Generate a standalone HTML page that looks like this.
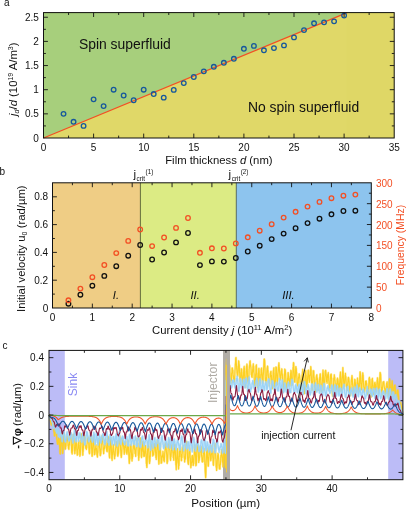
<!DOCTYPE html>
<html><head><meta charset="utf-8"><title>figure</title>
<style>html,body{margin:0;padding:0;background:#fff;}body{width:411px;height:510px;overflow:hidden;font-family:"Liberation Sans",sans-serif;}svg{display:block;will-change:transform;}</style>
</head><body>
<svg width="411" height="510" viewBox="0 0 411 510" font-family="Liberation Sans, sans-serif">
<rect width="411" height="510" fill="#fff"/>
<rect x="43.5" y="12.6" width="350.7" height="125.4" fill="#e0d868"/>
<rect x="346.7" y="12.6" width="47.5" height="125.4" fill="#dfd766"/>
<path d="M43.5 138L347.14 12.6L43.5 12.6Z" fill="#a7cf7c"/>
<path d="M43.5 138L347.14 12.6" stroke="#f34f24" stroke-width="1.2" fill="none"/>
<g fill="none" stroke="#16589c" stroke-width="1.3">
<circle cx="63.54" cy="113.85" r="2.3"/>
<circle cx="73.56" cy="121.82" r="2.3"/>
<circle cx="83.58" cy="125.92" r="2.3"/>
<circle cx="93.6" cy="99.36" r="2.3"/>
<circle cx="103.62" cy="106.12" r="2.3"/>
<circle cx="113.64" cy="89.7" r="2.3"/>
<circle cx="123.66" cy="95.5" r="2.3"/>
<circle cx="133.68" cy="100.23" r="2.3"/>
<circle cx="143.7" cy="89.7" r="2.3"/>
<circle cx="153.72" cy="94.05" r="2.3"/>
<circle cx="163.74" cy="97.67" r="2.3"/>
<circle cx="173.76" cy="89.89" r="2.3"/>
<circle cx="183.78" cy="83.08" r="2.3"/>
<circle cx="193.8" cy="77" r="2.3"/>
<circle cx="203.82" cy="71.35" r="2.3"/>
<circle cx="213.84" cy="66.81" r="2.3"/>
<circle cx="223.86" cy="62.8" r="2.3"/>
<circle cx="233.88" cy="58.79" r="2.3"/>
<circle cx="243.9" cy="48.79" r="2.3"/>
<circle cx="253.92" cy="45.89" r="2.3"/>
<circle cx="263.94" cy="50.29" r="2.3"/>
<circle cx="273.96" cy="48.11" r="2.3"/>
<circle cx="283.98" cy="45.41" r="2.3"/>
<circle cx="294" cy="37.39" r="2.3"/>
<circle cx="304.02" cy="30.1" r="2.3"/>
<circle cx="314.04" cy="23.29" r="2.3"/>
<circle cx="324.06" cy="22.37" r="2.3"/>
<circle cx="334.08" cy="21.36" r="2.3"/>
<circle cx="344.1" cy="15.51" r="2.3"/>
</g>
<rect x="43.5" y="12.6" width="350.7" height="125.4" fill="none" stroke="#111" stroke-width="1.0"/>
<path d="M93.6 138v-4.4M93.6 12.6v4.4M143.7 138v-4.4M143.7 12.6v4.4M193.8 138v-4.4M193.8 12.6v4.4M243.9 138v-4.4M243.9 12.6v4.4M294 138v-4.4M294 12.6v4.4M344.1 138v-4.4M344.1 12.6v4.4M68.55 138v-2.4M68.55 12.6v2.4M118.65 138v-2.4M118.65 12.6v2.4M168.75 138v-2.4M168.75 12.6v2.4M218.85 138v-2.4M218.85 12.6v2.4M268.95 138v-2.4M268.95 12.6v2.4M319.05 138v-2.4M319.05 12.6v2.4M369.15 138v-2.4M369.15 12.6v2.4M43.5 113.85h4.4M43.5 89.7h4.4M43.5 65.55h4.4M43.5 41.4h4.4M43.5 17.25h4.4M43.5 125.92h2.4M43.5 101.78h2.4M43.5 77.62h2.4M43.5 53.48h2.4M43.5 29.33h2.4M394.2 113.85h-4.4M394.2 89.7h-4.4M394.2 65.55h-4.4M394.2 41.4h-4.4M394.2 17.25h-4.4M394.2 125.92h-2.4M394.2 101.78h-2.4M394.2 77.62h-2.4M394.2 53.48h-2.4M394.2 29.33h-2.4" stroke="#111" stroke-width="0.9" fill="none"/>
<text x="4" y="5.8" font-size="10" text-anchor="start" fill="#111" >a</text>
<text x="43.5" y="150.6" font-size="10" text-anchor="middle" fill="#111" >0</text>
<text x="93.6" y="150.6" font-size="10" text-anchor="middle" fill="#111" >5</text>
<text x="143.7" y="150.6" font-size="10" text-anchor="middle" fill="#111" >10</text>
<text x="193.8" y="150.6" font-size="10" text-anchor="middle" fill="#111" >15</text>
<text x="243.9" y="150.6" font-size="10" text-anchor="middle" fill="#111" >20</text>
<text x="294" y="150.6" font-size="10" text-anchor="middle" fill="#111" >25</text>
<text x="344.1" y="150.6" font-size="10" text-anchor="middle" fill="#111" >30</text>
<text x="394.2" y="150.6" font-size="10" text-anchor="middle" fill="#111" >35</text>
<text x="38.8" y="141.6" font-size="10" text-anchor="end" fill="#111" >0</text>
<text x="38.8" y="117.45" font-size="10" text-anchor="end" fill="#111" >0.5</text>
<text x="38.8" y="93.3" font-size="10" text-anchor="end" fill="#111" >1</text>
<text x="38.8" y="69.15" font-size="10" text-anchor="end" fill="#111" >1.5</text>
<text x="38.8" y="45" font-size="10" text-anchor="end" fill="#111" >2</text>
<text x="38.8" y="20.85" font-size="10" text-anchor="end" fill="#111" >2.5</text>
<text x="218.9" y="164" font-size="11.3" text-anchor="middle" fill="#111" >Film thickness <tspan font-style="italic">d</tspan> (nm)</text>
<text transform="translate(17.2 79.2) rotate(-90)" font-size="11.3" text-anchor="middle" fill="#111" ><tspan font-style="italic">j</tspan><tspan font-style="italic" font-size="7" dy="2">d</tspan><tspan dy="-2">/</tspan><tspan font-style="italic">d</tspan> (10<tspan font-size="7" dy="-4">19</tspan><tspan dy="4"> A/m</tspan><tspan font-size="7" dy="-4">3</tspan><tspan dy="4">)</tspan></text>
<text x="78.9" y="48.6" font-size="13.9" text-anchor="start" fill="#111" >Spin superfluid</text>
<text x="248" y="111.7" font-size="13.9" text-anchor="start" fill="#111" >No spin superfluid</text>
<rect x="52.5" y="182.8" width="87.9" height="125.2" fill="#efcd85"/>
<rect x="140.4" y="182.8" width="95.9" height="125.2" fill="#dceb84"/>
<rect x="236.3" y="182.8" width="135" height="125.2" fill="#8dc4ee"/>
<path d="M140.4 182.8V308" stroke="#55602e" stroke-width="0.9"/>
<path d="M236.3 182.8V308" stroke="#4a5f55" stroke-width="0.9"/>
<g fill="none" stroke="#111" stroke-width="1.3">
<circle cx="68.44" cy="303.7" r="2.3"/>
<circle cx="80.39" cy="294.7" r="2.3"/>
<circle cx="92.35" cy="285.7" r="2.3"/>
<circle cx="104.3" cy="275.9" r="2.3"/>
<circle cx="116.26" cy="266.2" r="2.3"/>
<circle cx="128.22" cy="255.7" r="2.3"/>
<circle cx="140.17" cy="245" r="2.3"/>
<circle cx="152.12" cy="259.5" r="2.3"/>
<circle cx="164.08" cy="252.5" r="2.3"/>
<circle cx="176.03" cy="242.4" r="2.3"/>
<circle cx="187.99" cy="233" r="2.3"/>
<circle cx="199.94" cy="265.1" r="2.3"/>
<circle cx="211.9" cy="261.4" r="2.3"/>
<circle cx="223.85" cy="261.6" r="2.3"/>
<circle cx="235.81" cy="258" r="2.3"/>
<circle cx="247.77" cy="251.5" r="2.3"/>
<circle cx="259.72" cy="245.7" r="2.3"/>
<circle cx="271.68" cy="239.1" r="2.3"/>
<circle cx="283.63" cy="233.6" r="2.3"/>
<circle cx="295.59" cy="228.2" r="2.3"/>
<circle cx="307.54" cy="223.1" r="2.3"/>
<circle cx="319.5" cy="218.7" r="2.3"/>
<circle cx="331.45" cy="214.3" r="2.3"/>
<circle cx="343.41" cy="211" r="2.3"/>
<circle cx="355.36" cy="210.7" r="2.3"/>
</g>
<g fill="none" stroke="#f34f24" stroke-width="1.3">
<circle cx="68.44" cy="300.3" r="2.3"/>
<circle cx="80.39" cy="288.6" r="2.3"/>
<circle cx="92.35" cy="277.2" r="2.3"/>
<circle cx="104.3" cy="265" r="2.3"/>
<circle cx="116.26" cy="253.1" r="2.3"/>
<circle cx="128.22" cy="240.9" r="2.3"/>
<circle cx="140.17" cy="229.5" r="2.3"/>
<circle cx="152.12" cy="246.1" r="2.3"/>
<circle cx="164.08" cy="237.5" r="2.3"/>
<circle cx="176.03" cy="227.9" r="2.3"/>
<circle cx="187.99" cy="218" r="2.3"/>
<circle cx="199.94" cy="252.8" r="2.3"/>
<circle cx="211.9" cy="248.3" r="2.3"/>
<circle cx="223.85" cy="248.5" r="2.3"/>
<circle cx="235.81" cy="243.4" r="2.3"/>
<circle cx="247.77" cy="237.3" r="2.3"/>
<circle cx="259.72" cy="230.7" r="2.3"/>
<circle cx="271.68" cy="224.2" r="2.3"/>
<circle cx="283.63" cy="217.6" r="2.3"/>
<circle cx="295.59" cy="211.8" r="2.3"/>
<circle cx="307.54" cy="206.6" r="2.3"/>
<circle cx="319.5" cy="201.9" r="2.3"/>
<circle cx="331.45" cy="198.2" r="2.3"/>
<circle cx="343.41" cy="195.7" r="2.3"/>
<circle cx="355.36" cy="194.6" r="2.3"/>
</g>
<rect x="52.5" y="182.8" width="318.8" height="125.2" fill="none" stroke="#111" stroke-width="1.0"/>
<path d="M92.35 308v-4.4M92.35 182.8v4.4M132.2 308v-4.4M132.2 182.8v4.4M172.05 308v-4.4M172.05 182.8v4.4M211.9 308v-4.4M211.9 182.8v4.4M251.75 308v-4.4M251.75 182.8v4.4M291.6 308v-4.4M291.6 182.8v4.4M331.45 308v-4.4M331.45 182.8v4.4M72.42 308v-2.4M72.42 182.8v2.4M112.28 308v-2.4M112.28 182.8v2.4M152.12 308v-2.4M152.12 182.8v2.4M191.97 308v-2.4M191.97 182.8v2.4M231.83 308v-2.4M231.83 182.8v2.4M271.68 308v-2.4M271.68 182.8v2.4M311.53 308v-2.4M311.53 182.8v2.4M351.38 308v-2.4M351.38 182.8v2.4M52.5 280.2h4.4M52.5 252.4h4.4M52.5 224.6h4.4M52.5 196.8h4.4M52.5 294.1h2.4M52.5 266.3h2.4M52.5 238.5h2.4M52.5 210.7h2.4M371.3 287.13h-4.4M371.3 266.27h-4.4M371.3 245.4h-4.4M371.3 224.53h-4.4M371.3 203.67h-4.4M371.3 297.57h-2.4M371.3 276.7h-2.4M371.3 255.83h-2.4M371.3 234.97h-2.4M371.3 214.1h-2.4M371.3 193.23h-2.4" stroke="#111" stroke-width="0.9" fill="none"/>
<text x="-0.5" y="175" font-size="10" text-anchor="start" fill="#111" >b</text>
<text x="52.5" y="320.9" font-size="10" text-anchor="middle" fill="#111" >0</text>
<text x="92.35" y="320.9" font-size="10" text-anchor="middle" fill="#111" >1</text>
<text x="132.2" y="320.9" font-size="10" text-anchor="middle" fill="#111" >2</text>
<text x="172.05" y="320.9" font-size="10" text-anchor="middle" fill="#111" >3</text>
<text x="211.9" y="320.9" font-size="10" text-anchor="middle" fill="#111" >4</text>
<text x="251.75" y="320.9" font-size="10" text-anchor="middle" fill="#111" >5</text>
<text x="291.6" y="320.9" font-size="10" text-anchor="middle" fill="#111" >6</text>
<text x="331.45" y="320.9" font-size="10" text-anchor="middle" fill="#111" >7</text>
<text x="371.3" y="320.9" font-size="10" text-anchor="middle" fill="#111" >8</text>
<text x="48.2" y="311.6" font-size="10" text-anchor="end" fill="#111" >0</text>
<text x="48.2" y="283.8" font-size="10" text-anchor="end" fill="#111" >0.2</text>
<text x="48.2" y="256" font-size="10" text-anchor="end" fill="#111" >0.4</text>
<text x="48.2" y="228.2" font-size="10" text-anchor="end" fill="#111" >0.6</text>
<text x="48.2" y="200.4" font-size="10" text-anchor="end" fill="#111" >0.8</text>
<text x="376" y="312" font-size="10" text-anchor="start" fill="#f34f24" >0</text>
<text x="376" y="291.13" font-size="10" text-anchor="start" fill="#f34f24" >50</text>
<text x="376" y="270.27" font-size="10" text-anchor="start" fill="#f34f24" >100</text>
<text x="376" y="249.4" font-size="10" text-anchor="start" fill="#f34f24" >150</text>
<text x="376" y="228.53" font-size="10" text-anchor="start" fill="#f34f24" >200</text>
<text x="376" y="207.67" font-size="10" text-anchor="start" fill="#f34f24" >250</text>
<text x="376" y="186.8" font-size="10" text-anchor="start" fill="#f34f24" >300</text>
<text x="222.1" y="333.9" font-size="11.3" text-anchor="middle" fill="#111" >Current density <tspan font-style="italic">j</tspan> (10<tspan font-size="7.6" dy="-4">11</tspan><tspan dy="4"> A/m</tspan><tspan font-size="7.6" dy="-4">2</tspan><tspan dy="4">)</tspan></text>
<text transform="translate(25.3 248.7) rotate(-90)" font-size="11.3" text-anchor="middle" fill="#111" >Initial velocity u<tspan font-size="7" dy="2">0</tspan><tspan dy="-2"> (rad/µm)</tspan></text>
<text transform="translate(404 245) rotate(-90)" font-size="10.4" text-anchor="middle" fill="#f34f24" >Frequency (MHz)</text>
<text x="133.5" y="177.8" font-size="11.7" text-anchor="start" fill="#111" >j<tspan font-size="6.4" dy="3.6" dx="0.5">crit</tspan><tspan font-size="6.3" dy="-7.6" dx="0.4">(1)</tspan></text>
<text x="228.6" y="177.8" font-size="11.7" text-anchor="start" fill="#111" >j<tspan font-size="6.4" dy="3.6" dx="0.5">crit</tspan><tspan font-size="6.3" dy="-7.6" dx="0.4">(2)</tspan></text>
<text x="112.8" y="298.9" font-size="11.3" text-anchor="start" fill="#111" font-style="italic">I.</text>
<text x="190.4" y="298.9" font-size="11.3" text-anchor="start" fill="#111" font-style="italic">II.</text>
<text x="282.2" y="298.9" font-size="11.3" text-anchor="start" fill="#111" font-style="italic">III.</text>
<rect x="49" y="350.4" width="15.8" height="129.3" fill="#bcbcf7"/>
<rect x="388.2" y="350.4" width="14.7" height="129.3" fill="#bcbcf7"/>
<rect x="223" y="350.4" width="6.9" height="129.3" fill="#b1ada7"/>
<defs><path id="pfdd023" d="M49 415.05L49.14 415.68L49.27 416.07L49.41 416.48L49.54 416.84L49.68 416.98L49.82 417.34L49.95 418.24L50.09 418.47L50.23 419.07L50.36 420.31L50.5 420.7L50.63 421.79L50.77 422.26L50.91 423.14L51.04 423.31L51.18 424.31L51.31 424.94L51.45 424.76L51.59 425.03L51.72 424.79L51.86 423.7L51.99 424.18L52.13 423.47L52.27 422.54L52.4 421.68L52.54 422.61L52.68 421.84L52.81 422.31L52.95 422.92L53.08 423.25L53.22 424.5L53.36 424.68L53.49 426.76L53.63 427.55L53.76 430.04L53.9 431.46L54.04 431.28L54.17 432.57L54.31 433.7L54.44 436L54.58 435.18L54.72 435.62L54.85 434.57L54.99 434.49L55.13 433.45L55.26 432.5L55.4 432.21L55.53 431.43L55.67 431.65L55.81 430.73L55.94 431.36L56.08 431.48L56.21 432.51L56.35 432.61L56.49 432.43L56.62 435.87L56.76 437.78L56.89 439.23L57.03 439.8L57.17 441.64L57.3 441.26L57.44 444.04L57.58 443.76L57.71 443L57.85 442.08L57.98 444.16L58.12 443.9L58.26 440.03L58.39 441.57L58.53 439.5L58.66 437.75L58.8 437.78L58.94 439.49L59.07 440.47L59.21 438.62L59.34 442.36L59.48 442.28L59.62 447L59.75 447.72L59.89 451.69L60.03 453.43L60.16 452.18L60.3 453.86L60.43 449.71L60.57 446.54L60.71 445.82L60.84 440.55L60.98 438.29L61.11 436.66L61.25 435.76L61.39 433.23L61.52 433.14L61.66 437.81L61.79 437.91L61.93 443.37L62.07 446.29L62.2 447.28L62.34 450.16L62.48 452.15L62.61 453.4L62.75 452.88L62.88 451.38L63.02 449.4L63.16 447.84L63.29 443.02L63.43 439.66L63.56 438.12L63.7 434.14L63.84 433.13L63.97 435.44L64.11 434.11L64.24 435.46L64.38 435.15L64.52 438.95L64.65 441.94L64.79 441.96L64.93 446.28L65.06 447.87L65.2 446.59L65.33 449.26L65.47 448.48L65.61 448.69L65.74 446.34L65.88 446.41L66.01 445.03L66.15 440.62L66.29 439.28L66.42 440.39L66.56 440.43L66.69 436.78L66.83 437.1L66.97 437.48L67.1 436.55L67.24 437.19L67.38 437.72L67.51 438.91L67.65 440.95L67.78 441.04L67.92 442.66L68.06 445.53L68.19 443.77L68.33 446.98L68.46 448.47L68.6 447.32L68.74 447.17L68.87 449.33L69.01 446.53L69.15 445.41L69.28 445.15L69.42 444.66L69.55 440.53L69.69 439.57L69.83 437.8L69.96 438.13L70.1 435.15L70.23 435.81L70.37 432.54L70.51 433.25L70.64 435.14L70.78 437.29L70.91 437.3L71.05 438.57L71.19 440.61L71.32 444.83L71.46 445.98L71.6 450.69L71.73 452.61L71.87 451.17L72 452.03L72.14 453.85L72.28 452.14L72.41 451.07L72.55 446.96L72.68 443.48L72.82 441.4L72.96 440.82L73.09 436.5L73.23 435.15L73.36 434.51L73.5 434.42L73.64 435.1L73.77 438.62L73.91 437.62L74.05 439.49L74.18 445.89L74.32 448.18L74.45 450.82L74.59 450.29L74.73 453.39L74.86 453.62L75 450.39L75.13 451.5L75.27 450.4L75.41 447.97L75.54 445.59L75.68 443.01L75.81 441.89L75.95 440.57L76.09 439.63L76.22 442.02L76.36 441.66L76.5 445.1L76.63 443.72L76.77 449.08L76.9 450.16L77.04 452.87L77.18 454.24L77.31 455.28L77.45 454.47L77.58 452.1L77.72 454.39L77.86 450.55L77.99 449.05L78.13 448.33L78.26 445.62L78.4 443.28L78.54 443.97L78.67 441.85L78.81 440.69L78.95 441.03L79.08 444.88L79.22 445.27L79.35 448.78L79.49 449.39L79.63 450.92L79.76 453.96L79.9 456.09L80.03 453.63L80.17 455.39L80.31 454.32L80.44 451.53L80.58 448.77L80.71 442.4L80.85 441.89L80.99 440.16L81.12 434.77L81.26 434.34L81.4 433.88L81.53 435.37L81.67 436.22L81.8 438.39L81.94 442.08L82.08 441.65L82.21 444.59L82.35 447.38L82.48 449.45L82.62 450.71L82.76 455.21L82.89 454.82L83.03 451.13L83.16 451.63L83.3 449.21L83.44 447.2L83.57 445.17L83.71 444.19L83.85 441.9L83.98 439.22L84.12 437.13L84.25 436.73L84.39 435.4L84.53 437.12L84.66 438.16L84.8 437.56L84.93 437.4L85.07 439.08L85.21 441.27L85.34 443.64L85.48 445.76L85.62 445.4L85.75 448.21L85.89 448.36L86.02 448.19L86.16 448.28L86.3 448.82L86.43 449.39L86.57 447.7L86.7 448L86.84 446.02L86.98 443.94L87.11 443.8L87.25 443.08L87.38 439.2L87.52 439.42L87.66 438.42L87.79 439.55L87.93 439.44L88.07 437.23L88.2 439.92L88.34 440.5L88.47 439.79L88.61 442.42L88.75 443.07L88.88 448.03L89.02 449.48L89.15 452.2L89.29 453.17L89.43 453.41L89.56 453.72L89.7 452.3L89.83 448.93L89.97 448.78L90.11 443.78L90.24 441.48L90.38 441.23L90.52 435.74L90.65 434.03L90.79 432.99L90.92 436.09L91.06 434.16L91.2 435.42L91.33 441.45L91.47 441.7L91.6 448.04L91.74 450.55L91.88 453.89L92.01 456.22L92.15 455.53L92.28 456.2L92.42 451.82L92.56 452.71L92.69 449L92.83 446.95L92.97 441.71L93.1 442.06L93.24 441.28L93.37 437.05L93.51 438.44L93.65 440.61L93.78 443.6L93.92 443.59L94.05 445.92L94.19 448.72L94.33 452.4L94.46 454.6L94.6 454.11L94.73 454.29L94.87 454.06L95.01 452.96L95.14 451.95L95.28 449.07L95.42 449.27L95.55 449.86L95.69 446.52L95.82 447.29L95.96 444.77L96.1 447.38L96.23 448.24L96.37 448.71L96.5 449.22L96.64 450.46L96.78 452.57L96.91 454.99L97.05 453.05L97.18 453.61L97.32 456.61L97.46 457.08L97.59 454.65L97.73 453.02L97.87 452.38L98 448.07L98.14 446.11L98.27 443.54L98.41 443.01L98.55 440.13L98.68 438.53L98.82 439.77L98.95 440.87L99.09 438.85L99.23 441.86L99.36 442.49L99.5 446.52L99.63 447.83L99.77 448.94L99.91 450.97L100.04 452.04L100.18 455.29L100.32 455.63L100.45 454.83L100.59 454.98L100.72 453.56L100.86 453.61L101 448.75L101.13 449.74L101.27 445.01L101.4 442.96L101.54 440.12L101.68 439.72L101.81 438.25L101.95 436.31L102.09 435.76L102.22 437.11L102.36 438.6L102.49 438.1L102.63 441.23L102.77 444.15L102.9 444.18L103.04 445.22L103.17 447.1L103.31 450.67L103.45 451.69L103.58 453.63L103.72 453.51L103.85 450.82L103.99 450.03L104.13 449.38L104.26 447.86L104.4 448.59L104.54 447.71L104.67 446.36L104.81 442.27L104.94 443.57L105.08 440.3L105.22 440.11L105.35 441.09L105.49 438.52L105.62 439.03L105.76 442.95L105.9 441.86L106.03 443.53L106.17 446.02L106.3 448.02L106.44 446.75L106.58 449.42L106.71 450.8L106.85 451.51L106.99 450.32L107.12 451.25L107.26 451.6L107.39 447.55L107.53 446.13L107.67 442.12L107.8 440.58L107.94 440.32L108.07 436.67L108.21 439.3L108.35 439.67L108.48 437.47L108.62 443.02L108.75 443.36L108.89 448.12L109.03 451.23L109.16 452.16L109.3 455.95L109.44 457.13L109.57 457.92L109.71 454.66L109.84 454.66L109.98 452.67L110.12 448.15L110.25 444.22L110.39 439.48L110.52 438.86L110.66 437.1L110.8 438.67L110.93 439.75L111.07 441.58L111.2 443.05L111.34 448.49L111.48 451.94L111.61 453.2L111.75 458.63L111.89 459.19L112.02 457.48L112.16 460.4L112.29 455.76L112.43 454.6L112.57 453.93L112.7 451.07L112.84 448.79L112.97 447.54L113.11 445.74L113.25 444.85L113.38 444.71L113.52 445.33L113.65 449.65L113.79 451.68L113.93 452.29L114.06 454.63L114.2 454.4L114.34 455.12L114.47 456.36L114.61 458.75L114.74 455.16L114.88 456.58L115.02 454.58L115.15 455.54L115.29 452.32L115.42 450.6L115.56 449.19L115.7 448.11L115.83 447.53L115.97 444.44L116.1 445.49L116.24 441.72L116.38 442.1L116.51 441.53L116.65 442.14L116.79 445.9L116.92 446.96L117.06 446.22L117.19 447.93L117.33 450.62L117.47 453.65L117.6 455.4L117.74 456.23L117.87 456.25L118.01 454.56L118.15 455.27L118.28 453.49L118.42 453.47L118.55 451.76L118.69 447.98L118.83 445.73L118.96 445.46L119.1 439.88L119.24 441L119.37 439.65L119.51 438.71L119.64 435.77L119.78 436.61L119.92 437.56L120.05 439.22L120.19 442.66L120.32 443.83L120.46 444.82L120.6 449.87L120.73 450.82L120.87 453.51L121.01 455.75L121.14 453.78L121.28 457.43L121.41 456.66L121.55 454.95L121.69 453.51L121.82 451.22L121.96 447.8L122.09 446.84L122.23 442.49L122.37 442.48L122.5 441.57L122.64 439.75L122.77 439.92L122.91 441.87L123.05 442.44L123.18 440.58L123.32 445.05L123.46 446.2L123.59 445.67L123.73 448.73L123.86 449.64L124 450.03L124.14 452.53L124.27 454.22L124.41 451.15L124.54 452.51L124.68 450.42L124.82 446.45L124.95 447.83L125.09 445.11L125.22 445.11L125.36 443.21L125.5 442.84L125.63 441.28L125.77 444.01L125.91 445.9L126.04 447.46L126.18 447.85L126.31 451.51L126.45 452.51L126.59 452.68L126.72 453.54L126.86 454.06L126.99 454.07L127.13 452.55L127.27 451.91L127.4 450.22L127.54 446.81L127.67 443.75L127.81 442.67L127.95 439.96L128.08 440.4L128.22 442.51L128.36 442.91L128.49 444.77L128.63 451.24L128.76 454.12L128.9 456.12L129.04 459.13L129.17 461.98L129.31 463.42L129.44 461.87L129.58 459.9L129.72 458.86L129.85 458.73L129.99 453.09L130.12 451.55L130.26 447.87L130.4 446L130.53 444.71L130.67 445.49L130.81 444.47L130.94 444.71L131.08 446.58L131.21 448.83L131.35 452.45L131.49 452.86L131.62 454.73L131.76 458.18L131.89 459.13L132.03 460.92L132.17 458.04L132.3 458.9L132.44 457.73L132.57 454.62L132.71 456.85L132.85 451.74L132.98 449.29L133.12 449.11L133.26 446.17L133.39 446.8L133.53 444.6L133.66 442.98L133.8 442.37L133.94 445.3L134.07 443.72L134.21 446.56L134.34 446.06L134.48 449.13L134.62 447.6L134.75 448.63L134.89 449.94L135.02 453.45L135.16 453.66L135.3 453.24L135.43 452.67L135.57 455.38L135.71 456.43L135.84 454.24L135.98 450.75L136.11 449.55L136.25 448.18L136.39 446.68L136.52 444.14L136.66 442.26L136.79 443.03L136.93 442.55L137.07 438.43L137.2 441.17L137.34 439.05L137.47 441.13L137.61 442.94L137.75 444.95L137.88 443.42L138.02 447.26L138.16 451.34L138.29 455.47L138.43 454.08L138.56 456.72L138.7 460.14L138.84 457.14L138.97 457.6L139.11 455.78L139.24 454.96L139.38 453.18L139.52 446.8L139.65 446.12L139.79 443.29L139.93 441.51L140.06 438.87L140.2 439.99L140.33 438.07L140.47 439.73L140.61 441.13L140.74 446.23L140.88 447.91L141.01 449.89L141.15 451.98L141.29 456.26L141.42 456.87L141.56 457.55L141.69 455.53L141.83 454.61L141.97 451.26L142.1 451.46L142.24 446.24L142.38 446.14L142.51 445.82L142.65 444.48L142.78 441.67L142.92 442.67L143.06 446.32L143.19 447L143.33 449.91L143.46 451.93L143.6 452.1L143.74 455.8L143.87 456.45L144.01 455.58L144.14 456.01L144.28 454.41L144.42 454.98L144.55 456.1L144.69 450.83L144.83 451.15L144.96 447.57L145.1 446.17L145.23 447.84L145.37 445.9L145.51 445.61L145.64 447.34L145.78 451.4L145.91 453.6L146.05 453.88L146.19 457.69L146.32 463.57L146.46 462.57L146.59 465.67L146.73 465.88L146.87 467.42L147 465.03L147.14 463.42L147.28 459.35L147.41 454.57L147.55 451.2L147.68 447.69L147.82 448.34L147.96 443.33L148.09 441.86L148.23 445.78L148.36 443.12L148.5 447.61L148.64 446.18L148.77 450.34L148.91 451.97L149.04 457.24L149.18 458.66L149.32 460.67L149.45 462.47L149.59 463.53L149.73 461.1L149.86 461.38L150 459.24L150.13 455.83L150.27 456.7L150.41 453.17L150.54 451.66L150.68 446.67L150.81 446.07L150.95 444.09L151.09 444.05L151.22 440.53L151.36 441.53L151.49 442.44L151.63 441.37L151.77 444.56L151.9 446.7L152.04 446.84L152.18 449.38L152.31 450.73L152.45 450.43L152.58 452.24L152.72 456.03L152.86 453.81L152.99 454.58L153.13 453.08L153.26 453.35L153.4 452.49L153.54 454.93L153.67 452.89L153.81 452.2L153.94 451.25L154.08 448.14L154.22 448.12L154.35 445.13L154.49 443.61L154.63 445.27L154.76 444.84L154.9 445.28L155.03 443.99L155.17 446.49L155.31 446.57L155.44 451.17L155.58 453.04L155.71 452.51L155.85 457.37L155.99 455.72L156.12 456.39L156.26 459.46L156.4 457.08L156.53 456.74L156.67 455.18L156.8 449.87L156.94 449.94L157.08 444.83L157.21 442.75L157.35 440.21L157.48 440.7L157.62 440.53L157.76 439.46L157.89 440.69L158.03 444.49L158.16 448.51L158.3 450.79L158.44 454.66L158.57 460.28L158.71 462.01L158.85 464.08L158.98 463.73L159.12 461.77L159.25 457.11L159.39 453.14L159.53 450.56L159.66 448.2L159.8 446.05L159.93 444.58L160.07 443.3L160.21 446.1L160.34 445.23L160.48 448.44L160.61 453.23L160.75 455.98L160.89 456.68L161.02 458.94L161.16 463.28L161.3 460.85L161.43 461.68L161.57 463.01L161.7 462.02L161.84 458.98L161.98 456.89L162.11 456.03L162.25 457.22L162.38 454.96L162.52 456.32L162.66 454.68L162.79 455.31L162.93 451.43L163.06 452.82L163.2 453.13L163.34 456.26L163.47 457.19L163.61 457.19L163.75 460.44L163.88 459.17L164.02 460.44L164.15 459.97L164.29 461.73L164.43 458.83L164.56 456.48L164.7 453.53L164.83 453L164.97 451.57L165.11 449.55L165.24 448.61L165.38 446.55L165.51 442.99L165.65 442.02L165.79 444.95L165.92 445.91L166.06 446.08L166.2 449.42L166.33 450.45L166.47 451.7L166.6 453.67L166.74 455.28L166.88 460L167.01 462.57L167.15 463.44L167.28 461.64L167.42 461.97L167.56 461.92L167.69 459.6L167.83 456.38L167.96 452.94L168.1 450.65L168.24 446.39L168.37 443.94L168.51 444.03L168.65 443.78L168.78 440.78L168.92 439.81L169.05 439.87L169.19 441.28L169.33 444.32L169.46 444.7L169.6 449.18L169.73 447.97L169.87 451.02L170.01 454.09L170.14 455.43L170.28 458.78L170.41 459.56L170.55 460.36L170.69 458.73L170.82 455.43L170.96 456.71L171.1 455.12L171.23 453.15L171.37 450.45L171.5 450.64L171.64 449.98L171.78 445.09L171.91 446.69L172.05 444.87L172.18 445.48L172.32 447.6L172.46 448.75L172.59 448.58L172.73 448.12L172.87 453.1L173 451.6L173.14 454.23L173.27 457.73L173.41 456.61L173.55 457.1L173.68 460.26L173.82 459.76L173.95 455.91L174.09 454.68L174.23 452.25L174.36 449.48L174.5 447.98L174.63 449.54L174.77 444.38L174.91 444.71L175.04 445.15L175.18 446.13L175.32 450.51L175.45 454.55L175.59 458.43L175.72 460.99L175.86 464.95L176 463.73L176.13 466.39L176.27 469.69L176.4 464.76L176.54 463.64L176.68 461.8L176.81 457.62L176.95 455.68L177.08 450.72L177.22 449.71L177.36 452.24L177.49 448.61L177.63 452.88L177.77 451.58L177.9 457.99L178.04 459.73L178.17 462.76L178.31 463.21L178.45 464.78L178.58 468.9L178.72 466.13L178.85 464.97L178.99 465.66L179.13 463.07L179.26 456.15L179.4 456.99L179.53 452.07L179.67 448.89L179.81 445.84L179.94 446.09L180.08 448.55L180.22 445.87L180.35 446.31L180.49 447.92L180.62 449.62L180.76 452.49L180.9 456.76L181.03 454.48L181.17 456.12L181.3 460.18L181.44 460.69L181.58 460.42L181.71 456.5L181.85 456.02L181.98 457.47L182.12 453.94L182.26 453.38L182.39 450.07L182.53 447.27L182.67 447.41L182.8 448.14L182.94 447.5L183.07 446.1L183.21 445.57L183.35 446.25L183.48 446.56L183.62 448.09L183.75 450.88L183.89 449.71L184.03 453.33L184.16 456.74L184.3 458.18L184.43 456.79L184.57 461.65L184.71 461.99L184.84 459.34L184.98 459.62L185.12 458.6L185.25 456.62L185.39 459L185.52 454.23L185.66 453.85L185.8 447.83L185.93 444.85L186.07 446.45L186.2 444.26L186.34 443.87L186.48 441.89L186.61 441.33L186.75 443.35L186.88 441.96L187.02 446.27L187.16 448.58L187.29 450.28L187.43 455.43L187.57 457.09L187.7 460.44L187.84 461.77L187.97 462.72L188.11 463.29L188.25 463.94L188.38 464.45L188.52 462.39L188.65 459.74L188.79 457.08L188.93 452.07L189.06 452.94L189.2 447.94L189.33 446.14L189.47 447.48L189.61 448.94L189.74 448.32L189.88 451.51L190.02 452.15L190.15 457.82L190.29 458.1L190.42 460.68L190.56 463.05L190.7 466.24L190.83 467.79L190.97 466.13L191.1 465.56L191.24 465.68L191.38 462.1L191.51 462.42L191.65 462.99L191.79 461.47L191.92 456.45L192.06 458.55L192.19 455.48L192.33 457.92L192.47 455.5L192.6 455.76L192.74 458.7L192.87 461.92L193.01 461.59L193.15 465.12L193.28 465.51L193.42 464.37L193.55 463.76L193.69 463.53L193.83 461.07L193.96 458.34L194.1 456.57L194.24 454.44L194.37 450.19L194.51 445.81L194.64 444.58L194.78 444.72L194.92 446.37L195.05 445.78L195.19 447.96L195.32 452.08L195.46 455.19L195.6 457.18L195.73 462.17L195.87 465.78L196 464.86L196.14 465.53L196.28 464.6L196.41 462.36L196.55 459.7L196.69 454.13L196.82 451.76L196.96 445.97L197.09 446.77L197.23 442.59L197.37 442.06L197.5 443.94L197.64 442.08L197.77 443.33L197.91 448.53L198.05 450.17L198.18 450.62L198.32 453.06L198.45 456.93L198.59 457.28L198.73 462.39L198.86 460.1L199 460.56L199.14 460.54L199.27 460.05L199.41 458.24L199.54 457.43L199.68 455.74L199.82 452.88L199.95 449.62L200.09 452.17L200.22 449.66L200.36 446.01L200.5 447.18L200.63 448.51L200.77 449.87L200.9 446.22L201.04 446.86L201.18 450.18L201.31 451.26L201.45 454.91L201.59 456.14L201.72 455.4L201.86 457.26L201.99 459.33L202.13 461.81L202.27 459.49L202.4 460.85L202.54 459.57L202.67 461.82L202.81 458.31L202.95 461.43L203.08 458.17L203.22 456.8L203.35 452.83L203.49 451.81L203.63 451.37L203.76 451.96L203.9 449.77L204.04 448.48L204.17 452.26L204.31 452.09L204.44 453.51L204.58 454.67L204.72 458.27L204.85 464.49L204.99 464.46L205.12 469.6L205.26 472.83L205.4 473.73L205.53 476.87L205.67 477.77L205.8 475.62L205.94 472.23L206.08 466.21L206.21 461.58L206.35 459.25L206.49 454.9L206.62 451.18L206.76 452.02L206.89 447.79L207.03 450.55L207.17 452.16L207.3 450.4L207.44 456.76L207.57 457.38L207.71 459.47L207.85 461.88L207.98 462.99L208.12 465.99L208.25 465.29L208.39 466.28L208.53 464.18L208.66 457.96L208.8 456.62L208.94 453.65L209.07 450.08L209.21 448.41L209.34 447.21L209.48 448.77L209.62 447.51L209.75 447.55L209.89 449.68L210.02 452.66L210.16 455.27L210.3 455.69L210.43 459.36L210.57 458.18L210.71 460.77L210.84 460.34L210.98 457.58L211.11 458.98L211.25 455.65L211.39 454.42L211.52 452.73L211.66 451.06L211.79 448.71L211.93 445.92L212.07 448.92L212.2 449.52L212.34 448.75L212.47 450.7L212.61 451.29L212.75 456.54L212.88 457.96L213.02 458.08L213.16 462.74L213.29 464.85L213.43 462.49L213.56 465.32L213.7 461.95L213.84 458.8L213.97 458.97L214.11 454.48L214.24 453.42L214.38 449.93L214.52 445.27L214.65 445.33L214.79 445.67L214.92 443.62L215.06 444.47L215.2 447.38L215.33 447.58L215.47 450.51L215.61 454.03L215.74 458.41L215.88 458.7L216.01 461.09L216.15 466.62L216.29 467.46L216.42 467.4L216.56 470.52L216.69 470.14L216.83 467.56L216.97 468.14L217.1 465.55L217.24 463.05L217.37 458.8L217.51 455.52L217.65 456.95L217.78 455.93L217.92 453.37L218.06 453.76L218.19 454.54L218.33 453.98L218.46 457.49L218.6 458.71L218.74 460.05L218.87 461.14L219.01 465.7L219.14 465.91L219.28 468.83L219.42 467.05L219.55 468.62L219.69 467.89L219.82 468.71L219.96 468.95L220.1 465.84L220.23 464.34L220.37 464.79L220.51 461.69L220.64 461.17L220.78 457.57L220.91 455.28L221.05 455.47L221.19 455.66L221.32 454.14L221.46 451.66L221.59 450.78L221.73 449.46L221.87 451.24L222 452.73L222.14 457.4L222.27 455.55L222.41 461.57L222.55 461.36L222.68 462.83L222.82 463.14L222.96 466.8L223.09 462.69L223.23 463.15L223.36 460.69L223.5 456.4L223.64 453.27L223.77 453.55L223.91 449.61L224.04 446.96L224.18 446.32L224.32 442.26L224.45 446.05L224.59 448.4L224.72 449.01L224.86 453.81L225 460.15L225.13 460.75L225.27 465.74L225.41 464.81L225.54 467.76L225.68 465.11L225.81 464.2L225.95 460.52L226.09 459.2L226.22 368.13L226.36 365.92L226.49 362.26L226.63 361.63L226.77 359.22L226.9 362.49L227.04 363.13L227.18 366.01L227.31 370.74L227.45 376.45L227.58 379.81L227.72 380.95L227.86 385.37L227.99 384.05L228.13 385.24L228.26 381.97L228.4 380.31L228.54 378.03L228.67 376.53L228.81 374.94L228.94 369.76L229.08 366.74L229.22 364.59L229.35 367.52L229.49 368.16L229.63 365.5L229.76 368.41L229.9 371.76L230.03 372.88L230.17 377.9L230.31 378.05L230.44 379.08L230.58 380.51L230.71 383.17L230.85 383.33L230.99 380.6L231.12 378.5L231.26 380.78L231.39 379.95L231.53 378.01L231.67 373.12L231.8 373.44L231.94 371.77L232.08 368.13L232.21 369.1L232.35 370.25L232.48 368.1L232.62 371.65L232.76 371L232.89 370.05L233.03 373.81L233.16 375.98L233.3 375.36L233.44 377.93L233.57 376.53L233.71 381.99L233.84 379.82L233.98 382.43L234.12 380.68L234.25 382.01L234.39 380.04L234.53 380.14L234.66 378.62L234.8 375.12L234.93 370.77L235.07 370L235.21 367.67L235.34 364.11L235.48 363.27L235.61 360.41L235.75 358.01L235.89 357.65L236.02 357.65L236.16 360.04L236.29 362.85L236.43 364.92L236.57 365.85L236.7 369L236.84 369.62L236.98 373.04L237.11 372.18L237.25 374.85L237.38 375.75L237.52 375.7L237.66 376.14L237.79 375.27L237.93 373.91L238.06 372.77L238.2 366.95L238.34 366.02L238.47 365.94L238.61 360.71L238.74 361.65L238.88 361.57L239.02 363.34L239.15 366.41L239.29 364.54L239.43 370.97L239.56 372.77L239.7 372.48L239.83 378.9L239.97 379.01L240.11 380.36L240.24 382.01L240.38 378.76L240.51 380.39L240.65 381L240.79 377.25L240.92 377.62L241.06 372.58L241.19 370.27L241.33 368.9L241.47 372.18L241.6 369.17L241.74 371.4L241.88 371.74L242.01 374.16L242.15 376.12L242.28 379.06L242.42 378.88L242.56 383.17L242.69 380.42L242.83 385.3L242.96 380.86L243.1 383.44L243.24 382.19L243.37 376.8L243.51 375.1L243.65 371.28L243.78 370.04L243.92 367.63L244.05 369.15L244.19 366.42L244.33 368.21L244.46 368.16L244.6 375.36L244.73 378.34L244.87 378.92L245.01 380.9L245.14 385.74L245.28 386.01L245.41 387.23L245.55 387.38L245.69 385.32L245.82 382.06L245.96 381.43L246.1 376.58L246.23 371.06L246.37 370.14L246.5 366.68L246.64 366.09L246.78 365.02L246.91 364.06L247.05 364.92L247.18 365.95L247.32 370.69L247.46 374.72L247.59 376.84L247.73 380.6L247.86 381.78L248 381.57L248.14 382.12L248.27 383.76L248.41 383.28L248.55 382.29L248.68 380.06L248.82 376.37L248.95 375.1L249.09 369.78L249.23 368.92L249.36 367.84L249.5 365.62L249.63 365.97L249.77 361.74L249.91 361.02L250.04 362.53L250.18 360.94L250.31 363.38L250.45 364.2L250.59 364.9L250.72 366.79L250.86 366.93L251 368.72L251.13 370.16L251.27 374.66L251.4 373.01L251.54 375.41L251.68 376.61L251.81 376.41L251.95 376.71L252.08 377.38L252.22 375.72L252.36 373.49L252.49 371.85L252.63 369.47L252.76 371.27L252.9 366.67L253.04 365.9L253.17 365.48L253.31 363.92L253.45 367.99L253.58 365.92L253.72 366.83L253.85 372.44L253.99 372.81L254.13 374.05L254.26 380L254.4 380.28L254.53 382.54L254.67 386.6L254.81 389.05L254.94 388.95L255.08 385.4L255.21 385.58L255.35 383.6L255.49 379.96L255.62 374.38L255.76 374.13L255.9 372.25L256.03 365.73L256.17 367.26L256.3 366.67L256.44 364.83L256.58 369.87L256.71 373.48L256.85 373.08L256.98 379.46L257.12 382.82L257.26 382.27L257.39 387.4L257.53 385.22L257.66 387.62L257.8 386.56L257.94 384.93L258.07 380.84L258.21 377.92L258.35 375.9L258.48 373.05L258.62 372.29L258.75 368.91L258.89 368.4L259.03 369.96L259.16 371.07L259.3 376.36L259.43 377.67L259.57 379.99L259.71 382.09L259.84 379.83L259.98 380.99L260.11 381.18L260.25 382.38L260.39 383.37L260.52 380.46L260.66 380.31L260.8 374.45L260.93 375.36L261.07 373.48L261.2 369.09L261.34 371.57L261.48 367.98L261.61 371.06L261.75 370.35L261.88 374.29L262.02 372.48L262.16 376.7L262.29 378.86L262.43 379.13L262.57 380.62L262.7 382.76L262.84 383.19L262.97 380.21L263.11 381.01L263.25 374.81L263.38 374.34L263.52 371.99L263.65 368.07L263.79 366.05L263.93 362.57L264.06 359.6L264.2 359.03L264.33 359L264.47 359.65L264.61 359.97L264.74 361.36L264.88 366.2L265.02 368.22L265.15 372.98L265.29 377.83L265.42 380.37L265.56 379.45L265.7 382.53L265.83 383.62L265.97 382.89L266.1 380.57L266.24 381.27L266.38 379.46L266.51 377.28L266.65 376.63L266.78 372.04L266.92 370.39L267.06 368.75L267.19 367.86L267.33 367.21L267.47 366.13L267.6 369.07L267.74 366.54L267.87 371.92L268.01 370.31L268.15 375.39L268.28 374.64L268.42 379.05L268.55 381.72L268.69 381.23L268.83 381.16L268.96 382.04L269.1 382.4L269.23 382.03L269.37 385.9L269.51 383.78L269.64 384.05L269.78 379.93L269.92 379.93L270.05 377.17L270.19 375.49L270.32 373.23L270.46 373.51L270.6 371.74L270.73 372.67L270.87 374.64L271 371.33L271.14 375.71L271.28 376.96L271.41 375.22L271.55 379.58L271.68 379.89L271.82 384.74L271.96 385.72L272.09 384.85L272.23 388.71L272.37 386.71L272.5 384.13L272.64 385.94L272.77 381.61L272.91 378.79L273.05 376.42L273.18 372.87L273.32 370.63L273.45 371.79L273.59 370.01L273.73 368.55L273.86 367.8L274 373.39L274.13 374.75L274.27 380.3L274.41 380.65L274.54 385.66L274.68 387.78L274.82 388.51L274.95 391.02L275.09 387.21L275.22 384.56L275.36 381.06L275.5 379.89L275.63 376.26L275.77 373.11L275.9 367.11L276.04 367.5L276.18 367.22L276.31 367.32L276.45 368.24L276.58 372.39L276.72 375.17L276.86 376.12L276.99 378.6L277.13 382.63L277.27 384.65L277.4 380.93L277.54 380.99L277.67 379.96L277.81 378.58L277.95 373.52L278.08 373.18L278.22 371.59L278.35 369.91L278.49 367.09L278.63 364.85L278.76 365.37L278.9 362.82L279.03 364.67L279.17 366.41L279.31 367.49L279.44 369.93L279.58 372L279.72 374.5L279.85 376.04L279.99 377.46L280.12 376.8L280.26 380.03L280.4 377.31L280.53 378.95L280.67 375.61L280.8 377.86L280.94 374.64L281.08 373.37L281.21 370.78L281.35 371.83L281.49 370.65L281.62 370.73L281.76 368.81L281.89 369.26L282.03 372.86L282.17 373.62L282.3 375.51L282.44 374.45L282.57 379.17L282.71 381.21L282.85 384.84L282.98 385.32L283.12 386.33L283.25 388.1L283.39 391.58L283.53 389.47L283.66 388.42L283.8 388.94L283.94 383.67L284.07 383.38L284.21 380.89L284.34 376.76L284.48 374.4L284.62 372.55L284.75 369.16L284.89 369.47L285.02 369.7L285.16 371.1L285.3 369.78L285.43 372.09L285.57 373.31L285.7 376.51L285.84 380.58L285.98 383.03L286.11 384.93L286.25 387.32L286.39 385.61L286.52 387.86L286.66 389.81L286.79 387.52L286.93 387.05L287.07 388.26L287.2 383.5L287.34 383.84L287.47 378.4L287.61 380.19L287.75 377.8L287.88 376.55L288.02 372.89L288.15 372.62L288.29 373.74L288.43 376.2L288.56 375.97L288.7 376.11L288.84 380.53L288.97 378.41L289.11 380.39L289.24 381.44L289.38 383.6L289.52 384.66L289.65 383.28L289.79 386.03L289.92 384.95L290.06 384.34L290.2 382.27L290.33 377.49L290.47 378.45L290.6 373.62L290.74 373.54L290.88 370.37L291.01 370.54L291.15 371.3L291.29 371.82L291.42 377.24L291.56 378.61L291.69 380.71L291.83 382.86L291.97 383.75L292.1 384.03L292.24 384.86L292.37 383.15L292.51 382.22L292.65 380.85L292.78 376.7L292.92 371.89L293.05 367.99L293.19 366.89L293.33 364.79L293.46 362.62L293.6 364.49L293.74 362.96L293.87 369.13L294.01 369.23L294.14 373.15L294.28 377.45L294.42 378.87L294.55 381.8L294.69 381.1L294.82 381.74L294.96 382.25L295.1 379.3L295.23 376.89L295.37 377.34L295.5 371.74L295.64 369.31L295.78 366.77L295.91 366.67L296.05 367.97L296.19 369.3L296.32 368.6L296.46 372.38L296.59 372.25L296.73 375.5L296.87 376.86L297 381.17L297.14 383.35L297.27 382.22L297.41 384.27L297.55 386L297.68 385.2L297.82 385.29L297.96 383.58L298.09 383.05L298.23 382.79L298.36 378.43L298.5 377.51L298.64 376.83L298.77 377.86L298.91 377.39L299.04 374.48L299.18 373.82L299.32 374.62L299.45 376.92L299.59 375.43L299.72 377.29L299.86 379.21L300 379.73L300.13 381.93L300.27 382.7L300.41 383.84L300.54 384.28L300.68 389.27L300.81 388.14L300.95 386.97L301.09 388.22L301.22 388.04L301.36 385.85L301.49 387.95L301.63 382.77L301.77 381.35L301.9 379.21L302.04 378.09L302.17 374.61L302.31 374.94L302.45 371.88L302.58 372.32L302.72 369.38L302.86 370.64L302.99 373.5L303.13 374.33L303.26 378.48L303.4 380.73L303.54 385.24L303.67 385.01L303.81 387.84L303.94 389.68L304.08 393.68L304.22 390.71L304.35 393.54L304.49 389.64L304.62 387.77L304.76 386.92L304.9 382.37L305.03 377.4L305.17 375.85L305.31 375.03L305.44 371.42L305.58 372.78L305.71 370.67L305.85 373.84L305.99 376.91L306.12 375.18L306.26 381.42L306.39 382.92L306.53 382.69L306.67 387.02L306.8 386.03L306.94 384.82L307.07 385.41L307.21 385.25L307.35 381.76L307.48 379.44L307.62 378.34L307.76 376.05L307.89 375.56L308.03 373.8L308.16 370.42L308.3 370.23L308.44 374.72L308.57 374.71L308.71 375.82L308.84 374.87L308.98 378.98L309.12 380.55L309.25 379.09L309.39 382.29L309.52 378.8L309.66 380.36L309.8 377.07L309.93 375.43L310.07 375.62L310.21 371.16L310.34 370.86L310.48 370.06L310.61 369.7L310.75 366.47L310.89 367.52L311.02 369.93L311.16 369.76L311.29 375.23L311.43 377.31L311.57 382.09L311.7 383.99L311.84 384.23L311.97 387.67L312.11 390.03L312.25 389.56L312.38 386.74L312.52 386.42L312.66 381.28L312.79 381.96L312.93 375.57L313.06 373.94L313.2 370.89L313.34 371.4L313.47 371.96L313.61 371.73L313.74 370.85L313.88 375.23L314.02 377.24L314.15 377.1L314.29 379.57L314.43 382.45L314.56 385.04L314.7 388.3L314.83 388.41L314.97 390L315.11 390.78L315.24 390.91L315.38 391.64L315.51 389.95L315.65 387.56L315.79 384.79L315.92 384.35L316.06 378.93L316.19 379.04L316.33 377.07L316.47 375.49L316.6 377.8L316.74 374.83L316.88 374.75L317.01 378.26L317.15 379.72L317.28 377.91L317.42 378.77L317.56 380.5L317.69 383.53L317.83 384.02L317.96 387.31L318.1 387.84L318.24 387.87L318.37 387.04L318.51 390.08L318.64 386.41L318.78 389.81L318.92 385.03L319.05 387.06L319.19 383.22L319.33 381.66L319.46 379.4L319.6 379.78L319.73 377.25L319.87 377.67L320.01 374.42L320.14 377.05L320.28 373.86L320.41 375.82L320.55 379.39L320.69 377.49L320.82 382.41L320.96 385.96L321.09 387.67L321.23 390.97L321.37 391.76L321.5 391.15L321.64 390.36L321.78 391.34L321.91 388.95L322.05 386.81L322.18 384.34L322.32 382.46L322.46 379.67L322.59 377.02L322.73 372.91L322.86 372.79L323 369.99L323.14 372.35L323.27 372.87L323.41 375.46L323.54 378.13L323.68 383.33L323.82 385.9L323.95 386.51L324.09 390.11L324.23 388.73L324.36 386.95L324.5 387.84L324.63 383.03L324.77 381.57L324.91 377.03L325.04 375.8L325.18 372.29L325.31 370.72L325.45 371.75L325.59 370.22L325.72 370.58L325.86 372.35L325.99 373.21L326.13 374.02L326.27 376.28L326.4 377.68L326.54 381.77L326.68 380.53L326.81 381.33L326.95 379.9L327.08 383.19L327.22 381.41L327.36 376.7L327.49 377.83L327.63 375.09L327.76 374.47L327.9 374.53L328.04 374.06L328.17 373.75L328.31 372.69L328.44 375.81L328.58 376.36L328.72 380.34L328.85 380.7L328.99 383.23L329.13 384.56L329.26 385.55L329.4 390.02L329.53 386.81L329.67 388.21L329.81 388.96L329.94 386.8L330.08 386.57L330.21 383.92L330.35 379.13L330.49 377.48L330.62 374.89L330.76 376.33L330.89 375.6L331.03 374.16L331.17 374.08L331.3 374.26L331.44 377.7L331.58 378.07L331.71 381.27L331.85 385.23L331.98 385.83L332.12 391.31L332.26 391.23L332.39 394.51L332.53 396.06L332.66 394.51L332.8 393.93L332.94 392.49L333.07 391.9L333.21 387.55L333.35 385.86L333.48 386.09L333.62 384.34L333.75 378.16L333.89 378.63L334.03 378.52L334.16 377.34L334.3 374.83L334.43 377.25L334.57 377.17L334.71 377.08L334.84 379.96L334.98 380.45L335.11 381.08L335.25 383.57L335.39 385.97L335.52 387.45L335.66 389.93L335.8 389.33L335.93 389.67L336.07 389.89L336.2 389.86L336.34 387.98L336.48 389.19L336.61 385.77L336.75 383.23L336.88 385.7L337.02 383.39L337.16 379.07L337.29 381.82L337.43 378.04L337.56 378.7L337.7 380.93L337.84 379.12L337.97 382.66L338.11 380.47L338.25 384.34L338.38 383.5L338.52 385.36L338.65 390.12L338.79 390.26L338.93 392.05L339.06 389.65L339.2 391.82L339.33 390.6L339.47 388.48L339.61 382.95L339.74 382.8L339.88 379.79L340.01 376.89L340.15 374.66L340.29 374.27L340.42 372.06L340.56 375.61L340.7 377L340.83 378.07L340.97 383.73L341.1 387.13L341.24 387.13L341.38 391.3L341.51 389.9L341.65 390L341.78 390.47L341.92 388.17L342.06 385.87L342.19 378.98L342.33 377.07L342.46 374.2L342.6 372.37L342.74 370.66L342.87 367.62L343.01 371.46L343.15 371.42L343.28 373.53L343.42 376.72L343.55 379.53L343.69 382.8L343.83 386.02L343.96 384.95L344.1 385.26L344.23 386.39L344.37 386.68L344.51 382.37L344.64 383.4L344.78 381.53L344.91 377.8L345.05 375.45L345.19 375.49L345.32 376.93L345.46 373.44L345.6 377.49L345.73 377.82L345.87 376.61L346 379.1L346.14 381.02L346.28 385.57L346.41 383.96L346.55 387.17L346.68 389.82L346.82 387.28L346.96 386.98L347.09 390.52L347.23 388.37L347.36 385.72L347.5 386.99L347.64 385.83L347.77 382.48L347.91 382.45L348.05 378.83L348.18 378.26L348.32 377.36L348.45 377.45L348.59 379.44L348.73 377.73L348.86 378.95L349 380.55L349.13 381.78L349.27 384.73L349.41 387.23L349.54 386.4L349.68 390.69L349.81 393.59L349.95 391.49L350.09 394.43L350.22 394.24L350.36 395.52L350.5 395.59L350.63 393.56L350.77 389.71L350.9 389.83L351.04 384.78L351.18 384.75L351.31 379.87L351.45 380.62L351.58 377.75L351.72 377.81L351.86 377.12L351.99 375.67L352.13 377.08L352.27 377.76L352.4 381L352.54 382.92L352.67 385.4L352.81 385.57L352.95 391.3L353.08 391.95L353.22 391.68L353.35 393.76L353.49 395.32L353.63 391.88L353.76 394.51L353.9 392.87L354.03 391.48L354.17 387.67L354.31 383.86L354.44 384.3L354.58 382.67L354.72 379.41L354.85 381.72L354.99 381.89L355.12 379.71L355.26 383L355.4 382.52L355.53 385.65L355.67 385.44L355.8 386.03L355.94 389.06L356.08 390.87L356.21 390.08L356.35 389.91L356.48 392.15L356.62 390.51L356.76 388.62L356.89 386.44L357.03 385.55L357.17 382.13L357.3 382.12L357.44 378.18L357.57 379.66L357.71 380.06L357.85 381.2L357.98 382.22L358.12 383.62L358.25 383.02L358.39 387.16L358.53 389.13L358.66 388.65L358.8 389.57L358.93 390.46L359.07 391.74L359.21 389.62L359.34 386.38L359.48 384.36L359.62 380.81L359.75 378.33L359.89 375.72L360.02 371.96L360.16 371.87L360.3 372.89L360.43 374.18L360.57 375.84L360.7 378.35L360.84 384.06L360.98 383.62L361.11 387.58L361.25 389.73L361.38 387.95L361.52 388.84L361.66 389.76L361.79 389.5L361.93 385.62L362.07 383.05L362.2 380.68L362.34 379.38L362.47 375.46L362.61 375.42L362.75 372.76L362.88 373.85L363.02 375.67L363.15 374.99L363.29 378.45L363.43 382.14L363.56 383.65L363.7 386.8L363.83 387.27L363.97 386.99L364.11 388.08L364.24 390.01L364.38 392.31L364.52 391.81L364.65 391.43L364.79 389.91L364.92 387.78L365.06 389.07L365.2 385.94L365.33 384.99L365.47 382.93L365.6 381.32L365.74 382.32L365.88 381L366.01 382.13L366.15 381.46L366.28 381.1L366.42 384.1L366.56 383.14L366.69 384.32L366.83 386.91L366.97 388.08L367.1 387.23L367.24 390.6L367.37 392.56L367.51 393.32L367.65 393.21L367.78 394.19L367.92 394.45L368.05 394.17L368.19 393.75L368.33 391.3L368.46 389.25L368.6 389.37L368.74 385.25L368.87 384.27L369.01 379.61L369.14 378.13L369.28 380.2L369.42 377.34L369.55 378.84L369.69 380.57L369.82 378.98L369.96 380.92L370.1 383.93L370.23 387.31L370.37 388.73L370.5 393L370.64 394.64L370.78 396.19L370.91 396.02L371.05 395.81L371.19 396.93L371.32 395.45L371.46 391.63L371.59 388.62L371.73 386.66L371.87 381.93L372 379.75L372.14 378.87L372.27 378.79L372.41 378.36L372.55 381.41L372.68 380.72L372.82 385.71L372.95 385.1L373.09 388.68L373.23 392.23L373.36 394.21L373.5 393.54L373.64 394.29L373.77 392.85L373.91 394.08L374.04 389.34L374.18 389.2L374.32 387.18L374.45 384.16L374.59 383.19L374.72 382.81L374.86 382.95L375 382.38L375.13 384.77L375.27 384.99L375.4 384.15L375.54 388.57L375.68 390.3L375.81 388.68L375.95 391.65L376.09 391.64L376.22 391.47L376.36 390.43L376.49 390.94L376.63 387.58L376.77 388.74L376.9 383.3L377.04 383.41L377.17 380.36L377.31 380.3L377.45 377.77L377.58 379.19L377.72 378.94L377.85 381.37L377.99 381.18L378.13 383.6L378.26 388.22L378.4 388.2L378.54 389.29L378.67 393.34L378.81 394.05L378.94 390.82L379.08 389.59L379.22 391.06L379.35 386.06L379.49 382.62L379.62 382.29L379.76 377.34L379.9 376.67L380.03 372.66L380.17 372.75L380.3 372.7L380.44 374.66L380.58 373.85L380.71 375.56L380.85 379.55L380.99 383.18L381.12 385.74L381.26 387.71L381.39 387.16L381.53 390.13L381.67 390.97L381.8 392.41L381.94 395.13L382.07 393.84L382.21 390.83L382.35 390.03L382.48 388L382.62 387.03L382.75 385.78L382.89 383.97L383.03 381.96L383.16 382.73L383.3 383.47L383.44 381.9L383.57 383L383.71 382.24L383.84 381.59L383.98 383.73L384.12 384.95L384.25 386.83L384.39 387.15L384.52 387.92L384.66 388.96L384.8 388.79L384.93 393.29L385.07 393.38L385.2 394.64L385.34 391.53L385.48 392.64L385.61 392.14L385.75 390.8L385.89 392.99L386.02 388.19L386.16 389.02L386.29 386.36L386.43 385.78L386.57 383.12L386.7 383.84L386.84 383.29L386.97 383.24L387.11 381.75L387.25 383.77L387.38 386.44L387.52 387.59L387.66 388.99L387.79 392.12L387.93 393.5L388.06 394.43L388.2 396.59L388.34 396.59L388.47 398.33L388.61 395.02L388.74 392.85L388.88 391.93L389.02 390.99L389.15 387.73L389.29 382.32L389.42 379.68L389.56 378.87L389.7 379.36L389.83 379.95L389.97 383.34L390.11 383.99L390.24 385.49L390.38 391.85L390.51 393.31L390.65 394.84L390.79 397.26L390.92 399.03L391.06 399.01L391.19 395.63L391.33 392.64L391.47 390.12L391.6 389.13L391.74 385.13L391.87 382.71L392.01 382.99L392.15 380.93L392.28 382.66L392.42 384.45L392.56 386.91L392.69 386.12L392.83 388.18L392.96 392.99L393.1 394.61L393.24 394.79L393.37 395.83L393.51 393.77L393.64 395.31L393.78 392.71L393.92 391.43L394.05 390.62L394.19 387.33L394.32 387.74L394.46 386.53L394.6 385.39L394.73 386.19L394.87 387.23L395.01 385.14L395.14 386.9L395.28 388.96L395.41 390.65L395.55 391.86L395.69 394.54L395.82 396.73L395.96 396.43L396.09 396.23L396.23 399.35L396.37 396.78L396.5 398.44L396.64 395.99L396.77 395.82L396.91 396.19L397.05 395.17L397.18 392.08L397.32 390.79L397.46 390.44L397.59 390.5L397.73 390.43L397.86 390.04L398 390.56L398.14 391.52L398.27 394.12L398.41 394.36L398.54 395.73L398.68 398.29L398.82 401.15L398.95 402.22L399.09 402.51L399.22 403.95L399.36 403.67L399.5 404.58L399.63 404.71L399.77 405.7L399.91 404.83L400.04 404.17L400.18 403.44L400.31 403.07L400.45 403.7L400.59 403.13L400.72 402.44L400.86 403.77L400.99 404.12L401.13 404.52L401.27 404.62L401.4 405.91L401.54 406.49L401.67 407.41L401.81 408.46L401.95 410.02L402.08 410.48L402.22 411.27L402.36 412.09L402.49 412.72L402.63 413.41L402.76 414.13L402.9 415.05"/></defs>
<use href="#pfdd023" fill="none" stroke="#fdd023" stroke-width="2.15" stroke-opacity="0.4" stroke-linejoin="round"/>
<use href="#pfdd023" fill="none" stroke="#fdd023" stroke-width="1.15" stroke-linejoin="round"/>
<defs><path id="p9bd3f7" d="M49 415.05L49.14 415.73L49.27 416.26L49.41 416.77L49.54 417.16L49.68 417.63L49.82 417.66L49.95 418.15L50.09 418.66L50.23 418.76L50.36 419.11L50.5 418.78L50.63 419.12L50.77 419.05L50.91 419.34L51.04 419.43L51.18 419.03L51.31 419.31L51.45 419.5L51.59 420.34L51.72 420.48L51.86 420.21L51.99 421.36L52.13 421.15L52.27 422.33L52.4 422.43L52.54 422.99L52.68 424.88L52.81 424.76L52.95 425.48L53.08 427.22L53.22 427.58L53.36 427.09L53.49 428.33L53.63 427.74L53.76 427.86L53.9 426.83L54.04 427.68L54.17 426.8L54.31 426.79L54.44 426.18L54.58 424.68L54.72 424.48L54.85 423.95L54.99 423.95L55.13 424.03L55.26 424.97L55.4 426.25L55.53 425.83L55.67 428.19L55.81 428.45L55.94 429.36L56.08 431.38L56.21 431.39L56.35 431.57L56.49 432.29L56.62 432.93L56.76 431.28L56.89 433.2L57.03 430.43L57.17 431.71L57.3 431.41L57.44 428.81L57.58 430.41L57.71 429.1L57.85 429.64L57.98 428.31L58.12 428.82L58.26 429.8L58.39 432.74L58.53 431.51L58.66 434.05L58.8 435.5L58.94 436.4L59.07 435.34L59.21 435.86L59.34 436.62L59.48 437.39L59.62 435.08L59.75 436.58L59.89 436.1L60.03 435.56L60.16 432.17L60.3 434.44L60.43 431.05L60.57 431.48L60.71 432.3L60.84 433.58L60.98 432.32L61.11 435.13L61.25 435.01L61.39 435.49L61.52 436.74L61.66 437.42L61.79 438L61.93 438.82L62.07 440.8L62.2 441.63L62.34 438.33L62.48 437.05L62.61 438.92L62.75 436.08L62.88 434.25L63.02 432.34L63.16 432.33L63.29 432.17L63.43 430.38L63.56 430.07L63.7 429.06L63.84 432.44L63.97 430.44L64.11 433.08L64.24 435.52L64.38 434.59L64.52 437.92L64.65 439.89L64.79 439.92L64.93 441.28L65.06 439.61L65.2 440.94L65.33 439.97L65.47 441.94L65.61 439.59L65.74 439.37L65.88 440.28L66.01 438.84L66.15 438.26L66.29 435.61L66.42 434.87L66.56 434.93L66.69 433.53L66.83 432.51L66.97 432.66L67.1 431.78L67.24 432.68L67.38 434.99L67.51 435.33L67.65 434.79L67.78 435L67.92 435.16L68.06 435.05L68.19 436.37L68.33 438.73L68.46 439.65L68.6 438.56L68.74 440.43L68.87 440.67L69.01 440.59L69.15 440.56L69.28 440.84L69.42 439.39L69.55 440.25L69.69 438.5L69.83 438.72L69.96 439.12L70.1 438.26L70.23 436.3L70.37 437.76L70.51 436.11L70.64 435.23L70.78 432.76L70.91 434.02L71.05 432.67L71.19 433.83L71.32 433.1L71.46 434.42L71.6 434.21L71.73 435.25L71.87 434.49L72 436.35L72.14 437.64L72.28 438.96L72.41 438.38L72.55 440.92L72.68 441.75L72.82 441.65L72.96 442.82L73.09 442.64L73.23 440.74L73.36 439.98L73.5 437.7L73.64 438.61L73.77 437.51L73.91 434.54L74.05 433.9L74.18 432.87L74.32 432.1L74.45 429.86L74.59 431.94L74.73 431.8L74.86 433.04L75 433.54L75.13 435.75L75.27 437.89L75.41 439.01L75.54 440.66L75.68 439.4L75.81 440.44L75.95 441.48L76.09 441.78L76.22 439.52L76.36 439.87L76.5 438.27L76.63 434.82L76.77 434.81L76.9 432.79L77.04 431.34L77.18 431.14L77.31 431.72L77.45 431.66L77.58 432.45L77.72 432.96L77.86 435.57L77.99 436.5L78.13 438.39L78.26 439.24L78.4 438.73L78.54 441.29L78.67 438.3L78.81 439.35L78.95 438.38L79.08 438.07L79.22 436.24L79.35 437.73L79.49 435.38L79.63 433.56L79.76 434.95L79.9 432.93L80.03 434.37L80.17 433.87L80.31 435.09L80.44 436.95L80.58 437.24L80.71 436.75L80.85 438.94L80.99 439.21L81.12 439.06L81.26 438.9L81.4 440.82L81.53 440.89L81.67 442.15L81.8 441.89L81.94 440.17L82.08 438.61L82.21 439.58L82.35 435.68L82.48 435.11L82.62 435.76L82.76 435.18L82.89 433.02L83.03 434.32L83.16 435.11L83.3 433.59L83.44 434.25L83.57 434.29L83.71 435.45L83.85 438.77L83.98 437.88L84.12 440.95L84.25 441.89L84.39 441.84L84.53 441.58L84.66 444.65L84.8 443.45L84.93 443.34L85.07 442.91L85.21 444.75L85.34 442.48L85.48 440.96L85.62 440.59L85.75 438.27L85.89 438.75L86.02 436.96L86.16 435.3L86.3 435.89L86.43 435.13L86.57 431.68L86.7 432.92L86.84 431.76L86.98 433.93L87.11 433.59L87.25 432.18L87.38 432.82L87.52 433.16L87.66 436.79L87.79 435.36L87.93 437.34L88.07 437.8L88.2 439.21L88.34 439.83L88.47 440.92L88.61 439.28L88.75 441.75L88.88 440.33L89.02 441.07L89.15 440.2L89.29 439.71L89.43 440L89.56 439.2L89.7 438.19L89.83 438.79L89.97 437.57L90.11 435.04L90.24 435.15L90.38 435.32L90.52 436.46L90.65 436.1L90.79 434.82L90.92 433.08L91.06 435.86L91.2 435.05L91.33 436.06L91.47 437.15L91.6 437.63L91.74 437.91L91.88 440.15L92.01 439.13L92.15 439.8L92.28 441.84L92.42 439.91L92.56 440.28L92.69 441.85L92.83 438.76L92.97 440.61L93.1 439.17L93.24 437.19L93.37 435.55L93.51 436.13L93.65 435.64L93.78 432.39L93.92 433.22L94.05 433.56L94.19 433.92L94.33 434.3L94.46 434.98L94.6 437.95L94.73 440.32L94.87 439.35L95.01 441.22L95.14 444.17L95.28 444.56L95.42 444.07L95.55 441.32L95.69 442.61L95.82 442.03L95.96 440.42L96.1 437.69L96.23 433.91L96.37 435.34L96.5 432.42L96.64 433.6L96.78 434.95L96.91 434.99L97.05 434.32L97.18 436.47L97.32 440.34L97.46 439.46L97.59 442.56L97.73 443.09L97.87 443L98 444.86L98.14 442.71L98.27 442.32L98.41 442.21L98.55 439.85L98.68 438.39L98.82 438.79L98.95 438.14L99.09 437.64L99.23 434.45L99.36 435.14L99.5 434.75L99.63 436.03L99.77 436.22L99.91 438.49L100.04 437.42L100.18 437.21L100.32 440.24L100.45 439.12L100.59 441.36L100.72 441.36L100.86 442.96L101 441.79L101.13 441.86L101.27 440.31L101.4 440.82L101.54 439.22L101.68 440.25L101.81 438.75L101.95 436.72L102.09 436.37L102.22 436.21L102.36 436.91L102.49 434.58L102.63 436.11L102.77 435.77L102.9 433.85L103.04 436.03L103.17 434.4L103.31 435.01L103.45 437.23L103.58 436.75L103.72 439.73L103.85 439.21L103.99 439.52L104.13 441.93L104.26 440.03L104.4 443.01L104.54 441.17L104.67 441.77L104.81 444.59L104.94 443.52L105.08 441.61L105.22 440.69L105.35 442.89L105.49 440.95L105.62 440.47L105.76 437.06L105.9 437.61L106.03 435.61L106.17 434.2L106.3 433.68L106.44 433.95L106.58 432.58L106.71 432.48L106.85 431.66L106.99 434.35L107.12 434.29L107.26 435.62L107.39 435.34L107.53 437.91L107.67 438L107.8 439.52L107.94 440.68L108.07 442.38L108.21 442.16L108.35 441.88L108.48 442.16L108.62 442.96L108.75 442.33L108.89 444.9L109.03 442.9L109.16 443.05L109.3 439.48L109.44 440.05L109.57 440.43L109.71 438.48L109.84 436.94L109.98 436.36L110.12 434.61L110.25 434.58L110.39 434.63L110.52 435.68L110.66 436.26L110.8 438.7L110.93 437.08L111.07 438.4L111.2 439.46L111.34 439.99L111.48 441.25L111.61 441.72L111.75 443.03L111.89 441.7L112.02 444.76L112.16 442.59L112.29 444.1L112.43 442.57L112.57 441.62L112.7 439.98L112.84 440.69L112.97 437.02L113.11 438.27L113.25 436.56L113.38 437.74L113.52 438.09L113.65 436.59L113.79 437.44L113.93 437.75L114.06 439.5L114.2 440.03L114.34 442.1L114.47 444.83L114.61 443.17L114.74 443.06L114.88 443.26L115.02 441.88L115.15 442.35L115.29 440.95L115.42 437.55L115.56 436.36L115.7 436.56L115.83 436.49L115.97 434.9L116.1 434.08L116.24 436.39L116.38 433.93L116.51 435.42L116.65 439.47L116.79 439.87L116.92 440.23L117.06 443.39L117.19 445.99L117.33 444.98L117.47 444.51L117.6 443.23L117.74 442.29L117.87 443.92L118.01 441.01L118.15 440.93L118.28 436.26L118.42 435.47L118.55 433.61L118.69 433.99L118.83 432.41L118.96 433.09L119.1 434.02L119.24 434.42L119.37 434.56L119.51 435.71L119.64 440.25L119.78 438.78L119.92 441.11L120.05 441.75L120.19 442.99L120.32 441.97L120.46 443.04L120.6 442.32L120.73 443.59L120.87 444.47L121.01 442.74L121.14 442.92L121.28 439.89L121.41 438.4L121.55 439.45L121.69 438.55L121.82 438.23L121.96 437.05L122.09 437.55L122.23 437.68L122.37 438.25L122.5 436.19L122.64 436.87L122.77 438.49L122.91 436.8L123.05 436.93L123.18 438.18L123.32 438.03L123.46 441.08L123.59 441.92L123.73 440.82L123.86 440.82L124 441.24L124.14 442.33L124.27 442.19L124.41 443.71L124.54 444.42L124.68 443.31L124.82 442.57L124.95 444.56L125.09 441.88L125.22 441.88L125.36 441.53L125.5 441.09L125.63 439.33L125.77 439.64L125.91 438.47L126.04 439.23L126.18 437.77L126.31 438.36L126.45 437.12L126.59 437.35L126.72 436.83L126.86 436.76L126.99 438.73L127.13 439.06L127.27 441.2L127.4 441.62L127.54 442.81L127.67 442.54L127.81 445.59L127.95 445.02L128.08 444.81L128.22 444.92L128.36 445.25L128.49 445.15L128.63 445.81L128.76 443.33L128.9 441.18L129.04 442.11L129.17 439.8L129.31 436.43L129.44 435.19L129.58 434.44L129.72 434.59L129.85 436.12L129.99 436.65L130.12 436.09L130.26 435.74L130.4 437.69L130.53 438.87L130.67 440.19L130.81 440.4L130.94 443.52L131.08 445.16L131.21 445.22L131.35 443.01L131.49 444.17L131.62 442.2L131.76 443.13L131.89 441.08L132.03 441.65L132.17 440.06L132.3 436.75L132.44 436.78L132.57 438.52L132.71 436.88L132.85 437.05L132.98 437.63L133.12 439.54L133.26 441.05L133.39 440.59L133.53 443.06L133.66 442.55L133.8 441.44L133.94 444.33L134.07 443.05L134.21 441.58L134.34 444.41L134.48 440.4L134.62 441.49L134.75 440.22L134.89 440.68L135.02 438.09L135.16 436.76L135.3 436.51L135.43 436.07L135.57 437.51L135.71 437.26L135.84 439.44L135.98 438.66L136.11 440.25L136.25 441.15L136.39 444.97L136.52 445.56L136.66 446.46L136.79 446.18L136.93 445.6L137.07 444.5L137.2 446.38L137.34 444.28L137.47 441.55L137.61 440.72L137.75 439.12L137.88 440.02L138.02 439.53L138.16 436.16L138.29 437.7L138.43 435.81L138.56 437.25L138.7 438.43L138.84 438.46L138.97 440.25L139.11 440.11L139.24 440.16L139.38 443.26L139.52 444.8L139.65 444.51L139.79 446.17L139.93 446.61L140.06 445.98L140.2 447.11L140.33 447.17L140.47 447.04L140.61 447.14L140.74 445.16L140.88 446.19L141.01 444.47L141.15 443.7L141.29 441.75L141.42 440.62L141.56 439.21L141.69 439.37L141.83 437.22L141.97 437.64L142.1 437.75L142.24 437.18L142.38 436.5L142.51 436.1L142.65 436.6L142.78 438.14L142.92 439.59L143.06 440.93L143.19 441.48L143.33 440.72L143.46 443.6L143.6 441.85L143.74 443.93L143.87 442.04L144.01 444.76L144.14 444.63L144.28 445.69L144.42 445.39L144.55 444.43L144.69 444.63L144.83 443.84L144.96 442.84L145.1 440.79L145.23 441.22L145.37 441.87L145.51 438.83L145.64 440.8L145.78 438.68L145.91 437.68L146.05 435.96L146.19 437.21L146.32 436.52L146.46 438.51L146.59 439.91L146.73 440.68L146.87 440.53L147 440.77L147.14 440.91L147.28 444.12L147.41 444.68L147.55 446.15L147.68 445.56L147.82 447.72L147.96 445.26L148.09 445.16L148.23 444.22L148.36 444.36L148.5 443.97L148.64 439.84L148.77 439.98L148.91 439.08L149.04 436.02L149.18 434.72L149.32 436.29L149.45 437.52L149.59 438.51L149.73 439.25L149.86 439.78L150 441.67L150.13 443.95L150.27 447.07L150.41 446.37L150.54 447.31L150.68 448.95L150.81 450.16L150.95 446.71L151.09 445.03L151.22 443.89L151.36 443.88L151.49 442.42L151.63 439.5L151.77 438.45L151.9 439.25L152.04 439.1L152.18 439.43L152.31 440.21L152.45 438.81L152.58 441.57L152.72 444.16L152.86 445.87L152.99 444.65L153.13 447.36L153.26 447.06L153.4 448.14L153.54 445.31L153.67 446.37L153.81 446.01L153.94 443.66L154.08 441.21L154.22 440.49L154.35 439.41L154.49 438.43L154.63 438.12L154.76 439.52L154.9 437.68L155.03 440.28L155.17 440.66L155.31 441.58L155.44 442.29L155.58 442.78L155.71 444.36L155.85 445.25L155.99 444.71L156.12 446.44L156.26 443.64L156.4 443.75L156.53 443.49L156.67 443.67L156.8 443.73L156.94 443.32L157.08 443.27L157.21 442.57L157.35 439.22L157.48 439.44L157.62 439.1L157.76 437.79L157.89 436.34L158.03 437.79L158.16 436.95L158.3 438.28L158.44 438.07L158.57 440.47L158.71 441.31L158.85 439.21L158.98 442.86L159.12 443.93L159.25 443.58L159.39 444.03L159.53 446.32L159.66 446.64L159.8 448.59L159.93 449.55L160.07 447.64L160.21 447.07L160.34 447.33L160.48 447.33L160.61 446.74L160.75 444.9L160.89 442.72L161.02 441.67L161.16 442.35L161.3 440.06L161.43 437.39L161.57 437.94L161.7 436.71L161.84 437.93L161.98 435.71L162.11 436.61L162.25 436.41L162.38 438.46L162.52 441.17L162.66 440.57L162.79 441.12L162.93 444.28L163.06 442.39L163.2 444.47L163.34 447.15L163.47 445.1L163.61 448.57L163.75 447.6L163.88 446.63L164.02 447.56L164.15 448.19L164.29 447.47L164.43 447.25L164.56 444.73L164.7 444.42L164.83 446.24L164.97 443.37L165.11 442.61L165.24 440.44L165.38 440.51L165.51 442.51L165.65 441.26L165.79 440.52L165.92 438.99L166.06 440.54L166.2 442.44L166.33 441.82L166.47 443.14L166.6 445.06L166.74 444.91L166.88 445.6L167.01 444.02L167.15 444.39L167.28 447.3L167.42 445.92L167.56 447.24L167.69 446.41L167.83 445.84L167.96 442.79L168.1 443.86L168.24 441.77L168.37 441.18L168.51 437.59L168.65 439.35L168.78 437.89L168.92 440.2L169.05 441.02L169.19 439.31L169.33 441.49L169.46 442.54L169.6 444.88L169.73 445.66L169.87 448.18L170.01 446.87L170.14 447.17L170.28 447.78L170.41 445.38L170.55 445.07L170.69 445.21L170.82 443.28L170.96 438.94L171.1 436.74L171.23 438.59L171.37 438.51L171.5 437.21L171.64 436.15L171.78 437.69L171.91 441.78L172.05 443.67L172.18 442.23L172.32 444.55L172.46 446.92L172.59 447.37L172.73 449.71L172.87 448.34L173 449.34L173.14 446.15L173.27 446.28L173.41 446.56L173.55 444.11L173.68 440.51L173.82 439.44L173.95 440.54L174.09 439.05L174.23 438.9L174.36 439.53L174.5 440.47L174.63 442.7L174.77 441.04L174.91 443.36L175.04 443.38L175.18 445.52L175.32 447.2L175.45 445.84L175.59 447.77L175.72 449.05L175.86 446.72L176 449.58L176.13 448.16L176.27 448L176.4 447.73L176.54 447.65L176.68 444.12L176.81 444.94L176.95 442.42L177.08 442.94L177.22 442.1L177.36 440.3L177.49 440.84L177.63 441.06L177.77 441.61L177.9 442.57L178.04 440.63L178.17 441.49L178.31 442.58L178.45 443.96L178.58 444.66L178.72 445.54L178.85 443.79L178.99 444.1L179.13 447.71L179.26 445.28L179.4 447.29L179.53 448.85L179.67 448.41L179.81 448.03L179.94 449.95L180.08 447.34L180.22 447.77L180.35 448.09L180.49 444.63L180.62 444.37L180.76 443.76L180.9 442.82L181.03 440.29L181.17 440.07L181.3 437.59L181.44 436.86L181.58 437.2L181.71 436.14L181.85 439.15L181.98 436.81L182.12 437.44L182.26 440.17L182.39 441.11L182.53 440.61L182.67 444.11L182.8 444.79L182.94 445.3L183.07 447.46L183.21 447.09L183.35 447.95L183.48 450.7L183.62 449.19L183.75 450.67L183.89 447.43L184.03 446.43L184.16 445.03L184.3 446.35L184.43 444.4L184.57 441.09L184.71 440.1L184.84 442.09L184.98 440.23L185.12 441.33L185.25 438.27L185.39 440.68L185.52 439.6L185.66 442.77L185.8 443.45L185.93 444.63L186.07 444.36L186.2 448.16L186.34 445.96L186.48 446.48L186.61 449.23L186.75 447.17L186.88 446.93L187.02 448L187.16 448.11L187.29 448.27L187.43 446.81L187.57 443.58L187.7 445.02L187.84 445.06L187.97 441.78L188.11 443.86L188.25 442.02L188.38 442.49L188.52 441.98L188.65 445.63L188.79 445.69L188.93 448.15L189.06 447.46L189.2 447.07L189.33 447.8L189.47 448.13L189.61 450.45L189.74 447.04L189.88 445.61L190.02 445.32L190.15 442.84L190.29 442.63L190.42 441.98L190.56 440.94L190.7 438.38L190.83 437.91L190.97 439.4L191.1 440.8L191.24 441.01L191.38 442.92L191.51 445.83L191.65 444.65L191.79 446.7L191.92 448.87L192.06 449.98L192.19 451.82L192.33 450.5L192.47 450.37L192.6 448.48L192.74 448.49L192.87 447.1L193.01 443.36L193.15 440.99L193.28 440.04L193.42 439.17L193.55 440.28L193.69 437.45L193.83 438.77L193.96 439.18L194.1 441.1L194.24 438.98L194.37 442.68L194.51 442.42L194.64 442.95L194.78 446.27L194.92 448.27L195.05 448.28L195.19 447.03L195.32 450.99L195.46 448.99L195.6 449.88L195.73 449.92L195.87 447.69L196 447.6L196.14 446.55L196.28 444.86L196.41 443.92L196.55 445.58L196.69 443.71L196.82 444.82L196.96 441.29L197.09 441.84L197.23 441.18L197.37 444.01L197.5 443.53L197.64 444.17L197.77 443.07L197.91 442.04L198.05 443.81L198.18 443.76L198.32 443.75L198.45 446.55L198.59 446.32L198.73 446.44L198.86 448.74L199 451.04L199.14 451.46L199.27 449.92L199.41 448.72L199.54 451.27L199.68 448.69L199.82 450.02L199.95 447.87L200.09 450.69L200.22 448.27L200.36 446.99L200.5 445.38L200.63 445.37L200.77 445.89L200.9 442.78L201.04 440.99L201.18 441.32L201.31 442.22L201.45 439.82L201.59 440.69L201.72 442L201.86 440.3L201.99 442.98L202.13 443.01L202.27 442.84L202.4 443.95L202.54 448.75L202.67 448.34L202.81 449.44L202.95 452.15L203.08 451.39L203.22 451.23L203.35 450.08L203.49 451.05L203.63 448.02L203.76 447.35L203.9 446.75L204.04 444.41L204.17 440.95L204.31 439.76L204.44 440.52L204.58 440.01L204.72 437.5L204.85 441.29L204.99 438.89L205.12 440.31L205.26 441.58L205.4 444.64L205.53 446.98L205.67 449.38L205.8 447.93L205.94 450.72L206.08 448.75L206.21 450.36L206.35 448.46L206.49 447.86L206.62 445.47L206.76 446.67L206.89 443.09L207.03 444.4L207.17 441.93L207.3 442.4L207.44 442.48L207.57 442.19L207.71 444.29L207.85 445.38L207.98 444.05L208.12 445.43L208.25 448.67L208.39 446.88L208.53 448.83L208.66 449.41L208.8 451.87L208.94 448.65L209.07 450.4L209.21 450.28L209.34 449.48L209.48 445.92L209.62 448.68L209.75 445.51L209.89 446.93L210.02 445.45L210.16 444.04L210.3 445.44L210.43 444.94L210.57 444.08L210.71 446.25L210.84 446.27L210.98 448.08L211.11 448.76L211.25 450.45L211.39 448.88L211.52 450.79L211.66 449.24L211.79 452.26L211.93 451.84L212.07 451.41L212.2 447.39L212.34 448.04L212.47 446.43L212.61 443.59L212.75 442.47L212.88 444.1L213.02 442.52L213.16 439.34L213.29 441.1L213.43 440.27L213.56 439.47L213.7 441.04L213.84 440.33L213.97 441.63L214.11 441.94L214.24 445.84L214.38 447L214.52 449.01L214.65 449.34L214.79 450.14L214.92 450.46L215.06 452.63L215.2 451.47L215.33 452.26L215.47 452.52L215.61 450.71L215.74 450.81L215.88 447.42L216.01 447.08L216.15 448.14L216.29 444.33L216.42 442.89L216.56 441.74L216.69 443.79L216.83 440.6L216.97 441.5L217.1 441.19L217.24 442.57L217.37 441.51L217.51 442.07L217.65 440.72L217.78 444.38L217.92 445.08L218.06 445.41L218.19 447.13L218.33 447.19L218.46 448.46L218.6 449.79L218.74 449.62L218.87 447.93L219.01 451.73L219.14 452.47L219.28 449.62L219.42 449.14L219.55 450.08L219.69 448.91L219.82 449.58L219.96 448.03L220.1 447.99L220.23 446.56L220.37 447.6L220.51 446.44L220.64 447.24L220.78 445.19L220.91 443.75L221.05 446.4L221.19 446.01L221.32 445.3L221.46 443.81L221.59 445.11L221.73 446.09L221.87 446.88L222 446.46L222.14 449.19L222.27 451.38L222.41 451.91L222.55 453.1L222.68 452.61L222.82 452.73L222.96 452.53L223.09 451.69L223.23 449.86L223.36 446.8L223.5 446.03L223.64 444.34L223.77 443.72L223.91 441.93L224.04 440.21L224.18 439.13L224.32 440.13L224.45 440.86L224.59 444.04L224.72 446.22L224.86 445.97L225 449.23L225.13 452.11L225.27 451.53L225.41 451.18L225.54 453.22L225.68 451.69L225.81 449.69L225.95 448.64L226.09 445.67L226.22 383.1L226.36 380.23L226.49 379.92L226.63 379.18L226.77 376.51L226.9 374.99L227.04 376.17L227.18 379.4L227.31 378.8L227.45 384.05L227.58 385.82L227.72 388.3L227.86 389.71L227.99 388.76L228.13 388.75L228.26 389.84L228.4 388.03L228.54 388.35L228.67 385.14L228.81 384.74L228.94 383.35L229.08 383.2L229.22 380.89L229.35 379.85L229.49 377.78L229.63 379.91L229.76 379.9L229.9 378.48L230.03 382.25L230.17 381.53L230.31 383.92L230.44 383.38L230.58 384.74L230.71 387.61L230.85 385.88L230.99 387.62L231.12 388.19L231.26 386.12L231.39 386.18L231.53 387.56L231.67 385.54L231.8 386.96L231.94 384.65L232.08 385.5L232.21 382.53L232.35 380.69L232.48 381.06L232.62 382.75L232.76 380.44L232.89 380.25L233.03 380.14L233.16 381.2L233.3 380.8L233.44 380.37L233.57 382.19L233.71 380.35L233.84 382.58L233.98 383.04L234.12 384.49L234.25 384.37L234.39 382.61L234.53 385.66L234.66 386.91L234.8 386.31L234.93 384.31L235.07 387.94L235.21 387.1L235.34 387.53L235.48 385.42L235.61 385.76L235.75 386.46L235.89 382.68L236.02 383.77L236.16 381.36L236.29 381.21L236.43 378.6L236.57 380.82L236.7 379.42L236.84 378.65L236.98 378.44L237.11 376.28L237.25 377.78L237.38 378.95L237.52 379.18L237.66 378.98L237.79 381.33L237.93 383.21L238.06 383.92L238.2 385.56L238.34 387.75L238.47 388.88L238.61 390.96L238.74 390.45L238.88 389.08L239.02 391.22L239.15 390.58L239.29 388.92L239.43 387.95L239.56 388.29L239.7 385.89L239.83 383.39L239.97 384.7L240.11 383.26L240.24 379.85L240.38 378.64L240.51 381.55L240.65 381.55L240.79 379.87L240.92 381.88L241.06 381.4L241.19 384.87L241.33 384.42L241.47 386.69L241.6 387.06L241.74 386.51L241.88 387.78L242.01 386.74L242.15 386.75L242.28 387.26L242.42 385.78L242.56 387.52L242.69 385.42L242.83 384.97L242.96 382.8L243.1 383.83L243.24 380.15L243.37 381.6L243.51 379.79L243.65 379.25L243.78 379.61L243.92 382.32L244.05 381.36L244.19 381.77L244.33 386.04L244.46 384.59L244.6 385.39L244.73 386.88L244.87 387.68L245.01 387.81L245.14 386.25L245.28 383.26L245.41 383.97L245.55 383.04L245.69 380.4L245.82 379.95L245.96 378.36L246.1 378.4L246.23 378.9L246.37 380.19L246.5 378.04L246.64 379.89L246.78 383.05L246.91 383.85L247.05 385.36L247.18 387.35L247.32 387.27L247.46 388.76L247.59 391.09L247.73 390.98L247.86 389.44L248 390.17L248.14 385.9L248.27 387.68L248.41 384.27L248.55 383.47L248.68 381.05L248.82 381.71L248.95 380.25L249.09 377.02L249.23 377.89L249.36 380.57L249.5 380.6L249.63 383.41L249.77 384.47L249.91 385.7L250.04 384.18L250.18 388.1L250.31 389.52L250.45 391.14L250.59 391.61L250.72 388.6L250.86 389.58L251 388.63L251.13 388.44L251.27 387.92L251.4 389.05L251.54 388.42L251.68 387.06L251.81 386.87L251.95 385.56L252.08 382.71L252.22 382.92L252.36 384.23L252.49 382.78L252.63 380.54L252.76 380.52L252.9 381.11L253.04 381.37L253.17 381.06L253.31 382.86L253.45 384.06L253.58 383.92L253.72 385.62L253.85 387.15L253.99 386.89L254.13 386.69L254.26 388.44L254.4 388.99L254.53 388.66L254.67 388.39L254.81 386.23L254.94 387.92L255.08 386.37L255.21 386.34L255.35 386.38L255.49 386.72L255.62 385.65L255.76 385.04L255.9 382.87L256.03 381.03L256.17 380.26L256.3 381.17L256.44 380.87L256.58 380.73L256.71 378.36L256.85 379.72L256.98 380.85L257.12 380.3L257.26 381.4L257.39 382.57L257.53 382.13L257.66 383.86L257.8 386.49L257.94 386.29L258.07 389.62L258.21 388.1L258.35 391.97L258.48 390.69L258.62 390.36L258.75 389.91L258.89 390.06L259.03 387.49L259.16 386.98L259.3 385.15L259.43 385.8L259.57 383.84L259.71 381.46L259.84 380.18L259.98 381.32L260.11 378.86L260.25 380.8L260.39 381.25L260.52 382.4L260.66 382.82L260.8 386.55L260.93 387.29L261.07 388.63L261.2 389.63L261.34 391.68L261.48 392.09L261.61 391.16L261.75 390L261.88 388.78L262.02 389.39L262.16 386.8L262.29 384.98L262.43 385.11L262.57 384.5L262.7 380.82L262.84 384.01L262.97 382.43L263.11 383.75L263.25 385.57L263.38 385.7L263.52 387.21L263.65 387.4L263.79 386.44L263.93 390.27L264.06 389.72L264.2 388.59L264.33 388.7L264.47 390.51L264.61 389.05L264.74 387.99L264.88 384.73L265.02 385.42L265.15 385.16L265.29 383.53L265.42 382.91L265.56 383.8L265.7 381.8L265.83 381.81L265.97 383.2L266.1 383.69L266.24 383.71L266.38 384L266.51 386.28L266.65 389.31L266.78 388.35L266.92 388.29L267.06 389.75L267.19 388.33L267.33 389.06L267.47 387.36L267.6 386.32L267.74 384.83L267.87 382.47L268.01 382.05L268.15 380.9L268.28 379.92L268.42 380.89L268.55 378.98L268.69 378.78L268.83 381.04L268.96 379L269.1 381.8L269.23 381.94L269.37 383.16L269.51 383.89L269.64 385.25L269.78 387.83L269.92 387.47L270.05 390.5L270.19 391L270.32 390.1L270.46 392.95L270.6 391.56L270.73 390.43L270.87 393.13L271 389.82L271.14 389.34L271.28 388.67L271.41 386.6L271.55 385.18L271.68 386.7L271.82 384.43L271.96 383.08L272.09 382.07L272.23 380.62L272.37 380.92L272.5 380.77L272.64 383.74L272.77 382.76L272.91 381.48L273.05 382.03L273.18 383.49L273.32 385.89L273.45 385.14L273.59 386.87L273.73 387.18L273.86 388.02L274 387.81L274.13 388.87L274.27 388.29L274.41 390.26L274.54 390.32L274.68 389.63L274.82 389.74L274.95 391.25L275.09 387.41L275.22 389.18L275.36 387.85L275.5 388.83L275.63 387.56L275.77 384.13L275.9 385.86L276.04 385.2L276.18 382.85L276.31 384.64L276.45 382.93L276.58 383.34L276.72 382.39L276.86 384.39L276.99 385.58L277.13 386.64L277.27 387.17L277.4 389.47L277.54 389.98L277.67 390.72L277.81 390.78L277.95 389.54L278.08 389L278.22 390.9L278.35 390.66L278.49 389.52L278.63 387L278.76 386.05L278.9 385.78L279.03 382.71L279.17 382.24L279.31 381.59L279.44 378.55L279.58 380.84L279.72 380.19L279.85 380.08L279.99 382.41L280.12 383.02L280.26 387.03L280.4 386.65L280.53 391.66L280.67 389.86L280.8 392.38L280.94 394.12L281.08 392.77L281.21 389.13L281.35 388.71L281.49 386.93L281.62 384.86L281.76 386.1L281.89 383.59L282.03 382.02L282.17 379.95L282.3 380.08L282.44 383.52L282.57 381.59L282.71 384.63L282.85 387.18L282.98 389.64L283.12 389.88L283.25 390.75L283.39 391.82L283.53 392.73L283.66 390.34L283.8 391.6L283.94 391.41L284.07 388.67L284.21 389.46L284.34 387.65L284.48 387.74L284.62 386.37L284.75 382.97L284.89 383.98L285.02 384.27L285.16 383.92L285.3 384.37L285.43 385.56L285.57 386.9L285.7 388.54L285.84 389.83L285.98 390.31L286.11 389.99L286.25 392.01L286.39 390.01L286.52 391.46L286.66 391.87L286.79 391.41L286.93 390.4L287.07 390.9L287.2 387.9L287.34 388.48L287.47 389.15L287.61 388.24L287.75 384.5L287.88 384.88L288.02 385.28L288.15 383.27L288.29 385.38L288.43 382.22L288.56 382.15L288.7 383.46L288.84 386.2L288.97 385.54L289.11 384.89L289.24 386.72L289.38 389.12L289.52 390.04L289.65 391.63L289.79 390.83L289.92 392.78L290.06 392.36L290.2 391.03L290.33 391.07L290.47 392.35L290.6 390.84L290.74 392.5L290.88 388.64L291.01 387.84L291.15 387.99L291.29 385.21L291.42 385.99L291.56 382.2L291.69 383.44L291.83 380.42L291.97 380.07L292.1 379.29L292.24 379.86L292.37 382.31L292.51 381.92L292.65 381.17L292.78 381.1L292.92 382.95L293.05 386.44L293.19 386.58L293.33 387.87L293.46 389.74L293.6 390.69L293.74 390.63L293.87 391.95L294.01 392.89L294.14 392.68L294.28 390.8L294.42 391.86L294.55 390.86L294.69 389.58L294.82 392.04L294.96 388.1L295.1 390.01L295.23 388.75L295.37 385.97L295.5 385.23L295.64 385.2L295.78 385.37L295.91 384.37L296.05 385.54L296.19 386.71L296.32 387.13L296.46 388.19L296.59 389.25L296.73 386.81L296.87 387.67L297 390.63L297.14 391.09L297.27 392.09L297.41 390.6L297.55 391.72L297.68 392.69L297.82 389.69L297.96 388.86L298.09 391.17L298.23 388.7L298.36 388.53L298.5 386.06L298.64 386.24L298.77 385.87L298.91 385.58L299.04 384.57L299.18 385.42L299.32 386.3L299.45 386.74L299.59 388.81L299.72 388.52L299.86 391.67L300 391.52L300.13 391.79L300.27 393.21L300.41 393.14L300.54 391.71L300.68 390.83L300.81 391.17L300.95 388.64L301.09 387.81L301.22 386.67L301.36 382.99L301.49 383.42L301.63 383.38L301.77 384.46L301.9 385.28L302.04 384.22L302.17 386.93L302.31 388.4L302.45 389.26L302.58 389.96L302.72 391.88L302.86 394.33L302.99 391.79L303.13 394.34L303.26 392.12L303.4 390.69L303.54 390.46L303.67 386.67L303.81 386.01L303.94 384.12L304.08 384.86L304.22 381.61L304.35 383.16L304.49 381.97L304.62 381.9L304.76 384.06L304.9 385.2L305.03 386.08L305.17 384.97L305.31 387.32L305.44 389.12L305.58 389.8L305.71 390.29L305.85 392.31L305.99 393.36L306.12 393.4L306.26 391.67L306.39 391.37L306.53 389.63L306.67 390.39L306.8 388.97L306.94 387.86L307.07 388.95L307.21 388.59L307.35 387.84L307.48 387.68L307.62 385.89L307.76 386.23L307.89 387.65L308.03 384.62L308.16 386.2L308.3 385.59L308.44 386.61L308.57 386.89L308.71 387.45L308.84 389.7L308.98 390.31L309.12 388.91L309.25 391L309.39 392.51L309.52 390.77L309.66 391.63L309.8 392.09L309.93 393.82L310.07 394.96L310.21 392.79L310.34 394.59L310.48 392.66L310.61 392.04L310.75 392.84L310.89 392.95L311.02 389.89L311.16 388.13L311.29 387.76L311.43 385.3L311.57 386.99L311.7 384.36L311.84 384.76L311.97 383.82L312.11 384.66L312.25 385.06L312.38 384.38L312.52 384.9L312.66 384.82L312.79 387.08L312.93 388.78L313.06 389.63L313.2 391.07L313.34 393.1L313.47 394.65L313.61 393.96L313.74 395.45L313.88 396.76L314.02 396L314.15 394.67L314.29 392.53L314.43 391.39L314.56 390.57L314.7 387.95L314.83 388.24L314.97 386.87L315.11 384.42L315.24 383.94L315.38 384.46L315.51 382.84L315.65 386.25L315.79 385.14L315.92 384.94L316.06 385.95L316.19 389.49L316.33 388.41L316.47 390.29L316.6 389.56L316.74 392.09L316.88 390.97L317.01 390.89L317.15 389.31L317.28 391L317.42 390.05L317.56 390.11L317.69 387.29L317.83 388.66L317.96 385.31L318.1 387.39L318.24 387.1L318.37 384.58L318.51 386.58L318.64 386.35L318.78 388.64L318.92 389.98L319.05 390.55L319.19 389.37L319.33 392.99L319.46 391.12L319.6 391.55L319.73 392.3L319.87 393.47L320.01 391.26L320.14 389.8L320.28 389.86L320.41 390.05L320.55 387.6L320.69 385.43L320.82 386L320.96 387.16L321.09 386.97L321.23 385.87L321.37 388.68L321.5 389.94L321.64 389.96L321.78 391.81L321.91 392.43L322.05 395.2L322.18 394.54L322.32 394.84L322.46 396.39L322.59 395.32L322.73 394.94L322.86 393.08L323 392.57L323.14 390.91L323.27 389.65L323.41 387.25L323.54 388.44L323.68 387.29L323.82 383.89L323.95 383.59L324.09 386.44L324.23 383.7L324.36 385.39L324.5 385.49L324.63 387.21L324.77 389.64L324.91 391.89L325.04 390.91L325.18 392.27L325.31 394.09L325.45 395.53L325.59 395.7L325.72 393.94L325.86 395.54L325.99 396.13L326.13 392.92L326.27 392.26L326.4 394.24L326.54 393.27L326.68 390.48L326.81 390.76L326.95 389.59L327.08 388.08L327.22 388.84L327.36 387.19L327.49 388.16L327.63 387.86L327.76 386.64L327.9 387.1L328.04 385.66L328.17 388.56L328.31 386.26L328.44 388.99L328.58 389.22L328.72 390.58L328.85 390.4L328.99 388.64L329.13 391.29L329.26 390.11L329.4 390.01L329.53 391.29L329.67 393.26L329.81 392.48L329.94 393.36L330.08 392.89L330.21 392.27L330.35 392.56L330.49 390.37L330.62 390.38L330.76 390.55L330.89 389.98L331.03 389.64L331.17 389.02L331.3 387.23L331.44 387.94L331.58 385.99L331.71 386.71L331.85 384.96L331.98 387L332.12 385.52L332.26 386.03L332.39 387.12L332.53 390.76L332.66 389.66L332.8 392.57L332.94 392.41L333.07 394.95L333.21 395.51L333.35 396.97L333.48 395.34L333.62 396.36L333.75 393.84L333.89 393.35L334.03 392.92L334.16 392.74L334.3 390.33L334.43 388.33L334.57 387.25L334.71 385.64L334.84 387.2L334.98 385.69L335.11 384.81L335.25 385.64L335.39 387.95L335.52 389.58L335.66 391.57L335.8 391.8L335.93 393.88L336.07 395.99L336.2 396.38L336.34 394.87L336.48 395.72L336.61 394.66L336.75 394.44L336.88 391.81L337.02 390.98L337.16 388.1L337.29 386.83L337.43 386.11L337.56 385.93L337.7 389.12L337.84 389.47L337.97 389.33L338.11 388.64L338.25 390.66L338.38 392.79L338.52 394.32L338.65 394.61L338.79 395.58L338.93 395.78L339.06 393.68L339.2 395.25L339.33 394.78L339.47 392.5L339.61 393.33L339.74 390.04L339.88 389.82L340.01 388.3L340.15 388.24L340.29 387.84L340.42 389.27L340.56 388.82L340.7 389.28L340.83 389.76L340.97 388.67L341.1 391.1L341.24 390.73L341.38 392.16L341.51 394.81L341.65 395.02L341.78 394.22L341.92 393.71L342.06 395.58L342.19 395.22L342.33 394.22L342.46 393.15L342.6 392.31L342.74 389.49L342.87 389.41L343.01 389.38L343.15 388.08L343.28 386.59L343.42 387.05L343.55 385.78L343.69 386.69L343.83 384.75L343.96 384.39L344.1 385.06L344.23 387.08L344.37 388.97L344.51 389.64L344.64 390.97L344.78 393.55L344.91 393.52L345.05 394.73L345.19 396.63L345.32 396.44L345.46 395.49L345.6 396.28L345.73 397.21L345.87 397.14L346 395.2L346.14 394.68L346.28 394.62L346.41 393.01L346.55 392.18L346.68 390.4L346.82 388.57L346.96 389.43L347.09 388.16L347.23 387.55L347.36 386.85L347.5 388.16L347.64 388.23L347.77 386.22L347.91 389.31L348.05 388.1L348.18 390.26L348.32 390.28L348.45 391.27L348.59 392.85L348.73 393.89L348.86 392L349 395.77L349.13 395.94L349.27 394.3L349.41 395.78L349.54 396.44L349.68 394.37L349.81 393.43L349.95 395.67L350.09 393.48L350.22 393.94L350.36 391.25L350.5 391.93L350.63 390.25L350.77 390.4L350.9 391.64L351.04 390.15L351.18 388.95L351.31 390.69L351.45 390.96L351.58 388.16L351.72 388.83L351.86 390.38L351.99 393.13L352.13 391.86L352.27 391.81L352.4 393.41L352.54 394.44L352.67 396.01L352.81 395.76L352.95 394.87L353.08 396.09L353.22 396.96L353.35 395.85L353.49 392.01L353.63 391.54L353.76 389.44L353.9 390.82L354.03 389.9L354.17 387.2L354.31 387.73L354.44 387.74L354.58 389.13L354.72 388.39L354.85 389.71L354.99 391.5L355.12 394.14L355.26 395.46L355.4 397.01L355.53 397.58L355.67 398.32L355.8 397.55L355.94 395.05L356.08 394.29L356.21 394.9L356.35 391.3L356.48 389.02L356.62 389.05L356.76 386L356.89 385.09L357.03 387.79L357.17 386.25L357.3 387.88L357.44 388.77L357.57 389.91L357.71 390.36L357.85 392.55L357.98 392.9L358.12 395.93L358.25 394.68L358.39 396.24L358.53 396.74L358.66 394.1L358.8 394.03L358.93 394.19L359.07 390.88L359.21 391.18L359.34 389.65L359.48 387.88L359.62 389.61L359.75 388.67L359.89 388.72L360.02 389.89L360.16 389.57L360.3 388.8L360.43 390.48L360.57 392.75L360.7 392.18L360.84 393.19L360.98 394.7L361.11 394.26L361.25 395.67L361.38 394.57L361.52 395.98L361.66 394.46L361.79 396L361.93 396.06L362.07 395.05L362.2 395.16L362.34 392.03L362.47 390.95L362.61 392.22L362.75 392.17L362.88 389.46L363.02 389.09L363.15 390.76L363.29 390.35L363.43 389.67L363.56 391.02L363.7 391.05L363.83 390.9L363.97 392.45L364.11 393.11L364.24 392.43L364.38 394.36L364.52 393.26L364.65 394.03L364.79 395.86L364.92 397.93L365.06 396.93L365.2 398.76L365.33 397.23L365.47 398.72L365.6 397.62L365.74 396.98L365.88 396.49L366.01 395.48L366.15 395.86L366.28 395.4L366.42 393.54L366.56 390.44L366.69 392.42L366.83 390.63L366.97 389.74L367.1 388.71L367.24 386.92L367.37 389.15L367.51 389.55L367.65 390.27L367.78 389.88L367.92 389.48L368.05 391.43L368.19 391.92L368.33 393.53L368.46 395.17L368.6 396.05L368.74 398.13L368.87 395.78L369.01 396.91L369.14 399.16L369.28 398.68L369.42 396.36L369.55 396.64L369.69 395.03L369.82 394.08L369.96 395.08L370.1 391.83L370.23 392.95L370.37 392.35L370.5 389.71L370.64 389.08L370.78 390.6L370.91 390.39L371.05 389.52L371.19 391.46L371.32 391.61L371.46 390.54L371.59 394.17L371.73 392.24L371.87 393.1L372 393.27L372.14 396.1L372.27 396.38L372.41 395.48L372.55 396L372.68 392.94L372.82 393.35L372.95 391.65L373.09 391.98L373.23 391.15L373.36 388.94L373.5 391.15L373.64 390.54L373.77 388.49L373.91 389.72L374.04 389.75L374.18 389.99L374.32 391.87L374.45 393.65L374.59 394.41L374.72 396.22L374.86 398.08L375 398.21L375.13 396.3L375.27 397.24L375.4 398.08L375.54 394.95L375.68 392.44L375.81 392.2L375.95 391.24L376.09 390.18L376.22 388.76L376.36 388.4L376.49 388.89L376.63 388.09L376.77 389.15L376.9 390.84L377.04 392.6L377.17 394.27L377.31 397.54L377.45 397.93L377.58 399.68L377.72 400.48L377.85 398.17L377.99 400.21L378.13 397.57L378.26 396.44L378.4 396.55L378.54 396.38L378.67 394.47L378.81 391.65L378.94 390.36L379.08 390.72L379.22 389.44L379.35 390.74L379.49 389.32L379.62 389.4L379.76 390.13L379.9 391.76L380.03 392.74L380.17 395.65L380.3 395.79L380.44 396.25L380.58 398.11L380.71 398.7L380.85 396.22L380.99 397.32L381.12 397.73L381.26 397.16L381.39 396.25L381.53 396.57L381.67 396.72L381.8 396.23L381.94 393.72L382.07 393.14L382.21 395.14L382.35 392.41L382.48 392.49L382.62 393.05L382.75 391.58L382.89 392.73L383.03 391.08L383.16 391.68L383.3 391.7L383.44 393.63L383.57 391.18L383.71 391.42L383.84 392.53L383.98 394.6L384.12 393.81L384.25 396.4L384.39 395.63L384.52 396.89L384.66 397.03L384.8 398.1L384.93 399.18L385.07 398.23L385.2 398.95L385.34 399.06L385.48 398.28L385.61 398.5L385.75 398.2L385.89 394.33L386.02 396.39L386.16 392.67L386.29 393.16L386.43 393.1L386.57 391.14L386.7 390.05L386.84 390.87L386.97 388.87L387.11 390.46L387.25 389.67L387.38 388.77L387.52 389.06L387.66 392.19L387.79 392.6L387.93 392.12L388.06 395.47L388.2 397.43L388.34 398.21L388.47 397.17L388.61 399.49L388.74 398.74L388.88 397.75L389.02 398.29L389.15 398.83L389.29 396.81L389.42 396.03L389.56 394.18L389.7 392.42L389.83 390.1L389.97 390.12L390.11 390.13L390.24 388.97L390.38 390.16L390.51 391.76L390.65 391.12L390.79 393.54L390.92 394.98L391.06 395.67L391.19 396.52L391.33 398.94L391.47 398.55L391.6 396.97L391.74 398.43L391.87 398.57L392.01 397.69L392.15 396.11L392.28 395.83L392.42 395.2L392.56 393.77L392.69 394.03L392.83 392.21L392.96 392.78L393.1 391.89L393.24 393.32L393.37 392.89L393.51 395.01L393.64 394.9L393.78 395.74L393.92 398.1L394.05 398.47L394.19 398.16L394.32 397.73L394.46 397.87L394.6 397.8L394.73 397.71L394.87 396.83L395.01 398.56L395.14 398.06L395.28 397.48L395.41 395.09L395.55 396.43L395.69 395.93L395.82 396.51L395.96 394.82L396.09 397.32L396.23 398.11L396.37 398.22L396.5 399.09L396.64 401.91L396.77 401.7L396.91 402.82L397.05 403.59L397.18 404.27L397.32 403.98L397.46 404.03L397.59 403.83L397.73 404.65L397.86 404.78L398 403.33L398.14 403.64L398.27 401.89L398.41 401.75L398.54 400.95L398.68 400.67L398.82 400.92L398.95 401.24L399.09 402.28L399.22 402.2L399.36 403.04L399.5 404.49L399.63 404.33L399.77 405.78L399.91 406.52L400.04 407.74L400.18 407.59L400.31 408.66L400.45 408.84L400.59 409.14L400.72 409.84L400.86 410L400.99 410.3L401.13 410.64L401.27 410.23L401.4 410.24L401.54 411.06L401.67 411.17L401.81 411.03L401.95 411.49L402.08 411.56L402.22 411.96L402.36 412.4L402.49 412.71L402.63 413.35L402.76 413.98L402.9 415.05"/></defs>
<use href="#p9bd3f7" fill="none" stroke="#9bd3f7" stroke-width="2.15" stroke-opacity="0.45" stroke-linejoin="round"/>
<use href="#p9bd3f7" fill="none" stroke="#9bd3f7" stroke-width="1.15" stroke-linejoin="round"/>
<path d="M49 415.05L49.15 415.52L49.29 415.86L49.44 416.15L49.59 416.39L49.74 416.56L49.88 416.69L50.03 416.78L50.18 416.87L50.33 416.97L50.47 417.12L50.62 417.3L50.77 417.53L50.92 417.76L51.06 417.98L51.21 418.15L51.36 418.25L51.51 418.3L51.65 418.3L51.8 418.29L51.95 418.3L52.1 418.37L52.24 418.53L52.39 418.77L52.54 419.1L52.69 419.49L52.83 419.9L52.98 420.3L53.13 420.66L53.28 420.96L53.42 421.19L53.57 421.37L53.72 421.51L53.87 421.67L54.01 421.86L54.16 422.13L54.31 422.49L54.46 422.96L54.6 423.53L54.75 424.18L54.9 424.89L55.05 425.61L55.19 426.33L55.34 427L55.49 427.08L55.64 426.94L55.78 426.7L55.93 426.37L56.08 425.99L56.23 425.59L56.37 425.2L56.52 424.86L56.67 424.6L56.82 424.44L56.96 424.39L57.11 424.44L57.26 424.56L57.41 424.74L57.55 424.92L57.7 425.08L57.85 425.16L57.99 425.16L58.14 425.05L58.29 424.84L58.44 424.56L58.58 424.25L58.73 423.97L58.88 423.76L59.03 423.69L59.17 423.8L59.32 424.09L59.47 424.57L59.62 425.18L59.76 425.88L59.91 426.57L60.06 427.19L60.21 427.66L60.35 427.95L60.5 427.97L60.65 427.88L60.8 427.78L60.94 427.75L61.09 427.91L61.24 428.29L61.39 428.93L61.53 429.78L61.68 430.76L61.83 431.73L61.98 432.59L62.12 433.24L62.27 433.64L62.42 433.81L62.57 433.61L62.71 432.58L62.86 431.68L63.01 431.02L63.16 430.63L63.3 430.51L63.45 430.54L63.6 430.6L63.75 430.54L63.89 430.26L64.04 429.71L64.19 428.93L64.34 428.04L64.48 427.17L64.63 426.47L64.78 426.05L64.93 425.93L65.07 426.08L65.22 426.39L65.37 426.73L65.52 426.95L65.66 426.96L65.81 426.75L65.96 426.34L66.11 425.83L66.25 425.35L66.4 425.02L66.55 424.94L66.69 425.12L66.84 425.56L66.99 426.19L67.14 426.9L67.28 427.59L67.43 428.16L67.58 428.56L67.73 428.77L67.87 428.83L68.02 428.8L68.17 428.76L68.32 428.8L68.46 428.99L68.61 429.36L68.76 429.94L68.91 430.69L69.05 431.57L69.2 432.52L69.35 433.46L69.5 434.32L69.64 435.07L69.79 434.68L69.94 434.05L70.09 433.28L70.23 432.42L70.38 431.52L70.53 430.64L70.68 429.84L70.82 429.15L70.97 428.62L71.12 428.26L71.27 428.05L71.41 427.96L71.56 427.97L71.71 428.02L71.86 428.06L72 428.04L72.15 427.93L72.3 427.71L72.45 427.37L72.59 426.94L72.74 426.45L72.89 425.96L73.04 425.53L73.18 425.2L73.33 425.03L73.48 425.06L73.63 425.29L73.77 425.69L73.92 426.24L74.07 426.87L74.22 427.5L74.36 428.07L74.51 428.5L74.66 428.78L74.81 428.9L74.95 428.89L75.1 428.83L75.25 428.8L75.4 428.89L75.54 429.17L75.69 429.7L75.84 430.46L75.98 431.41L76.13 432.45L76.28 433.46L76.43 434.34L76.57 434.99L76.72 435.39L76.87 434.61L77.02 433.56L77.16 432.5L77.31 431.57L77.46 430.89L77.61 430.49L77.75 430.36L77.9 430.41L78.05 430.49L78.2 430.47L78.34 430.22L78.49 429.69L78.64 428.94L78.79 428.04L78.93 427.17L79.08 426.48L79.23 426.07L79.38 425.99L79.52 426.2L79.67 426.59L79.82 427.01L79.97 427.31L80.11 427.39L80.26 427.22L80.41 426.84L80.56 426.36L80.7 425.92L80.85 425.66L81 425.67L81.15 425.99L81.29 426.58L81.44 427.35L81.59 428.17L81.74 428.93L81.88 429.52L82.03 429.91L82.18 430.08L82.33 430.11L82.47 430.08L82.62 430.1L82.77 430.25L82.92 430.6L83.06 431.18L83.21 431.96L83.36 432.91L83.51 433.93L83.65 434.95L83.8 435.78L83.95 435.44L84.1 434.92L84.24 434.22L84.39 433.39L84.54 432.46L84.68 431.51L84.83 430.6L84.98 429.8L85.13 429.15L85.27 428.67L85.42 428.37L85.57 428.23L85.72 428.22L85.86 428.28L86.01 428.35L86.16 428.39L86.31 428.36L86.45 428.22L86.6 427.96L86.75 427.6L86.9 427.16L87.04 426.69L87.19 426.24L87.34 425.87L87.49 425.63L87.63 425.55L87.78 425.68L87.93 425.99L88.08 426.48L88.22 427.1L88.37 427.79L88.52 428.49L88.67 429.12L88.81 429.63L88.96 430L89.11 430.21L89.26 430.3L89.4 430.31L89.55 430.33L89.7 430.43L89.85 430.7L89.99 431.18L90.14 431.89L90.29 432.81L90.44 433.86L90.58 434.95L90.73 435.98L90.88 436.16L91.03 435.62L91.17 434.83L91.32 433.85L91.47 432.76L91.62 431.69L91.76 430.79L91.91 430.13L92.06 429.77L92.21 429.69L92.35 429.78L92.5 429.91L92.65 429.94L92.8 429.76L92.94 429.3L93.09 428.61L93.24 427.77L93.38 426.95L93.53 426.3L93.68 425.95L93.83 425.95L93.97 426.27L94.12 426.78L94.27 427.34L94.42 427.78L94.56 428L94.71 427.94L94.86 427.66L95.01 427.26L95.15 426.91L95.3 426.75L95.45 426.89L95.6 427.36L95.74 428.12L95.89 429.05L96.04 430.02L96.19 430.88L96.33 431.54L96.48 431.95L96.63 432.14L96.78 432.18L96.92 432.19L97.07 432.29L97.22 432.58L97.37 433.1L97.51 433.88L97.66 434.85L97.81 435.55L97.96 435.46L98.1 435.3L98.25 434.98L98.4 434.48L98.55 433.77L98.69 432.91L98.84 431.95L98.99 430.97L99.14 430.05L99.28 429.26L99.43 428.65L99.58 428.25L99.73 428.05L99.87 428.01L100.02 428.1L100.17 428.25L100.32 428.4L100.46 428.49L100.61 428.48L100.76 428.35L100.91 428.11L101.05 427.77L101.2 427.37L101.35 426.96L101.5 426.61L101.64 426.36L101.79 426.26L101.94 426.36L102.09 426.65L102.23 427.12L102.38 427.76L102.53 428.5L102.67 429.3L102.82 430.08L102.97 430.79L103.12 431.38L103.26 431.83L103.41 432.12L103.56 432.3L103.71 432.4L103.85 432.5L104 432.67L104.15 432.97L104.3 433.47L104.44 434.18L104.59 435.08L104.74 435.72L104.89 435.62L105.03 435.5L105.18 435.27L105.33 434.85L105.48 434.2L105.62 433.34L105.77 432.32L105.92 431.25L106.07 430.24L106.21 429.42L106.36 428.88L106.51 428.64L106.66 428.66L106.8 428.86L106.95 429.1L107.1 429.24L107.25 429.16L107.39 428.82L107.54 428.24L107.69 427.53L107.84 426.83L107.98 426.31L108.13 426.09L108.28 426.23L108.43 426.71L108.57 427.4L108.72 428.16L108.87 428.8L109.02 429.21L109.16 429.33L109.31 429.21L109.46 428.95L109.61 428.73L109.75 428.7L109.9 428.98L110.05 429.62L110.2 430.55L110.34 431.66L110.49 432.79L110.64 433.79L110.79 434.54L110.93 435.01L111.08 435.23L111.23 435.3L111.37 435.35L111.52 435.53L111.67 435.14L111.82 434.55L111.96 434.22L112.11 434.09L112.26 434.04L112.41 433.97L112.55 433.76L112.7 433.36L112.85 432.74L113 431.93L113.14 431L113.29 430.03L113.44 429.12L113.59 428.37L113.73 427.83L113.88 427.53L114.03 427.46L114.18 427.58L114.32 427.82L114.47 428.13L114.62 428.41L114.77 428.62L114.91 428.71L115.06 428.67L115.21 428.5L115.36 428.24L115.5 427.94L115.65 427.66L115.8 427.46L115.95 427.4L116.09 427.52L116.24 427.83L116.39 428.35L116.54 429.04L116.68 429.87L116.83 430.78L116.98 431.71L117.13 432.59L117.27 433.38L117.42 434.04L117.57 434.55L117.72 434.91L117.86 435.15L118.01 435.34L118.16 435.51L118.31 435.76L118.45 435.91L118.6 435.16L118.75 434.61L118.9 434.25L119.04 434.05L119.19 433.94L119.34 433.85L119.49 433.68L119.63 433.36L119.78 432.85L119.93 432.14L120.07 431.26L120.22 430.28L120.37 429.32L120.52 428.49L120.66 427.89L120.81 427.57L120.96 427.56L121.11 427.8L121.25 428.19L121.4 428.6L121.55 428.9L121.7 428.99L121.84 428.82L121.99 428.43L122.14 427.92L122.29 427.42L122.43 427.11L122.58 427.11L122.73 427.47L122.88 428.17L123.02 429.09L123.17 430.09L123.32 430.98L123.47 431.62L123.61 431.96L123.76 432.03L123.91 431.95L124.06 431.87L124.2 431.98L124.35 432.39L124.5 433.17L124.65 434.26L124.79 435.52L124.94 436.8L125.09 437.92L125.24 438.75L125.38 437.98L125.53 436.9L125.68 435.65L125.83 434.41L125.97 433.33L126.12 432.52L126.27 432.03L126.42 431.83L126.56 431.83L126.71 431.9L126.86 431.91L127.01 431.75L127.15 431.36L127.3 430.74L127.45 429.94L127.6 429.08L127.74 428.25L127.89 427.57L128.04 427.13L128.19 426.95L128.33 427.05L128.48 427.38L128.63 427.86L128.77 428.4L128.92 428.92L129.07 429.34L129.22 429.61L129.36 429.74L129.51 429.72L129.66 429.61L129.81 429.47L129.95 429.37L130.1 429.37L130.25 429.54L130.4 429.91L130.54 430.48L130.69 431.25L130.84 432.18L130.99 433.21L131.13 434.29L131.28 435.35L131.43 436.32L131.58 437.17L131.72 437.85L131.87 438.38L132.02 438.72L132.17 437.64L132.31 436.51L132.46 435.39L132.61 434.36L132.76 433.48L132.9 432.78L133.05 432.29L133.2 431.99L133.35 431.85L133.49 431.81L133.64 431.8L133.79 431.73L133.94 431.56L134.08 431.21L134.23 430.69L134.38 430.02L134.53 429.24L134.67 428.46L134.82 427.77L134.97 427.26L135.12 427.02L135.26 427.08L135.41 427.43L135.56 427.99L135.71 428.66L135.85 429.32L136 429.84L136.15 430.14L136.3 430.19L136.44 430.04L136.59 429.78L136.74 429.56L136.89 429.53L137.03 429.81L137.18 430.44L137.33 431.39L137.47 432.57L137.62 433.8L137.77 434.93L137.92 435.79L138.06 436.33L138.21 436.57L138.36 436.62L138.51 436.65L138.65 436.84L138.8 436.85L138.95 436.31L139.1 436.09L139.24 436.06L139.39 436.06L139.54 435.9L139.69 435.45L139.83 434.68L139.98 433.62L140.13 432.42L140.28 431.24L140.42 430.27L140.57 429.61L140.72 429.32L140.87 429.36L141.01 429.61L141.16 429.93L141.31 430.15L141.46 430.18L141.6 429.94L141.75 429.48L141.9 428.86L142.05 428.21L142.19 427.68L142.34 427.36L142.49 427.34L142.64 427.63L142.78 428.21L142.93 428.97L143.08 429.83L143.23 430.67L143.37 431.4L143.52 431.96L143.67 432.34L143.82 432.54L143.96 432.62L144.11 432.67L144.26 432.75L144.41 432.95L144.55 433.33L144.7 433.92L144.85 434.72L145 435.71L145.14 436.84L145.29 438.03L145.44 439.23L145.59 439.06L145.73 438.64L145.88 438.06L146.03 437.31L146.18 436.41L146.32 435.38L146.47 434.29L146.62 433.2L146.76 432.17L146.91 431.28L147.06 430.56L147.21 430.05L147.35 429.76L147.5 429.67L147.65 429.74L147.8 429.9L147.94 430.09L148.09 430.23L148.24 430.27L148.39 430.17L148.53 429.91L148.68 429.52L148.83 429.04L148.98 428.54L149.12 428.13L149.27 427.88L149.42 427.87L149.57 428.14L149.71 428.7L149.86 429.49L150.01 430.44L150.16 431.43L150.3 432.34L150.45 433.08L150.6 433.59L150.75 433.86L150.89 433.94L151.04 433.94L151.19 434L151.34 434.25L151.48 434.79L151.63 435.67L151.78 436.84L151.93 438.2L152.07 439.59L152.22 439.76L152.37 439.27L152.52 438.45L152.66 437.32L152.81 435.99L152.96 434.64L153.11 433.45L153.25 432.58L153.4 432.1L153.55 431.98L153.7 432.1L153.84 432.28L153.99 432.33L154.14 432.11L154.29 431.56L154.43 430.74L154.58 429.77L154.73 428.83L154.88 428.12L155.02 427.77L155.17 427.82L155.32 428.24L155.46 428.89L155.61 429.59L155.76 430.19L155.91 430.55L156.05 430.63L156.2 430.46L156.35 430.14L156.5 429.83L156.64 429.68L156.79 429.8L156.94 430.25L157.09 431.04L157.23 432.08L157.38 433.26L157.53 434.46L157.68 435.55L157.82 436.45L157.97 437.1L158.12 437.53L158.27 437.79L158.41 437.97L158.56 438.15L158.71 438.45L158.86 437.72L159 436.93L159.15 436.37L159.3 436L159.45 435.78L159.59 435.63L159.74 435.46L159.89 435.22L160.04 434.84L160.18 434.3L160.33 433.61L160.48 432.77L160.63 431.86L160.77 430.92L160.92 430.04L161.07 429.27L161.22 428.69L161.36 428.32L161.51 428.18L161.66 428.27L161.81 428.56L161.95 428.99L162.1 429.5L162.25 430.01L162.4 430.47L162.54 430.83L162.69 431.04L162.84 431.11L162.99 431.05L163.13 430.93L163.28 430.8L163.43 430.75L163.58 430.85L163.72 431.16L163.87 431.73L164.02 432.56L164.16 433.62L164.31 434.82L164.46 436.09L164.61 437.3L164.75 438.36L164.9 439.2L165.05 439.79L165.2 440.14L165.34 440.11L165.49 438.74L165.64 437.45L165.79 436.37L165.93 435.59L166.08 435.12L166.23 434.93L166.38 434.92L166.52 434.92L166.67 434.79L166.82 434.41L166.97 433.72L167.11 432.75L167.26 431.62L167.41 430.5L167.56 429.57L167.7 428.97L167.85 428.79L168 429.01L168.15 429.49L168.29 430.07L168.44 430.55L168.59 430.77L168.74 430.66L168.88 430.27L169.03 429.71L169.18 429.19L169.33 428.89L169.47 428.96L169.62 429.47L169.77 430.35L169.92 431.48L170.06 432.66L170.21 433.7L170.36 434.47L170.51 434.91L170.65 435.07L170.8 435.07L170.95 435.08L171.1 435.26L171.24 435.74L171.39 436.56L171.54 437.71L171.69 439.07L171.83 440.52L171.98 440.77L172.13 440.39L172.28 439.73L172.42 438.79L172.57 437.63L172.72 436.32L172.87 435.02L173.01 433.82L173.16 432.84L173.31 432.14L173.45 431.72L173.6 431.55L173.75 431.58L173.9 431.69L174.04 431.82L174.19 431.86L174.34 431.76L174.49 431.5L174.63 431.09L174.78 430.55L174.93 429.95L175.08 429.37L175.22 428.88L175.37 428.56L175.52 428.46L175.67 428.6L175.81 428.99L175.96 429.6L176.11 430.39L176.26 431.29L176.4 432.23L176.55 433.14L176.7 433.96L176.85 434.64L176.99 435.17L177.14 435.55L177.29 435.81L177.44 436L177.58 436.19L177.73 436.46L177.88 436.86L178.03 437.46L178.17 438.27L178.32 439.31L178.47 439.66L178.62 439.42L178.76 439.22L178.91 438.96L179.06 438.58L179.21 438L179.35 437.19L179.5 436.17L179.65 434.99L179.8 433.75L179.94 432.57L180.09 431.56L180.24 430.83L180.39 430.43L180.53 430.35L180.68 430.55L180.83 430.89L180.98 431.24L181.12 431.45L181.27 431.43L181.42 431.13L181.57 430.59L181.71 429.92L181.86 429.29L182.01 428.87L182.15 428.8L182.3 429.15L182.45 429.9L182.6 430.92L182.74 432.05L182.89 433.07L183.04 433.83L183.19 434.26L183.33 434.36L183.48 434.27L183.63 434.18L183.78 434.29L183.92 434.76L184.07 435.65L184.22 436.91L184.37 438.41L184.51 439.94L184.66 441.3L184.81 442.33L184.96 441.99L185.1 440.69L185.25 439.19L185.4 437.69L185.55 436.38L185.69 435.4L185.84 434.81L185.99 434.57L186.14 434.56L186.28 434.63L186.43 434.6L186.58 434.36L186.73 433.83L186.87 433.04L187.02 432.05L187.17 431.01L187.32 430.07L187.46 429.34L187.61 428.92L187.76 428.85L187.91 429.11L188.05 429.6L188.2 430.24L188.35 430.91L188.5 431.49L188.64 431.93L188.79 432.17L188.94 432.23L189.09 432.16L189.23 432.02L189.38 431.91L189.53 431.91L189.68 432.1L189.82 432.52L189.97 433.19L190.12 434.11L190.27 435.23L190.41 436.48L190.56 437.78L190.71 439.07L190.85 440.26L191 441.31L191.15 442.17L191.3 442.83L191.44 441.79L191.59 440.51L191.74 439.17L191.89 437.85L192.03 436.63L192.18 435.57L192.33 434.71L192.48 434.1L192.62 433.71L192.77 433.52L192.92 433.46L193.07 433.47L193.21 433.46L193.36 433.35L193.51 433.09L193.66 432.65L193.8 432.04L193.95 431.3L194.1 430.52L194.25 429.78L194.39 429.21L194.54 428.89L194.69 428.89L194.84 429.23L194.98 429.86L195.13 430.71L195.28 431.65L195.43 432.55L195.57 433.28L195.72 433.75L195.87 433.96L196.02 433.96L196.16 433.85L196.31 433.8L196.46 433.97L196.61 434.47L196.75 435.36L196.9 436.62L197.05 438.11L197.2 439.66L197.34 441.07L197.49 442.19L197.64 442.93L197.79 442.48L197.93 440.94L198.08 439.35L198.23 437.93L198.38 436.85L198.52 436.19L198.67 435.93L198.82 435.93L198.97 436L199.11 435.93L199.26 435.55L199.41 434.81L199.55 433.76L199.7 432.53L199.85 431.33L200 430.37L200.14 429.81L200.29 429.7L200.44 429.99L200.59 430.55L200.73 431.19L200.88 431.73L201.03 432.03L201.18 432.03L201.32 431.75L201.47 431.32L201.62 430.87L201.77 430.58L201.91 430.58L202.06 430.94L202.21 431.68L202.36 432.73L202.5 433.97L202.65 435.27L202.8 436.48L202.95 437.52L203.09 438.31L203.24 438.85L203.39 439.2L203.54 439.43L203.68 439.65L203.83 439.96L203.98 440.44L204.13 440.64L204.27 439.87L204.42 439.33L204.57 438.97L204.72 438.72L204.86 438.5L205.01 438.22L205.16 437.82L205.31 437.26L205.45 436.52L205.6 435.62L205.75 434.6L205.9 433.51L206.04 432.45L206.19 431.48L206.34 430.68L206.49 430.1L206.63 429.78L206.78 429.72L206.93 429.91L207.08 430.3L207.22 430.82L207.37 431.4L207.52 431.95L207.67 432.41L207.81 432.73L207.96 432.89L208.11 432.9L208.25 432.8L208.4 432.66L208.55 432.57L208.7 432.62L208.84 432.89L208.99 433.45L209.14 434.3L209.29 435.44L209.43 436.78L209.58 438.22L209.73 439.65L209.88 440.93L210.02 441.97L210.17 442.73L210.32 443.2L210.47 442.87L210.61 441.3L210.76 439.8L210.91 438.51L211.06 437.56L211.2 436.97L211.35 436.71L211.5 436.67L211.65 436.68L211.79 436.56L211.94 436.16L212.09 435.43L212.24 434.39L212.38 433.15L212.53 431.91L212.68 430.89L212.83 430.24L212.97 430.06L213.12 430.32L213.27 430.91L213.42 431.61L213.56 432.21L213.71 432.53L213.86 432.5L214.01 432.14L214.15 431.61L214.3 431.11L214.45 430.85L214.6 431.01L214.74 431.64L214.89 432.7L215.04 434.03L215.19 435.43L215.33 436.69L215.48 437.65L215.63 438.26L215.78 438.55L215.92 438.64L216.07 438.73L216.22 438.97L216.37 439.53L216.51 440.45L216.66 441.72L216.81 442.13L216.96 441.98L217.1 441.77L217.25 441.37L217.4 440.71L217.54 439.74L217.69 438.52L217.84 437.14L217.99 435.74L218.13 434.43L218.28 433.34L218.43 432.54L218.58 432.07L218.72 431.9L218.87 431.98L219.02 432.2L219.17 432.49L219.31 432.73L219.46 432.86L219.61 432.82L219.76 432.62L219.9 432.28L220.05 431.85L220.2 431.4L220.35 431.01L220.49 430.78L220.64 430.76L220.79 430.99L220.94 431.5L221.08 432.27L221.23 433.26L221.38 434.41L221.53 435.64L221.67 436.88L221.82 438.04L221.97 439.06L222.12 439.91L222.26 440.57L222.41 441.06L222.56 441.43L222.71 441.74L222.85 442.07L223 442.24L223.15 441.03L223.3 440.06L223.44 439.34L223.59 438.86L223.74 438.57L223.89 438.39L224.03 438.2L224.18 437.92L224.33 437.46L224.48 436.76L224.62 435.83L224.77 434.71L224.92 433.5L225.07 432.34L225.21 431.36L225.36 430.69L225.51 430.4L225.66 430.5L225.8 430.93L225.95 431.58L226.1 432.26L226.24 396.36L226.39 396.49L226.54 396.93L226.69 397.64L226.83 398.51L226.98 399.35L227.13 399.97L227.28 400.2L227.42 399.95L227.57 399.26L227.72 398.24L227.87 397.09L228.01 396.04L228.16 395.27L228.31 394.87L228.46 394.81L228.6 394.96L228.75 395.11L228.9 395.04L229.05 394.58L229.19 393.65L229.34 392.3L229.49 390.69L229.64 389.03L229.78 387.54L229.93 386.4L230.08 385.66L230.23 386.19L230.37 387.86L230.52 389.54L230.67 391.04L230.82 392.19L230.96 392.94L231.11 393.3L231.26 393.4L231.41 393.4L231.55 393.47L231.7 393.77L231.85 394.35L232 395.22L232.14 396.3L232.29 397.46L232.44 398.55L232.59 399.43L232.73 400L232.88 400.2L233.03 400.06L233.18 399.62L233.32 399L233.47 398.31L233.62 397.67L233.77 397.16L233.91 396.83L234.06 396.7L234.21 396.72L234.36 396.84L234.5 396.96L234.65 397L234.8 396.88L234.94 396.54L235.09 395.93L235.24 395.07L235.39 393.97L235.53 392.7L235.68 391.32L235.83 389.93L235.98 388.59L236.12 387.39L236.27 386.37L236.42 385.56L236.57 386.69L236.71 388.01L236.86 389.43L237.01 390.86L237.16 392.24L237.3 393.47L237.45 394.5L237.6 395.28L237.75 395.8L237.89 396.09L238.04 396.19L238.19 396.19L238.34 396.16L238.48 396.19L238.63 396.37L238.78 396.73L238.93 397.28L239.07 397.99L239.22 398.78L239.37 399.55L239.52 400.19L239.66 400.58L239.81 400.64L239.96 400.34L240.11 399.71L240.25 398.82L240.4 397.81L240.55 396.81L240.7 395.98L240.84 395.4L240.99 395.11L241.14 395.06L241.29 395.15L241.43 395.2L241.58 395.04L241.73 394.55L241.88 393.65L242.02 392.37L242.17 390.84L242.32 389.23L242.47 387.76L242.61 386.59L242.76 386.21L242.91 387.56L243.06 389.16L243.2 390.81L243.35 392.28L243.5 393.41L243.65 394.1L243.79 394.38L243.94 394.37L244.09 394.29L244.23 394.34L244.38 394.69L244.53 395.41L244.68 396.45L244.82 397.66L244.97 398.84L245.12 399.79L245.27 400.34L245.41 400.44L245.56 400.13L245.71 399.53L245.86 398.84L246 398.23L246.15 397.85L246.3 397.77L246.45 397.96L246.59 398.32L246.74 398.72L246.89 398.99L247.04 398.99L247.18 398.65L247.33 397.93L247.48 396.9L247.63 395.66L247.77 394.33L247.92 393.06L248.07 391.95L248.22 391.07L248.36 390.43L248.51 390.01L248.66 389.73L248.81 389.51L248.95 389.25L249.1 389.25L249.25 390.36L249.4 391.23L249.54 391.87L249.69 392.3L249.84 392.58L249.99 392.8L250.13 393.02L250.28 393.32L250.43 393.76L250.58 394.36L250.72 395.12L250.87 396.02L251.02 397.01L251.17 398.01L251.31 398.96L251.46 399.78L251.61 400.4L251.76 400.78L251.9 400.9L252.05 400.75L252.2 400.39L252.35 399.86L252.49 399.23L252.64 398.6L252.79 398.02L252.93 397.57L253.08 397.28L253.23 397.15L253.38 397.16L253.52 397.25L253.67 397.34L253.82 397.32L253.97 397.12L254.11 396.66L254.26 395.9L254.41 394.86L254.56 393.59L254.7 392.2L254.85 390.79L255 389.5L255.15 388.44L255.29 387.66L255.44 387.19L255.59 388.6L255.74 390.12L255.88 391.6L256.03 392.88L256.18 393.85L256.33 394.45L256.47 394.71L256.62 394.74L256.77 394.71L256.92 394.78L257.06 395.11L257.21 395.77L257.36 396.73L257.51 397.89L257.65 399.06L257.8 400.04L257.95 400.66L258.1 400.83L258.24 400.57L258.39 400L258.54 399.31L258.69 398.72L258.83 398.4L258.98 398.41L259.13 398.74L259.28 399.24L259.42 399.72L259.57 399.97L259.72 399.84L259.87 399.27L260.01 398.3L260.16 397.06L260.31 395.76L260.46 394.58L260.6 393.67L260.75 393.09L260.9 392.82L261.05 392.74L261.19 392.69L261.34 392.51L261.49 392.06L261.63 391.27L261.78 390.16L261.93 389.67L262.08 389.83L262.22 390.01L262.37 390.34L262.52 390.9L262.67 391.74L262.81 392.81L262.96 394.06L263.11 395.37L263.26 396.61L263.4 397.69L263.55 398.52L263.7 399.07L263.85 399.33L263.99 399.34L264.14 399.19L264.29 398.95L264.44 398.72L264.58 398.57L264.73 398.54L264.88 398.67L265.03 398.95L265.17 399.33L265.32 399.77L265.47 400.19L265.62 400.51L265.76 400.67L265.91 400.62L266.06 400.32L266.21 399.78L266.35 399.02L266.5 398.08L266.65 397.03L266.8 395.93L266.94 394.88L267.09 393.92L267.24 393.11L267.39 392.47L267.53 392.01L267.68 391.68L267.83 391.44L267.98 391.22L268.12 390.93L268.27 390.5L268.42 391.16L268.57 391.9L268.71 392.42L268.86 392.74L269.01 392.94L269.16 393.1L269.3 393.33L269.45 393.72L269.6 394.32L269.75 395.15L269.89 396.19L270.04 397.34L270.19 398.49L270.33 399.5L270.48 400.26L270.63 400.69L270.78 400.75L270.92 400.5L271.07 400.05L271.22 399.54L271.37 399.14L271.51 398.96L271.66 399.06L271.81 399.44L271.96 399.97L272.1 400.5L272.25 400.84L272.4 400.85L272.55 400.43L272.69 399.62L272.84 398.52L272.99 397.3L273.14 396.18L273.28 395.32L273.43 394.81L273.58 394.62L273.73 394.64L273.87 394.68L274.02 394.55L274.17 394.08L274.32 393.21L274.46 391.99L274.61 390.53L274.76 389.04L274.91 389.02L275.05 389.56L275.2 390.46L275.35 391.69L275.5 393.1L275.64 394.54L275.79 395.8L275.94 396.77L276.09 397.36L276.23 397.6L276.38 397.59L276.53 397.46L276.68 397.37L276.82 397.45L276.97 397.77L277.12 398.34L277.27 399.11L277.41 399.97L277.56 400.8L277.71 401.47L277.86 401.89L278 401.99L278.15 401.79L278.3 401.32L278.45 400.65L278.59 399.91L278.74 399.17L278.89 398.53L279.03 398.04L279.18 397.72L279.33 397.57L279.48 397.53L279.62 397.54L279.77 397.52L279.92 397.41L280.07 397.13L280.21 396.64L280.36 395.94L280.51 395.02L280.66 393.93L280.8 392.72L280.95 391.47L281.1 390.24L281.25 389.11L281.39 389.09L281.54 389.81L281.69 390.72L281.84 391.79L281.98 392.97L282.13 394.2L282.28 395.4L282.43 396.51L282.57 397.45L282.72 398.18L282.87 398.67L283.02 398.94L283.16 399L283.31 398.94L283.46 398.81L283.61 398.72L283.75 398.73L283.9 398.9L284.05 399.26L284.2 399.78L284.34 400.41L284.49 401.05L284.64 401.62L284.79 401.98L284.93 402.07L285.08 401.84L285.23 401.29L285.38 400.5L285.52 399.57L285.67 398.64L285.82 397.83L285.97 397.26L286.11 396.96L286.26 396.9L286.41 396.98L286.56 397.05L286.7 396.96L286.85 396.57L287 395.82L287.15 394.72L287.29 393.38L287.44 391.97L287.59 390.67L287.74 389.64L287.88 389.21L288.03 390.37L288.18 391.77L288.32 393.22L288.47 394.52L288.62 395.52L288.77 396.13L288.91 396.36L289.06 396.35L289.21 396.27L289.36 396.3L289.5 396.6L289.65 397.23L289.8 398.15L289.95 399.23L290.09 400.31L290.24 401.18L290.39 401.72L290.54 401.87L290.68 401.65L290.83 401.18L290.98 400.6L291.13 400.09L291.27 399.78L291.42 399.72L291.57 399.91L291.72 400.27L291.86 400.68L292.01 401L292.16 401.11L292.31 400.93L292.45 400.42L292.6 399.63L292.75 398.63L292.9 397.53L293.04 396.44L293.19 395.46L293.34 394.66L293.49 394.08L293.63 393.69L293.78 393.45L293.93 393.28L294.08 393.1L294.22 392.83L294.37 392.41L294.52 392.46L294.67 393.1L294.81 393.55L294.96 393.86L295.11 394.08L295.26 394.28L295.4 394.52L295.55 394.86L295.7 395.35L295.85 395.98L295.99 396.76L296.14 397.65L296.29 398.6L296.44 399.55L296.58 400.42L296.73 401.15L296.88 401.69L297.02 402.01L297.17 402.1L297.32 401.97L297.47 401.66L297.61 401.25L297.76 400.79L297.91 400.35L298.06 400.01L298.2 399.81L298.35 399.77L298.5 399.86L298.65 400.06L298.79 400.28L298.94 400.45L299.09 400.47L299.24 400.27L299.38 399.8L299.53 399.06L299.68 398.08L299.83 396.95L299.97 395.77L300.12 394.67L300.27 393.74L300.42 393.06L300.56 392.64L300.71 392.43L300.86 392.34L301.01 392.24L301.15 392.69L301.3 393.6L301.45 394.2L301.6 394.49L301.74 394.58L301.89 394.61L302.04 394.73L302.19 395.09L302.33 395.76L302.48 396.73L302.63 397.89L302.78 399.08L302.92 400.12L303.07 400.86L303.22 401.2L303.37 401.16L303.51 400.86L303.66 400.45L303.81 400.13L303.96 400.05L304.1 400.27L304.25 400.78L304.4 401.44L304.55 402.1L304.69 402.56L304.84 402.69L304.99 402.42L305.14 401.8L305.28 400.93L305.43 399.98L305.58 399.12L305.72 398.48L305.87 398.12L306.02 398.02L306.17 398.1L306.31 398.2L306.46 398.19L306.61 397.94L306.76 397.4L306.9 396.55L307.05 395.45L307.2 394.22L307.35 392.97L307.49 391.83L307.64 390.89L307.79 390.59L307.94 391.52L308.08 392.64L308.23 393.86L308.38 395.08L308.53 396.19L308.67 397.13L308.82 397.85L308.97 398.33L309.12 398.6L309.26 398.71L309.41 398.73L309.56 398.73L309.71 398.78L309.85 398.94L310 399.23L310.15 399.66L310.3 400.22L310.44 400.86L310.59 401.51L310.74 402.12L310.89 402.62L311.03 402.96L311.18 403.1L311.33 403.01L311.48 402.72L311.62 402.23L311.77 401.61L311.92 400.9L312.07 400.19L312.21 399.52L312.36 398.96L312.51 398.54L312.66 398.25L312.8 398.1L312.95 398.04L313.1 398L313.25 397.92L313.39 397.72L313.54 397.35L313.69 396.75L313.84 395.93L313.98 394.92L314.13 393.77L314.28 392.57L314.43 391.41L314.57 391.51L314.72 392.07L314.87 392.86L315.01 393.88L315.16 395.05L315.31 396.27L315.46 397.41L315.6 398.36L315.75 399.03L315.9 399.4L316.05 399.49L316.19 399.4L316.34 399.25L316.49 399.19L316.64 399.34L316.78 399.76L316.93 400.43L317.08 401.26L317.23 402.11L317.37 402.81L317.52 403.21L317.67 403.24L317.82 402.9L317.96 402.3L318.11 401.58L318.26 400.94L318.41 400.51L318.55 400.38L318.7 400.53L318.85 400.85L319 401.17L319.14 401.33L319.29 401.18L319.44 400.65L319.59 399.78L319.73 398.68L319.88 397.52L320.03 396.47L320.18 395.66L320.32 395.15L320.47 394.92L320.62 394.87L320.77 394.85L320.91 394.71L321.06 394.33L321.21 393.77L321.36 394.15L321.5 394.31L321.65 394.38L321.8 394.5L321.95 394.77L322.09 395.26L322.24 395.99L322.39 396.93L322.54 397.99L322.68 399.07L322.83 400.05L322.98 400.85L323.13 401.4L323.27 401.7L323.42 401.76L323.57 401.64L323.71 401.42L323.86 401.19L324.01 401.01L324.16 400.95L324.3 401.03L324.45 401.25L324.6 401.59L324.75 401.99L324.89 402.39L325.04 402.72L325.19 402.92L325.34 402.95L325.48 402.76L325.63 402.37L325.78 401.79L325.93 401.05L326.07 400.22L326.22 399.35L326.37 398.5L326.52 397.74L326.66 397.1L326.81 396.6L326.96 396.24L327.11 395.99L327.25 395.82L327.4 395.67L327.55 395.47L327.7 395.17L327.84 394.72L327.99 394.23L328.14 394.71L328.29 395.02L328.43 395.22L328.58 395.37L328.73 395.54L328.88 395.81L329.02 396.23L329.17 396.85L329.32 397.65L329.47 398.59L329.61 399.59L329.76 400.56L329.91 401.4L330.06 402.02L330.2 402.35L330.35 402.41L330.5 402.23L330.65 401.92L330.79 401.57L330.94 401.33L331.09 401.29L331.24 401.48L331.38 401.89L331.53 402.42L331.68 402.95L331.83 403.34L331.97 403.44L332.12 403.21L332.27 402.63L332.41 401.81L332.56 400.89L332.71 400.03L332.86 399.38L333 399.02L333.15 398.93L333.3 399.02L333.45 399.15L333.59 399.14L333.74 398.86L333.89 398.23L334.04 397.27L334.18 396.1L334.33 394.88L334.48 393.78L334.63 392.93L334.77 392.39L334.92 393.25L335.07 394.45L335.22 395.68L335.36 396.79L335.51 397.63L335.66 398.17L335.81 398.41L335.95 398.44L336.1 398.39L336.25 398.41L336.4 398.6L336.54 399.02L336.69 399.67L336.84 400.5L336.99 401.4L337.13 402.24L337.28 402.93L337.43 403.38L337.58 403.55L337.72 403.46L337.87 403.17L338.02 402.75L338.17 402.31L338.31 401.92L338.46 401.65L338.61 401.54L338.76 401.59L338.9 401.75L339.05 401.98L339.2 402.21L339.35 402.35L339.49 402.35L339.64 402.17L339.79 401.78L339.94 401.19L340.08 400.44L340.23 399.56L340.38 398.63L340.53 397.7L340.67 396.83L340.82 396.07L340.97 395.45L341.11 394.97L341.26 394.63L341.41 394.39L341.56 394.21L341.7 394.49L341.85 395.48L342 396.36L342.15 397.09L342.29 397.65L342.44 398.03L342.59 398.27L342.74 398.4L342.88 398.49L343.03 398.6L343.18 398.78L343.33 399.09L343.47 399.56L343.62 400.18L343.77 400.91L343.92 401.71L344.06 402.48L344.21 403.16L344.36 403.65L344.51 403.9L344.65 403.9L344.8 403.67L344.95 403.26L345.1 402.76L345.24 402.29L345.39 401.94L345.54 401.78L345.69 401.83L345.83 402.06L345.98 402.38L346.13 402.67L346.28 402.81L346.42 402.69L346.57 402.26L346.72 401.53L346.87 400.59L347.01 399.57L347.16 398.62L347.31 397.87L347.46 397.4L347.6 397.19L347.75 397.18L347.9 397.21L348.05 397.14L348.19 396.82L348.34 396.19L348.49 395.27L348.64 394.86L348.78 394.87L348.93 394.99L349.08 395.34L349.23 395.99L349.37 396.92L349.52 398.02L349.67 399.15L349.81 400.13L349.96 400.85L350.11 401.24L350.26 401.34L350.4 401.22L350.55 401.04L350.7 400.93L350.85 401L350.99 401.31L351.14 401.85L351.29 402.54L351.44 403.26L351.58 403.88L351.73 404.3L351.88 404.46L352.03 404.33L352.17 403.95L352.32 403.42L352.47 402.82L352.62 402.25L352.76 401.81L352.91 401.53L353.06 401.43L353.21 401.47L353.35 401.59L353.5 401.71L353.65 401.76L353.8 401.66L353.94 401.37L354.09 400.89L354.24 400.21L354.39 399.37L354.53 398.44L354.68 397.48L354.83 396.56L354.98 395.72L355.12 395.02L355.27 394.47L355.42 394.07L355.57 394.47L355.71 395.44L355.86 396.44L356.01 397.4L356.16 398.28L356.3 399.03L356.45 399.62L356.6 400.04L356.75 400.3L356.89 400.44L357.04 400.49L357.19 400.52L357.34 400.57L357.48 400.7L357.63 400.94L357.78 401.31L357.93 401.81L358.07 402.4L358.22 403.03L358.37 403.65L358.52 404.17L358.66 404.53L358.81 404.69L358.96 404.62L359.1 404.34L359.25 403.88L359.4 403.32L359.55 402.75L359.69 402.24L359.84 401.88L359.99 401.7L360.14 401.69L360.28 401.82L360.43 402L360.58 402.11L360.73 402.07L360.87 401.78L361.02 401.22L361.17 400.41L361.32 399.43L361.46 398.4L361.61 397.45L361.76 396.7L361.91 396.21L362.05 395.97L362.2 395.92L362.35 395.92L362.5 396.18L362.64 397.02L362.79 397.56L362.94 397.81L363.09 397.86L363.23 397.83L363.38 397.89L363.53 398.16L363.68 398.7L363.82 399.51L363.97 400.48L364.12 401.48L364.27 402.34L364.41 402.94L364.56 403.22L364.71 403.2L364.86 402.97L365 402.67L365.15 402.45L365.3 402.41L365.45 402.62L365.59 403.04L365.74 403.61L365.89 404.18L366.04 404.64L366.18 404.87L366.33 404.81L366.48 404.48L366.63 403.93L366.77 403.25L366.92 402.56L367.07 401.97L367.22 401.54L367.36 401.3L367.51 401.23L367.66 401.27L367.8 401.35L367.95 401.37L368.1 401.26L368.25 400.97L368.39 400.47L368.54 399.77L368.69 398.93L368.84 397.99L368.98 397.04L369.13 396.15L369.28 395.36L369.43 394.73L369.57 395.08L369.72 395.84L369.87 396.72L370.02 397.66L370.16 398.59L370.31 399.46L370.46 400.22L370.61 400.84L370.75 401.3L370.9 401.59L371.05 401.74L371.2 401.79L371.34 401.79L371.49 401.77L371.64 401.81L371.79 401.92L371.93 402.14L372.08 402.48L372.23 402.92L372.38 403.43L372.52 403.96L372.67 404.45L372.82 404.85L372.97 405.1L373.11 405.17L373.26 405.04L373.41 404.72L373.56 404.25L373.7 403.68L373.85 403.08L374 402.53L374.15 402.08L374.29 401.79L374.44 401.65L374.59 401.65L374.74 401.74L374.88 401.81L375.03 401.8L375.18 401.61L375.33 401.2L375.47 400.54L375.62 399.69L375.77 398.72L375.92 397.73L376.06 396.85L376.21 396.16L376.36 395.71L376.5 395.5L376.65 396.44L376.8 397.5L376.95 398.47L377.09 399.24L377.24 399.73L377.39 399.95L377.54 399.97L377.68 399.91L377.83 399.91L377.98 400.1L378.13 400.55L378.27 401.24L378.42 402.1L378.57 402.98L378.72 403.75L378.86 404.26L379.01 404.47L379.16 404.38L379.31 404.08L379.45 403.7L379.6 403.4L379.75 403.28L379.9 403.41L380.04 403.75L380.19 404.22L380.34 404.7L380.49 405.04L380.63 405.16L380.78 404.98L380.93 404.54L381.08 403.89L381.22 403.16L381.37 402.45L381.52 401.87L381.67 401.48L381.81 401.29L381.96 401.27L382.11 401.32L382.26 401.37L382.4 401.31L382.55 401.08L382.7 400.63L382.85 399.99L382.99 399.18L383.14 398.27L383.29 397.34L383.44 396.47L383.58 395.72L383.73 396.01L383.88 396.61L384.03 397.37L384.17 398.22L384.32 399.11L384.47 399.99L384.62 400.79L384.76 401.46L384.91 401.98L385.06 402.33L385.2 402.53L385.35 402.61L385.5 402.61L385.65 402.57L385.79 402.56L385.94 402.61L386.09 402.74L386.24 402.99L386.38 403.34L386.53 403.76L386.68 404.24L386.83 404.71L386.97 405.13L387.12 405.44L387.27 405.61L387.42 405.61L387.56 405.44L387.71 405.1L387.86 404.63L388.01 404.08L388.15 403.5L388.3 402.97L388.45 402.53L388.6 402.22L388.74 402.04L388.89 401.99L389.04 402.02L389.19 402.06L389.33 402.05L389.48 401.92L389.63 401.6L389.78 401.08L389.92 400.36L390.07 399.5L390.22 398.57L390.37 397.67L390.51 396.89L390.66 396.3L390.81 396.42L390.96 397.26L391.1 398.22L391.25 399.19L391.4 400.07L391.55 400.75L391.69 401.18L391.84 401.36L391.99 401.36L392.14 401.28L392.28 401.26L392.43 401.4L392.58 401.78L392.73 402.39L392.87 403.15L393.02 403.95L393.17 404.65L393.32 405.11L393.46 405.28L393.61 405.17L393.76 404.85L393.91 404.45L394.05 404.1L394.2 404.08L394.35 404.28L394.49 404.69L394.64 405.22L394.79 405.75L394.94 406.15L395.08 406.33L395.23 406.26L395.38 405.95L395.53 405.5L395.67 405.01L395.82 404.58L395.97 404.3L396.12 404.19L396.26 404.27L396.41 404.46L396.56 404.69L396.71 404.89L396.85 404.98L397 404.93L397.15 404.73L397.3 404.42L397.44 404.03L397.59 403.65L397.74 403.31L397.89 403.08L398.03 403.5L398.18 404.11L398.33 404.81L398.48 405.54L398.62 406.28L398.77 406.99L398.92 407.62L399.07 408.16L399.21 408.59L399.36 408.94L399.51 409.2L399.66 409.41L399.8 409.59L399.95 409.78L400.1 409.98L400.25 410.22L400.39 410.5L400.54 410.81L400.69 411.14L400.84 411.49L400.98 411.83L401.13 412.16L401.28 412.44L401.43 412.69L401.57 412.9L401.72 413.07L401.87 413.22L402.02 413.36L402.16 413.51L402.31 413.68L402.46 413.89L402.61 414.16L402.75 414.5L402.9 415.05" fill="none" stroke="#8c1c40" stroke-width="1.1" stroke-linejoin="round"/>
<path d="M49 415.05L49.15 415.43L49.29 415.7L49.44 415.92L49.59 416.12L49.74 416.29L49.88 416.44L50.03 416.58L50.18 416.7L50.33 416.81L50.47 416.91L50.62 417L50.77 417.07L50.92 417.14L51.06 417.2L51.21 417.25L51.36 417.3L51.51 417.35L51.65 417.39L51.8 417.42L51.95 417.46L52.1 417.49L52.24 417.52L52.39 417.56L52.54 417.59L52.69 417.63L52.83 417.67L52.98 417.71L53.13 417.76L53.28 417.81L53.42 417.87L53.57 417.94L53.72 418.01L53.87 418.1L54.01 418.19L54.16 418.29L54.31 418.4L54.46 418.52L54.6 418.65L54.75 418.8L54.9 418.95L55.05 419.12L55.19 419.3L55.34 419.5L55.49 419.7L55.64 419.92L55.78 420.16L55.93 420.41L56.08 420.67L56.23 420.95L56.37 421.24L56.52 421.54L56.67 421.86L56.82 422.19L56.96 422.53L57.11 422.89L57.26 423.26L57.41 423.64L57.55 424.03L57.7 424.44L57.85 424.85L57.99 425.27L58.14 425.71L58.29 426.15L58.44 426.06L58.58 425.89L58.73 425.72L58.88 425.55L59.03 425.37L59.17 425.18L59.32 424.99L59.47 424.8L59.62 424.61L59.76 424.42L59.91 424.23L60.06 424.05L60.21 423.86L60.35 423.66L60.5 423.4L60.65 423.15L60.8 422.92L60.94 422.69L61.09 422.48L61.24 422.29L61.39 422.11L61.53 421.94L61.68 421.79L61.83 421.66L61.98 421.54L62.12 421.44L62.27 421.36L62.42 421.29L62.57 421.25L62.71 421.22L62.86 421.2L63.01 421.21L63.16 421.24L63.3 421.28L63.45 421.34L63.6 421.42L63.75 421.51L63.89 421.63L64.04 421.76L64.19 421.9L64.34 422.07L64.48 422.25L64.63 422.45L64.78 422.66L64.93 422.88L65.07 423.13L65.22 423.38L65.37 423.65L65.52 423.93L65.66 424.22L65.81 424.52L65.96 424.84L66.11 425.16L66.25 425.49L66.4 425.83L66.55 426.18L66.69 426.53L66.84 426.89L66.99 427.26L67.14 427.62L67.28 427.99L67.43 428.36L67.58 428.26L67.73 427.9L67.87 427.54L68.02 427.19L68.17 426.83L68.32 426.48L68.46 426.14L68.61 425.8L68.76 425.47L68.91 425.15L69.05 424.83L69.2 424.53L69.35 424.23L69.5 423.95L69.64 423.67L69.79 423.41L69.94 423.17L70.09 422.93L70.23 422.71L70.38 422.51L70.53 422.32L70.68 422.15L70.82 421.99L70.97 421.85L71.12 421.73L71.27 421.63L71.41 421.54L71.56 421.48L71.71 421.43L71.86 421.4L72 421.39L72.15 421.4L72.3 421.43L72.45 421.47L72.59 421.54L72.74 421.62L72.89 421.73L73.04 421.85L73.18 421.99L73.33 422.15L73.48 422.32L73.63 422.52L73.77 422.72L73.92 422.95L74.07 423.19L74.22 423.45L74.36 423.72L74.51 424L74.66 424.3L74.81 424.6L74.95 424.92L75.1 425.26L75.25 425.6L75.4 425.94L75.54 426.3L75.69 426.67L75.84 427.04L75.98 427.41L76.13 427.79L76.28 428.18L76.43 428.56L76.57 428.83L76.72 428.46L76.87 428.08L77.02 427.71L77.16 427.34L77.31 426.98L77.46 426.62L77.61 426.26L77.75 425.91L77.9 425.57L78.05 425.24L78.2 424.92L78.34 424.61L78.49 424.3L78.64 424.02L78.79 423.74L78.93 423.48L79.08 423.23L79.23 423L79.38 422.78L79.52 422.58L79.67 422.39L79.82 422.23L79.97 422.08L80.11 421.95L80.26 421.84L80.41 421.75L80.56 421.67L80.7 421.62L80.85 421.59L81 421.57L81.15 421.58L81.29 421.61L81.44 421.65L81.59 421.72L81.74 421.81L81.88 421.91L82.03 422.04L82.18 422.18L82.33 422.35L82.47 422.53L82.62 422.73L82.77 422.95L82.92 423.18L83.06 423.43L83.21 423.7L83.36 423.98L83.51 424.28L83.65 424.59L83.8 424.91L83.95 425.24L84.1 425.59L84.24 425.94L84.39 426.31L84.54 426.68L84.68 427.06L84.83 427.45L84.98 427.84L85.13 428.23L85.27 428.63L85.42 429.04L85.57 429.13L85.72 428.74L85.86 428.35L86.01 427.96L86.16 427.58L86.31 427.2L86.45 426.83L86.6 426.46L86.75 426.1L86.9 425.75L87.04 425.41L87.19 425.07L87.34 424.75L87.49 424.44L87.63 424.15L87.78 423.87L87.93 423.6L88.08 423.35L88.22 423.11L88.37 422.9L88.52 422.7L88.67 422.51L88.81 422.35L88.96 422.2L89.11 422.08L89.26 421.97L89.4 421.89L89.55 421.82L89.7 421.78L89.85 421.76L89.99 421.76L90.14 421.78L90.29 421.82L90.44 421.88L90.58 421.96L90.73 422.06L90.88 422.19L91.03 422.33L91.17 422.5L91.32 422.68L91.47 422.88L91.62 423.1L91.76 423.34L91.91 423.6L92.06 423.87L92.21 424.16L92.35 424.47L92.5 424.79L92.65 425.12L92.8 425.46L92.94 425.82L93.09 426.19L93.24 426.57L93.38 426.95L93.53 427.35L93.68 427.75L93.83 428.15L93.97 428.56L94.12 428.98L94.27 429.4L94.42 429.52L94.56 429.12L94.71 428.71L94.86 428.31L95.01 427.91L95.15 427.52L95.3 427.13L95.45 426.75L95.6 426.38L95.74 426.01L95.89 425.66L96.04 425.31L96.19 424.98L96.33 424.66L96.48 424.35L96.63 424.06L96.78 423.79L96.92 423.53L97.07 423.29L97.22 423.07L97.37 422.86L97.51 422.67L97.66 422.51L97.81 422.36L97.96 422.24L98.1 422.13L98.25 422.05L98.4 421.99L98.55 421.95L98.69 421.93L98.84 421.94L98.99 421.97L99.14 422.02L99.28 422.09L99.43 422.18L99.58 422.3L99.73 422.43L99.87 422.59L100.02 422.77L100.17 422.97L100.32 423.19L100.46 423.43L100.61 423.68L100.76 423.96L100.91 424.25L101.05 424.56L101.2 424.88L101.35 425.22L101.5 425.57L101.64 425.94L101.79 426.32L101.94 426.7L102.09 427.1L102.23 427.51L102.38 427.92L102.53 428.34L102.67 428.77L102.82 429.2L102.97 429.63L103.12 430.04L103.26 429.61L103.41 429.19L103.56 428.78L103.71 428.36L103.85 427.95L104 427.54L104.15 427.15L104.3 426.76L104.44 426.37L104.59 426L104.74 425.64L104.89 425.3L105.03 424.96L105.18 424.64L105.33 424.34L105.48 424.05L105.62 423.78L105.77 423.53L105.92 423.29L106.07 423.08L106.21 422.88L106.36 422.71L106.51 422.56L106.66 422.43L106.8 422.32L106.95 422.23L107.1 422.17L107.25 422.13L107.39 422.11L107.54 422.12L107.69 422.15L107.84 422.2L107.98 422.27L108.13 422.37L108.28 422.5L108.43 422.64L108.57 422.81L108.72 423L108.87 423.2L109.02 423.43L109.16 423.69L109.31 423.96L109.46 424.24L109.61 424.55L109.75 424.87L109.9 425.21L110.05 425.57L110.2 425.94L110.34 426.32L110.49 426.71L110.64 427.12L110.79 427.53L110.93 427.96L111.08 428.39L111.23 428.83L111.37 429.27L111.52 429.71L111.67 430.16L111.82 430.24L111.96 429.81L112.11 429.37L112.26 428.94L112.41 428.51L112.55 428.09L112.7 427.67L112.85 427.26L113 426.86L113.14 426.47L113.29 426.09L113.44 425.72L113.59 425.37L113.73 425.03L113.88 424.71L114.03 424.4L114.18 424.11L114.32 423.84L114.47 423.59L114.62 423.36L114.77 423.15L114.91 422.96L115.06 422.79L115.21 422.65L115.36 422.53L115.5 422.43L115.65 422.36L115.8 422.31L115.95 422.29L116.09 422.29L116.24 422.31L116.39 422.36L116.54 422.43L116.68 422.53L116.83 422.65L116.98 422.8L117.13 422.97L117.27 423.16L117.42 423.37L117.57 423.61L117.72 423.86L117.86 424.14L118.01 424.44L118.16 424.75L118.31 425.09L118.45 425.44L118.6 425.8L118.75 426.19L118.9 426.58L119.04 426.99L119.19 427.41L119.34 427.84L119.49 428.28L119.63 428.73L119.78 429.18L119.93 429.64L120.07 430.1L120.22 430.57L120.37 430.57L120.52 430.12L120.66 429.67L120.81 429.22L120.96 428.78L121.11 428.34L121.25 427.9L121.4 427.48L121.55 427.07L121.7 426.66L121.84 426.27L121.99 425.9L122.14 425.53L122.29 425.19L122.43 424.86L122.58 424.54L122.73 424.25L122.88 423.97L123.02 423.72L123.17 423.49L123.32 423.28L123.47 423.09L123.61 422.93L123.76 422.78L123.91 422.67L124.06 422.58L124.2 422.51L124.35 422.47L124.5 422.46L124.65 422.47L124.79 422.5L124.94 422.57L125.09 422.65L125.24 422.77L125.38 422.9L125.53 423.07L125.68 423.25L125.83 423.46L125.97 423.7L126.12 423.95L126.27 424.23L126.42 424.53L126.56 424.85L126.71 425.19L126.86 425.54L127.01 425.92L127.15 426.31L127.3 426.71L127.45 427.13L127.6 427.56L127.74 428L127.89 428.46L128.04 428.92L128.19 429.39L128.33 429.86L128.48 430.34L128.63 430.82L128.77 431.04L128.92 430.57L129.07 430.1L129.22 429.64L129.36 429.17L129.51 428.72L129.66 428.27L129.81 427.83L129.95 427.4L130.1 426.98L130.25 426.57L130.4 426.18L130.54 425.8L130.69 425.44L130.84 425.1L130.99 424.78L131.13 424.47L131.28 424.19L131.43 423.92L131.58 423.68L131.72 423.46L131.87 423.27L132.02 423.1L132.17 422.96L132.31 422.84L132.46 422.74L132.61 422.68L132.76 422.64L132.9 422.63L133.05 422.64L133.2 422.68L133.35 422.75L133.49 422.84L133.64 422.97L133.79 423.11L133.94 423.29L134.08 423.49L134.23 423.71L134.38 423.96L134.53 424.23L134.67 424.52L134.82 424.83L134.97 425.17L135.12 425.53L135.26 425.9L135.41 426.29L135.56 426.7L135.71 427.12L135.85 427.56L136 428.01L136.15 428.47L136.3 428.95L136.44 429.43L136.59 429.91L136.74 430.4L136.89 430.9L137.03 431.4L137.18 431.18L137.33 430.69L137.47 430.21L137.62 429.73L137.77 429.25L137.92 428.78L138.06 428.32L138.21 427.87L138.36 427.44L138.51 427.01L138.65 426.6L138.8 426.2L138.95 425.82L139.1 425.46L139.24 425.11L139.39 424.79L139.54 424.49L139.69 424.21L139.83 423.95L139.98 423.72L140.13 423.51L140.28 423.33L140.42 423.17L140.57 423.04L140.72 422.94L140.87 422.86L141.01 422.81L141.16 422.8L141.31 422.8L141.46 422.84L141.6 422.91L141.75 423L141.9 423.12L142.05 423.27L142.19 423.45L142.34 423.65L142.49 423.88L142.64 424.13L142.78 424.41L142.93 424.71L143.08 425.03L143.23 425.38L143.37 425.75L143.52 426.13L143.67 426.54L143.82 426.96L143.96 427.4L144.11 427.85L144.26 428.32L144.41 428.8L144.55 429.28L144.7 429.78L144.85 430.28L145 430.79L145.14 431.31L145.29 431.82L145.44 431.46L145.59 430.96L145.73 430.46L145.88 429.96L146.03 429.47L146.18 428.99L146.32 428.51L146.47 428.05L146.62 427.6L146.76 427.16L146.91 426.74L147.06 426.33L147.21 425.94L147.35 425.57L147.5 425.22L147.65 424.9L147.8 424.59L147.94 424.31L148.09 424.05L148.24 423.82L148.39 423.62L148.53 423.44L148.68 423.29L148.83 423.16L148.98 423.07L149.12 423L149.27 422.97L149.42 422.96L149.57 422.99L149.71 423.04L149.86 423.12L150.01 423.23L150.16 423.37L150.3 423.54L150.45 423.74L150.6 423.96L150.75 424.21L150.89 424.49L151.04 424.79L151.19 425.12L151.34 425.46L151.48 425.84L151.63 426.23L151.78 426.64L151.93 427.07L152.07 427.52L152.22 427.98L152.37 428.46L152.52 428.95L152.66 429.45L152.81 429.96L152.96 430.48L153.11 431.01L153.25 431.54L153.4 432.07L153.55 431.9L153.7 431.38L153.84 430.87L153.99 430.35L154.14 429.85L154.29 429.35L154.43 428.85L154.58 428.37L154.73 427.91L154.88 427.45L155.02 427.01L155.17 426.59L155.32 426.19L155.46 425.81L155.61 425.45L155.76 425.11L155.91 424.79L156.05 424.5L156.2 424.24L156.35 424L156.5 423.79L156.64 423.6L156.79 423.45L156.94 423.32L157.09 423.23L157.23 423.16L157.38 423.13L157.53 423.13L157.68 423.16L157.82 423.21L157.97 423.3L158.12 423.42L158.27 423.57L158.41 423.75L158.56 423.96L158.71 424.2L158.86 424.47L159 424.76L159.15 425.08L159.3 425.42L159.45 425.79L159.59 426.18L159.74 426.59L159.89 427.02L160.04 427.47L160.18 427.94L160.33 428.42L160.48 428.92L160.63 429.43L160.77 429.95L160.92 430.48L161.07 431.02L161.22 431.57L161.36 432.12L161.51 432.54L161.66 432L161.81 431.46L161.95 430.93L162.1 430.4L162.25 429.88L162.4 429.37L162.54 428.87L162.69 428.38L162.84 427.9L162.99 427.44L163.13 427L163.28 426.58L163.43 426.17L163.58 425.79L163.72 425.43L163.87 425.1L164.02 424.79L164.16 424.51L164.31 424.25L164.46 424.02L164.61 423.83L164.75 423.66L164.9 423.52L165.05 423.42L165.2 423.34L165.34 423.3L165.49 423.29L165.64 423.31L165.79 423.36L165.93 423.45L166.08 423.57L166.23 423.72L166.38 423.9L166.52 424.11L166.67 424.35L166.82 424.62L166.97 424.92L167.11 425.25L167.26 425.6L167.41 425.98L167.56 426.38L167.7 426.8L167.85 427.25L168 427.71L168.15 428.2L168.29 428.7L168.44 429.21L168.59 429.74L168.74 430.28L168.88 430.82L169.03 431.38L169.18 431.94L169.33 432.51L169.47 432.82L169.62 432.27L169.77 431.71L169.92 431.16L170.06 430.62L170.21 430.08L170.36 429.56L170.51 429.04L170.65 428.54L170.8 428.05L170.95 427.58L171.1 427.13L171.24 426.7L171.39 426.29L171.54 425.9L171.69 425.53L171.83 425.2L171.98 424.89L172.13 424.6L172.28 424.35L172.42 424.12L172.57 423.93L172.72 423.77L172.87 423.64L173.01 423.54L173.16 423.48L173.31 423.45L173.45 423.45L173.6 423.49L173.75 423.56L173.9 423.67L174.04 423.81L174.19 423.98L174.34 424.18L174.49 424.41L174.63 424.68L174.78 424.97L174.93 425.3L175.08 425.65L175.22 426.03L175.37 426.43L175.52 426.86L175.67 427.31L175.81 427.78L175.96 428.27L176.11 428.78L176.26 429.31L176.4 429.84L176.55 430.4L176.7 430.96L176.85 431.53L176.99 432.11L177.14 432.69L177.29 433.28L177.44 432.73L177.58 432.16L177.73 431.59L177.88 431.03L178.03 430.48L178.17 429.93L178.32 429.4L178.47 428.88L178.62 428.37L178.76 427.88L178.91 427.41L179.06 426.96L179.21 426.54L179.35 426.14L179.5 425.76L179.65 425.41L179.8 425.09L179.94 424.79L180.09 424.53L180.24 424.3L180.39 424.1L180.53 423.93L180.68 423.8L180.83 423.7L180.98 423.64L181.12 423.61L181.27 423.62L181.42 423.66L181.57 423.73L181.71 423.84L181.86 423.99L182.01 424.17L182.15 424.38L182.3 424.63L182.45 424.91L182.6 425.22L182.74 425.56L182.89 425.92L183.04 426.32L183.19 426.74L183.33 427.19L183.48 427.66L183.63 428.15L183.78 428.66L183.92 429.19L184.07 429.74L184.22 430.3L184.37 430.87L184.51 431.45L184.66 432.05L184.81 432.64L184.96 433.24L185.1 433.42L185.25 432.83L185.4 432.24L185.55 431.65L185.69 431.08L185.84 430.51L185.99 429.95L186.14 429.41L186.28 428.88L186.43 428.37L186.58 427.87L186.73 427.4L186.87 426.95L187.02 426.52L187.17 426.12L187.32 425.75L187.46 425.4L187.61 425.09L187.76 424.81L187.91 424.55L188.05 424.34L188.2 424.15L188.35 424L188.5 423.89L188.64 423.81L188.79 423.77L188.94 423.77L189.09 423.8L189.23 423.87L189.38 423.97L189.53 424.11L189.68 424.29L189.82 424.5L189.97 424.75L190.12 425.03L190.27 425.34L190.41 425.68L190.56 426.06L190.71 426.46L190.85 426.89L191 427.35L191.15 427.83L191.3 428.33L191.44 428.86L191.59 429.4L191.74 429.97L191.89 430.54L192.03 431.13L192.18 431.73L192.33 432.34L192.48 432.96L192.62 433.58L192.77 433.74L192.92 433.13L193.07 432.52L193.21 431.92L193.36 431.33L193.51 430.74L193.66 430.17L193.8 429.61L193.95 429.07L194.1 428.54L194.25 428.03L194.39 427.55L194.54 427.09L194.69 426.66L194.84 426.25L194.98 425.87L195.13 425.52L195.28 425.2L195.43 424.92L195.57 424.67L195.72 424.45L195.87 424.27L196.02 424.13L196.16 424.02L196.31 423.95L196.46 423.92L196.61 423.93L196.75 423.97L196.9 424.06L197.05 424.18L197.2 424.34L197.34 424.53L197.49 424.77L197.64 425.03L197.79 425.34L197.93 425.67L198.08 426.04L198.23 426.44L198.38 426.87L198.52 427.32L198.67 427.81L198.82 428.32L198.97 428.85L199.11 429.4L199.26 429.97L199.41 430.55L199.55 431.16L199.7 431.77L199.85 432.39L200 433.02L200.14 433.66L200.29 434.29L200.44 433.66L200.59 433.04L200.73 432.42L200.88 431.8L201.03 431.2L201.18 430.6L201.32 430.02L201.47 429.46L201.62 428.91L201.77 428.39L201.91 427.88L202.06 427.4L202.21 426.95L202.36 426.52L202.5 426.13L202.65 425.76L202.8 425.43L202.95 425.13L203.09 424.87L203.24 424.64L203.39 424.45L203.54 424.3L203.68 424.18L203.83 424.11L203.98 424.07L204.13 424.08L204.27 424.12L204.42 424.21L204.57 424.33L204.72 424.5L204.86 424.7L205.01 424.94L205.16 425.21L205.31 425.53L205.45 425.87L205.6 426.25L205.75 426.67L205.9 427.11L206.04 427.58L206.19 428.08L206.34 428.61L206.49 429.16L206.63 429.73L206.78 430.32L206.93 430.93L207.08 431.55L207.22 432.18L207.37 432.82L207.52 433.48L207.67 434.13L207.81 434.46L207.96 433.81L208.11 433.17L208.25 432.53L208.4 431.9L208.55 431.28L208.7 430.68L208.84 430.08L208.99 429.51L209.14 428.95L209.29 428.42L209.43 427.91L209.58 427.42L209.73 426.97L209.88 426.54L210.02 426.15L210.17 425.79L210.32 425.46L210.47 425.17L210.61 424.92L210.76 424.7L210.91 424.52L211.06 424.39L211.2 424.29L211.35 424.24L211.5 424.22L211.65 424.25L211.79 424.32L211.94 424.43L212.09 424.58L212.24 424.77L212.38 425.01L212.53 425.28L212.68 425.59L212.83 425.93L212.97 426.31L213.12 426.73L213.27 427.17L213.42 427.65L213.56 428.16L213.71 428.69L213.86 429.25L214.01 429.83L214.15 430.43L214.3 431.05L214.45 431.69L214.6 432.34L214.74 433L214.89 433.67L215.04 434.34L215.19 434.88L215.33 434.21L215.48 433.55L215.63 432.89L215.78 432.24L215.92 431.61L216.07 430.98L216.22 430.37L216.37 429.78L216.51 429.2L216.66 428.65L216.81 428.13L216.96 427.63L217.1 427.16L217.25 426.72L217.4 426.32L217.54 425.95L217.69 425.61L217.84 425.32L217.99 425.06L218.13 424.84L218.28 424.66L218.43 424.53L218.58 424.43L218.72 424.38L218.87 424.37L219.02 424.41L219.17 424.49L219.31 424.61L219.46 424.77L219.61 424.98L219.76 425.23L219.9 425.51L220.05 425.84L220.2 426.2L220.35 426.61L220.49 427.04L220.64 427.51L220.79 428.01L220.94 428.54L221.08 429.1L221.23 429.68L221.38 430.29L221.53 430.91L221.67 431.56L221.82 432.22L221.97 432.89L222.12 433.57L222.26 434.26L222.41 434.95L222.56 434.89L222.71 434.21L222.85 433.53L223 432.85L223.15 432.19L223.3 431.54L223.44 430.9L223.59 430.28L223.74 429.69L223.89 429.11L224.03 428.56L224.18 428.03L224.33 427.54L224.48 427.08L224.62 426.65L224.77 426.25L224.92 425.89L225.07 425.58L225.21 425.3L225.36 425.06L225.51 424.86L225.66 424.71L225.8 424.6L225.95 424.54L226.1 424.52L226.24 404.69L226.39 404.95L226.54 405.17L226.69 405.34L226.83 405.47L226.98 405.56L227.13 405.6L227.28 405.59L227.42 405.55L227.57 405.45L227.72 405.32L227.87 405.14L228.01 404.92L228.16 404.65L228.31 404.35L228.46 404.01L228.6 403.63L228.75 403.21L228.9 402.77L229.05 402.28L229.19 401.77L229.34 401.24L229.49 400.67L229.64 400.08L229.78 399.47L229.93 398.85L230.08 398.21L230.23 397.55L230.37 396.88L230.52 396.21L230.67 395.53L230.82 394.92L230.96 395.62L231.11 396.31L231.26 396.99L231.41 397.66L231.55 398.32L231.7 398.97L231.85 399.6L232 400.22L232.14 400.81L232.29 401.37L232.44 401.91L232.59 402.42L232.73 402.9L232.88 403.35L233.03 403.76L233.18 404.14L233.32 404.48L233.47 404.79L233.62 405.05L233.77 405.27L233.91 405.45L234.06 405.59L234.21 405.69L234.36 405.74L234.5 405.76L234.65 405.72L234.8 405.65L234.94 405.53L235.09 405.38L235.24 405.18L235.39 404.94L235.53 404.66L235.68 404.35L235.83 403.99L235.98 403.61L236.12 403.19L236.27 402.73L236.42 402.25L236.57 401.74L236.71 401.21L236.86 400.65L237.01 400.07L237.16 399.47L237.3 398.85L237.45 398.22L237.6 397.58L237.75 396.93L237.89 396.27L238.04 395.61L238.19 395.5L238.34 396.17L238.48 396.84L238.63 397.5L238.78 398.15L238.93 398.79L239.07 399.42L239.22 400.03L239.37 400.62L239.52 401.18L239.66 401.73L239.81 402.25L239.96 402.74L240.11 403.2L240.25 403.63L240.4 404.02L240.55 404.38L240.7 404.71L240.84 405L240.99 405.25L241.14 405.46L241.29 405.63L241.43 405.76L241.58 405.85L241.73 405.9L241.88 405.91L242.02 405.88L242.17 405.81L242.32 405.69L242.47 405.54L242.61 405.35L242.76 405.12L242.91 404.85L243.06 404.54L243.2 404.2L243.35 403.83L243.5 403.42L243.65 402.98L243.79 402.52L243.94 402.03L244.09 401.51L244.23 400.97L244.38 400.41L244.53 399.83L244.68 399.23L244.82 398.62L244.97 398L245.12 397.38L245.27 396.74L245.41 396.1L245.56 395.68L245.71 396.33L245.86 396.98L246 397.63L246.15 398.26L246.3 398.89L246.45 399.5L246.59 400.09L246.74 400.67L246.89 401.23L247.04 401.77L247.18 402.28L247.33 402.77L247.48 403.23L247.63 403.66L247.77 404.05L247.92 404.42L248.07 404.75L248.22 405.05L248.36 405.31L248.51 405.53L248.66 405.72L248.81 405.87L248.95 405.97L249.1 406.04L249.25 406.07L249.4 406.06L249.54 406.01L249.69 405.93L249.84 405.8L249.99 405.64L250.13 405.43L250.28 405.2L250.43 404.92L250.58 404.61L250.72 404.27L250.87 403.9L251.02 403.49L251.17 403.06L251.31 402.6L251.46 402.12L251.61 401.61L251.76 401.08L251.9 400.53L252.05 399.96L252.2 399.38L252.35 398.79L252.49 398.19L252.64 397.57L252.79 396.96L252.93 396.33L253.08 396.12L253.23 396.75L253.38 397.38L253.52 398.01L253.67 398.62L253.82 399.23L253.97 399.82L254.11 400.4L254.26 400.96L254.41 401.5L254.56 402.02L254.7 402.52L254.85 402.99L255 403.43L255.15 403.85L255.29 404.24L255.44 404.6L255.59 404.92L255.74 405.21L255.88 405.46L256.03 405.68L256.18 405.87L256.33 406.02L256.47 406.13L256.62 406.2L256.77 406.23L256.92 406.23L257.06 406.19L257.21 406.11L257.36 405.99L257.51 405.84L257.65 405.65L257.8 405.43L257.95 405.17L258.1 404.88L258.24 404.56L258.39 404.21L258.54 403.82L258.69 403.41L258.83 402.97L258.98 402.51L259.13 402.02L259.28 401.52L259.42 400.99L259.57 400.45L259.72 399.89L259.87 399.32L260.01 398.74L260.16 398.15L260.31 397.55L260.46 396.95L260.6 396.35L260.75 396.79L260.9 397.41L261.05 398.02L261.19 398.62L261.34 399.21L261.49 399.79L261.63 400.36L261.78 400.92L261.93 401.45L262.08 401.97L262.22 402.46L262.37 402.94L262.52 403.38L262.67 403.81L262.81 404.2L262.96 404.56L263.11 404.9L263.26 405.2L263.4 405.47L263.55 405.71L263.7 405.91L263.85 406.08L263.99 406.22L264.14 406.31L264.29 406.37L264.44 406.4L264.58 406.39L264.73 406.34L264.88 406.26L265.03 406.14L265.17 405.98L265.32 405.8L265.47 405.58L265.62 405.32L265.76 405.03L265.91 404.72L266.06 404.37L266.21 404L266.35 403.6L266.5 403.17L266.65 402.72L266.8 402.25L266.94 401.76L267.09 401.25L267.24 400.72L267.39 400.18L267.53 399.63L267.68 399.06L267.83 398.49L267.98 397.91L268.12 397.33L268.27 396.75L268.42 397.08L268.57 397.68L268.71 398.27L268.86 398.85L269.01 399.43L269.16 400L269.3 400.55L269.45 401.09L269.6 401.61L269.75 402.12L269.89 402.6L270.04 403.06L270.19 403.5L270.33 403.92L270.48 404.31L270.63 404.67L270.78 405L270.92 405.31L271.07 405.58L271.22 405.82L271.37 406.03L271.51 406.2L271.66 406.34L271.81 406.45L271.96 406.52L272.1 406.56L272.25 406.56L272.4 406.53L272.55 406.46L272.69 406.36L272.84 406.23L272.99 406.06L273.14 405.86L273.28 405.63L273.43 405.37L273.58 405.08L273.73 404.76L273.87 404.41L274.02 404.03L274.17 403.64L274.32 403.21L274.46 402.77L274.61 402.3L274.76 401.82L274.91 401.32L275.05 400.8L275.2 400.27L275.35 399.73L275.5 399.19L275.64 398.63L275.79 398.07L275.94 397.5L276.09 397.01L276.23 397.59L276.38 398.17L276.53 398.74L276.68 399.31L276.82 399.86L276.97 400.41L277.12 400.94L277.27 401.46L277.41 401.97L277.56 402.45L277.71 402.92L277.86 403.36L278 403.79L278.15 404.19L278.3 404.56L278.45 404.91L278.59 405.23L278.74 405.52L278.89 405.78L279.03 406.01L279.18 406.21L279.33 406.38L279.48 406.52L279.62 406.62L279.77 406.69L279.92 406.73L280.07 406.73L280.21 406.7L280.36 406.64L280.51 406.54L280.66 406.42L280.8 406.26L280.95 406.07L281.1 405.85L281.25 405.6L281.39 405.32L281.54 405.01L281.69 404.68L281.84 404.32L281.98 403.94L282.13 403.53L282.28 403.11L282.43 402.66L282.57 402.2L282.72 401.72L282.87 401.22L283.02 400.71L283.16 400.19L283.31 399.66L283.46 399.13L283.61 398.58L283.75 398.04L283.9 397.49L284.05 397.74L284.2 398.3L284.34 398.86L284.49 399.41L284.64 399.95L284.79 400.48L284.93 401.01L285.08 401.51L285.23 402.01L285.38 402.49L285.52 402.95L285.67 403.39L285.82 403.81L285.97 404.21L286.11 404.58L286.26 404.93L286.41 405.26L286.56 405.56L286.7 405.83L286.85 406.07L287 406.28L287.15 406.46L287.29 406.61L287.44 406.73L287.59 406.82L287.74 406.88L287.88 406.9L288.03 406.89L288.18 406.86L288.32 406.79L288.47 406.69L288.62 406.55L288.77 406.39L288.91 406.2L289.06 405.98L289.21 405.73L289.36 405.46L289.5 405.15L289.65 404.83L289.8 404.48L289.95 404.1L290.09 403.71L290.24 403.29L290.39 402.86L290.54 402.41L290.68 401.94L290.83 401.46L290.98 400.97L291.13 400.46L291.27 399.95L291.42 399.43L291.57 398.91L291.72 398.38L291.86 397.85L292.01 398.1L292.16 398.64L292.31 399.18L292.45 399.71L292.6 400.24L292.75 400.76L292.9 401.26L293.04 401.76L293.19 402.24L293.34 402.7L293.49 403.15L293.63 403.58L293.78 403.99L293.93 404.38L294.08 404.74L294.22 405.09L294.37 405.4L294.52 405.7L294.67 405.96L294.81 406.2L294.96 406.42L295.11 406.6L295.26 406.75L295.4 406.88L295.55 406.97L295.7 407.03L295.85 407.07L295.99 407.07L296.14 407.05L296.29 406.99L296.44 406.9L296.58 406.79L296.73 406.64L296.88 406.47L297.02 406.26L297.17 406.03L297.32 405.78L297.47 405.5L297.61 405.19L297.76 404.86L297.91 404.51L298.06 404.14L298.2 403.75L298.35 403.34L298.5 402.91L298.65 402.47L298.79 402.01L298.94 401.54L299.09 401.06L299.24 400.57L299.38 400.07L299.53 399.56L299.68 399.06L299.83 398.54L299.97 398.12L300.12 398.65L300.27 399.17L300.42 399.69L300.56 400.2L300.71 400.71L300.86 401.2L301.01 401.69L301.15 402.17L301.3 402.63L301.45 403.07L301.6 403.5L301.74 403.91L301.89 404.3L302.04 404.68L302.19 405.03L302.33 405.35L302.48 405.66L302.63 405.94L302.78 406.19L302.92 406.42L303.07 406.62L303.22 406.8L303.37 406.94L303.51 407.06L303.66 407.15L303.81 407.21L303.96 407.24L304.1 407.25L304.25 407.22L304.4 407.16L304.55 407.08L304.69 406.97L304.84 406.83L304.99 406.66L305.14 406.47L305.28 406.25L305.43 406L305.58 405.73L305.72 405.44L305.87 405.13L306.02 404.79L306.17 404.43L306.31 404.06L306.46 403.66L306.61 403.25L306.76 402.83L306.9 402.39L307.05 401.94L307.2 401.47L307.35 401L307.49 400.52L307.64 400.04L307.79 399.55L307.94 399.05L308.08 398.56L308.23 398.85L308.38 399.36L308.53 399.86L308.67 400.36L308.82 400.85L308.97 401.33L309.12 401.81L309.26 402.27L309.41 402.72L309.56 403.16L309.71 403.58L309.85 403.98L310 404.37L310.15 404.74L310.3 405.09L310.44 405.42L310.59 405.72L310.74 406L310.89 406.26L311.03 406.5L311.18 406.71L311.33 406.89L311.48 407.05L311.62 407.18L311.77 407.28L311.92 407.36L312.07 407.4L312.21 407.42L312.36 407.42L312.51 407.38L312.66 407.32L312.8 407.23L312.95 407.11L313.1 406.97L313.25 406.8L313.39 406.61L313.54 406.39L313.69 406.15L313.84 405.88L313.98 405.59L314.13 405.28L314.28 404.96L314.43 404.61L314.57 404.24L314.72 403.86L314.87 403.46L315.01 403.05L315.16 402.62L315.31 402.19L315.46 401.74L315.6 401.28L315.75 400.82L315.9 400.35L316.05 399.88L316.19 399.4L316.34 398.92L316.49 399.23L316.64 399.72L316.78 400.21L316.93 400.69L317.08 401.16L317.23 401.63L317.37 402.09L317.52 402.54L317.67 402.97L317.82 403.4L317.96 403.8L318.11 404.2L318.26 404.57L318.41 404.93L318.55 405.27L318.7 405.59L318.85 405.89L319 406.17L319.14 406.42L319.29 406.65L319.44 406.86L319.59 407.04L319.73 407.2L319.88 407.33L320.03 407.44L320.18 407.52L320.32 407.57L320.47 407.6L320.62 407.6L320.77 407.57L320.91 407.52L321.06 407.45L321.21 407.34L321.36 407.21L321.5 407.06L321.65 406.88L321.8 406.68L321.95 406.46L322.09 406.21L322.24 405.94L322.39 405.65L322.54 405.35L322.68 405.02L322.83 404.67L322.98 404.31L323.13 403.94L323.27 403.55L323.42 403.14L323.57 402.73L323.71 402.3L323.86 401.87L324.01 401.42L324.16 400.97L324.3 400.52L324.45 400.06L324.6 399.6L324.75 399.3L324.89 399.77L325.04 400.24L325.19 400.71L325.34 401.17L325.48 401.63L325.63 402.08L325.78 402.52L325.93 402.95L326.07 403.36L326.22 403.77L326.37 404.16L326.52 404.53L326.66 404.89L326.81 405.24L326.96 405.56L327.11 405.87L327.25 406.15L327.4 406.41L327.55 406.66L327.7 406.88L327.84 407.07L327.99 407.25L328.14 407.4L328.29 407.52L328.43 407.62L328.58 407.7L328.73 407.75L328.88 407.78L329.02 407.78L329.17 407.76L329.32 407.71L329.47 407.63L329.61 407.53L329.76 407.41L329.91 407.27L330.06 407.1L330.2 406.9L330.35 406.69L330.5 406.46L330.65 406.2L330.79 405.92L330.94 405.63L331.09 405.32L331.24 404.99L331.38 404.64L331.53 404.28L331.68 403.91L331.83 403.52L331.97 403.12L332.12 402.72L332.27 402.3L332.41 401.87L332.56 401.44L332.71 401.01L332.86 400.57L333 400.12L333.15 399.68L333.3 399.99L333.45 400.45L333.59 400.9L333.74 401.35L333.89 401.79L334.04 402.22L334.18 402.65L334.33 403.07L334.48 403.48L334.63 403.87L334.77 404.26L334.92 404.62L335.07 404.98L335.22 405.32L335.36 405.64L335.51 405.94L335.66 406.23L335.81 406.49L335.95 406.74L336.1 406.96L336.25 407.16L336.4 407.35L336.54 407.5L336.69 407.64L336.84 407.75L336.99 407.84L337.13 407.91L337.28 407.95L337.43 407.96L337.58 407.96L337.72 407.93L337.87 407.87L338.02 407.79L338.17 407.69L338.31 407.57L338.46 407.42L338.61 407.26L338.76 407.07L338.9 406.86L339.05 406.63L339.2 406.38L339.35 406.11L339.49 405.82L339.64 405.52L339.79 405.2L339.94 404.86L340.08 404.52L340.23 404.15L340.38 403.78L340.53 403.4L340.67 403L340.82 402.6L340.97 402.19L341.11 401.78L341.26 401.36L341.41 400.93L341.56 400.51L341.7 400.08L341.85 400.36L342 400.8L342.15 401.24L342.29 401.67L342.44 402.09L342.59 402.51L342.74 402.93L342.88 403.33L343.03 403.72L343.18 404.11L343.33 404.48L343.47 404.84L343.62 405.18L343.77 405.51L343.92 405.82L344.06 406.12L344.21 406.39L344.36 406.65L344.51 406.9L344.65 407.12L344.8 407.32L344.95 407.5L345.1 407.66L345.24 407.79L345.39 407.91L345.54 408L345.69 408.07L345.83 408.12L345.98 408.14L346.13 408.15L346.28 408.13L346.42 408.08L346.57 408.02L346.72 407.93L346.87 407.82L347.01 407.69L347.16 407.54L347.31 407.37L347.46 407.17L347.6 406.96L347.75 406.73L347.9 406.48L348.05 406.21L348.19 405.93L348.34 405.63L348.49 405.32L348.64 404.99L348.78 404.65L348.93 404.3L349.08 403.94L349.23 403.56L349.37 403.18L349.52 402.79L349.67 402.4L349.81 402L349.96 401.59L350.11 401.18L350.26 400.77L350.4 400.44L350.55 400.86L350.7 401.29L350.85 401.7L350.99 402.12L351.14 402.53L351.29 402.93L351.44 403.33L351.58 403.71L351.73 404.09L351.88 404.46L352.03 404.81L352.17 405.15L352.32 405.48L352.47 405.8L352.62 406.1L352.76 406.38L352.91 406.65L353.06 406.89L353.21 407.13L353.35 407.34L353.5 407.53L353.65 407.7L353.8 407.86L353.94 407.99L354.09 408.1L354.24 408.19L354.39 408.26L354.53 408.31L354.68 408.33L354.83 408.33L354.98 408.32L355.12 408.28L355.27 408.22L355.42 408.14L355.57 408.03L355.71 407.91L355.86 407.77L356.01 407.61L356.16 407.42L356.3 407.22L356.45 407.01L356.6 406.77L356.75 406.52L356.89 406.25L357.04 405.97L357.19 405.67L357.34 405.36L357.48 405.04L357.63 404.7L357.78 404.35L357.93 404L358.07 403.64L358.22 403.27L358.37 402.89L358.52 402.5L358.66 402.12L358.81 401.73L358.96 401.33L359.1 400.94L359.25 401.08L359.4 401.48L359.55 401.88L359.69 402.29L359.84 402.68L359.99 403.07L360.14 403.46L360.28 403.83L360.43 404.2L360.58 404.56L360.73 404.9L360.87 405.24L361.02 405.56L361.17 405.87L361.32 406.17L361.46 406.45L361.61 406.72L361.76 406.97L361.91 407.2L362.05 407.42L362.2 407.62L362.35 407.8L362.5 407.96L362.64 408.1L362.79 408.22L362.94 408.32L363.09 408.4L363.23 408.46L363.38 408.5L363.53 408.52L363.68 408.52L363.82 408.5L363.97 408.46L364.12 408.4L364.27 408.32L364.41 408.22L364.56 408.1L364.71 407.96L364.86 407.8L365 407.62L365.15 407.43L365.3 407.22L365.45 406.99L365.59 406.75L365.74 406.49L365.89 406.22L366.04 405.93L366.18 405.63L366.33 405.32L366.48 405L366.63 404.67L366.77 404.33L366.92 403.98L367.07 403.63L367.22 403.27L367.36 402.9L367.51 402.53L367.66 402.15L367.8 401.78L367.95 401.4L368.1 401.42L368.25 401.81L368.39 402.19L368.54 402.58L368.69 402.96L368.84 403.34L368.98 403.71L369.13 404.07L369.28 404.42L369.43 404.77L369.57 405.11L369.72 405.43L369.87 405.75L370.02 406.05L370.16 406.34L370.31 406.61L370.46 406.87L370.61 407.12L370.75 407.35L370.9 407.56L371.05 407.76L371.2 407.94L371.34 408.1L371.49 408.24L371.64 408.37L371.79 408.47L371.93 408.56L372.08 408.63L372.23 408.68L372.38 408.71L372.52 408.72L372.67 408.71L372.82 408.68L372.97 408.63L373.11 408.56L373.26 408.48L373.41 408.37L373.56 408.25L373.7 408.11L373.85 407.95L374 407.77L374.15 407.58L374.29 407.38L374.44 407.15L374.59 406.92L374.74 406.66L374.88 406.4L375.03 406.12L375.18 405.83L375.33 405.53L375.47 405.22L375.62 404.9L375.77 404.58L375.92 404.24L376.06 403.9L376.21 403.55L376.36 403.2L376.5 402.84L376.65 402.48L376.8 402.12L376.95 401.76L377.09 401.87L377.24 402.24L377.39 402.61L377.54 402.98L377.68 403.35L377.83 403.71L377.98 404.06L378.13 404.41L378.27 404.75L378.42 405.08L378.57 405.41L378.72 405.72L378.86 406.02L379.01 406.31L379.16 406.59L379.31 406.85L379.45 407.1L379.6 407.34L379.75 407.56L379.9 407.77L380.04 407.96L380.19 408.13L380.34 408.29L380.49 408.43L380.63 408.55L380.78 408.66L380.93 408.74L381.08 408.81L381.22 408.86L381.37 408.9L381.52 408.91L381.67 408.9L381.81 408.88L381.96 408.84L382.11 408.78L382.26 408.7L382.4 408.61L382.55 408.5L382.7 408.37L382.85 408.22L382.99 408.06L383.14 407.88L383.29 407.69L383.44 407.48L383.58 407.26L383.73 407.03L383.88 406.78L384.03 406.52L384.17 406.25L384.32 405.96L384.47 405.67L384.62 405.37L384.76 405.06L384.91 404.74L385.06 404.42L385.2 404.09L385.35 403.76L385.5 403.42L385.65 403.08L385.79 402.73L385.94 402.39L386.09 402.06L386.24 402.42L386.38 402.77L386.53 403.13L386.68 403.48L386.83 403.83L386.97 404.17L387.12 404.51L387.27 404.84L387.42 405.17L387.56 405.48L387.71 405.79L387.86 406.08L388.01 406.37L388.15 406.65L388.3 406.91L388.45 407.16L388.6 407.4L388.74 407.62L388.89 407.83L389.04 408.03L389.19 408.21L389.33 408.37L389.48 408.52L389.63 408.65L389.78 408.77L389.92 408.87L390.07 408.95L390.22 409.01L390.37 409.06L390.51 409.09L390.66 409.11L390.81 409.1L390.96 409.08L391.1 409.04L391.25 408.98L391.4 408.91L391.55 408.82L391.69 408.71L391.84 408.59L391.99 408.45L392.14 408.3L392.28 408.13L392.43 407.95L392.58 407.75L392.73 407.54L392.87 407.32L393.02 407.09L393.17 406.84L393.32 406.58L393.46 406.32L393.61 406.04L393.76 405.75L393.91 405.46L394.05 405.16L394.2 404.98L394.35 404.8L394.49 404.63L394.64 404.46L394.79 404.29L394.94 404.14L395.08 403.99L395.23 403.85L395.38 404.12L395.53 404.58L395.67 405.03L395.82 405.47L395.97 405.9L396.12 406.32L396.26 406.72L396.41 407.11L396.56 407.49L396.71 407.86L396.85 408.21L397 408.55L397.15 408.87L397.3 409.18L397.44 409.48L397.59 409.76L397.74 410.03L397.89 410.28L398.03 410.52L398.18 410.74L398.33 410.96L398.48 411.15L398.62 411.34L398.77 411.51L398.92 411.67L399.07 411.82L399.21 411.96L399.36 412.09L399.51 412.22L399.66 412.33L399.8 412.43L399.95 412.53L400.1 412.62L400.25 412.71L400.39 412.79L400.54 412.87L400.69 412.95L400.84 413.02L400.98 413.1L401.13 413.18L401.28 413.26L401.43 413.34L401.57 413.43L401.72 413.53L401.87 413.64L402.02 413.76L402.16 413.89L402.31 414.04L402.46 414.21L402.61 414.41L402.75 414.66L402.9 415.05" fill="none" stroke="#15579a" stroke-width="1.1" stroke-linejoin="round"/>
<path d="M49 415.05L49.25 415.12L49.51 415.17L49.76 415.21L50.01 415.26L50.26 415.3L50.52 415.35L50.77 415.39L51.02 415.44L51.28 415.49L51.53 415.54L51.78 415.59L52.03 415.65L52.29 415.71L52.54 415.77L52.79 415.83L53.04 415.9L53.3 415.98L53.55 416.06L53.8 416.14L54.06 416.23L54.31 416.34L54.56 416.44L54.81 416.56L55.07 416.69L55.32 416.83L55.57 416.98L55.83 417.15L56.08 417.33L56.33 417.53L56.58 417.75L56.84 417.99L57.09 418.26L57.34 418.55L57.59 418.87L57.85 419.22L58.1 419.6L58.35 419.64L58.61 419.44L58.86 419.25L59.11 419.08L59.36 418.91L59.62 418.76L59.87 418.61L60.12 418.48L60.38 418.34L60.63 418.17L60.88 418.01L61.13 417.86L61.39 417.73L61.64 417.6L61.89 417.49L62.14 417.38L62.4 417.29L62.65 417.2L62.9 417.12L63.16 417.05L63.41 416.98L63.66 416.91L63.91 416.86L64.17 416.8L64.42 416.75L64.67 416.71L64.93 416.67L65.18 416.63L65.43 416.59L65.68 416.56L65.94 416.53L66.19 416.51L66.44 416.48L66.69 416.46L66.95 416.44L67.2 416.42L67.45 416.4L67.71 416.38L67.96 416.37L68.21 416.36L68.46 416.34L68.72 416.33L68.97 416.32L69.22 416.31L69.48 416.3L69.73 416.29L69.98 416.29L70.23 416.28L70.49 416.27L70.74 416.27L70.99 416.26L71.25 416.26L71.5 416.25L71.75 416.25L72 416.24L72.26 416.24L72.51 416.24L72.76 416.23L73.01 416.23L73.27 416.23L73.52 416.23L73.77 416.22L74.03 416.22L74.28 416.22L74.53 416.22L74.78 416.22L75.04 416.22L75.29 416.21L75.54 416.21L75.8 416.21L76.05 416.21L76.3 416.21L76.55 416.21L76.81 416.21L77.06 416.21L77.31 416.21L77.56 416.21L77.82 416.21L78.07 416.21L78.32 416.21L78.58 416.21L78.83 416.21L79.08 416.21L79.33 416.21L79.59 416.21L79.84 416.21L80.09 416.21L80.35 416.21L80.6 416.21L80.85 416.21L81.1 416.21L81.36 416.21L81.61 416.21L81.86 416.21L82.11 416.21L82.37 416.21L82.62 416.22L82.87 416.22L83.13 416.22L83.38 416.22L83.63 416.22L83.88 416.22L84.14 416.23L84.39 416.23L84.64 416.23L84.9 416.23L85.15 416.24L85.4 416.24L85.65 416.24L85.91 416.25L86.16 416.25L86.41 416.25L86.67 416.26L86.92 416.26L87.17 416.27L87.42 416.28L87.68 416.28L87.93 416.29L88.18 416.3L88.43 416.31L88.69 416.32L88.94 416.33L89.19 416.34L89.45 416.35L89.7 416.37L89.95 416.38L90.2 416.4L90.46 416.41L90.71 416.43L90.96 416.45L91.22 416.48L91.47 416.5L91.72 416.53L91.97 416.56L92.23 416.59L92.48 416.62L92.73 416.66L92.98 416.7L93.24 416.75L93.49 416.79L93.74 416.85L94 416.9L94.25 416.96L94.5 417.03L94.75 417.1L95.01 417.18L95.26 417.27L95.51 417.37L95.77 417.47L96.02 417.58L96.27 417.7L96.52 417.83L96.78 417.98L97.03 418.13L97.28 418.3L97.53 418.49L97.79 418.69L98.04 418.91L98.29 419.15L98.55 419.41L98.8 419.69L99.05 420L99.3 420.33L99.56 420.69L99.81 421.09L100.06 421.52L100.32 421.99L100.57 422.5L100.82 423.05L101.07 423.65L101.33 424.16L101.58 423.52L101.83 422.93L102.09 422.39L102.34 421.89L102.59 421.43L102.84 421L103.1 420.62L103.35 420.26L103.6 419.93L103.85 419.63L104.11 419.35L104.36 419.1L104.61 418.87L104.87 418.65L105.12 418.45L105.37 418.27L105.62 418.11L105.88 417.95L106.13 417.81L106.38 417.68L106.64 417.57L106.89 417.46L107.14 417.36L107.39 417.27L107.65 417.18L107.9 417.1L108.15 417.03L108.4 416.97L108.66 416.91L108.91 416.86L109.16 416.81L109.42 416.76L109.67 416.72L109.92 416.68L110.17 416.65L110.43 416.62L110.68 416.59L110.93 416.56L111.19 416.54L111.44 416.52L111.69 416.5L111.94 416.49L112.2 416.47L112.45 416.46L112.7 416.45L112.95 416.45L113.21 416.44L113.46 416.44L113.71 416.43L113.97 416.43L114.22 416.43L114.47 416.43L114.72 416.44L114.98 416.44L115.23 416.45L115.48 416.46L115.74 416.47L115.99 416.48L116.24 416.5L116.49 416.52L116.75 416.54L117 416.56L117.25 416.58L117.5 416.61L117.76 416.64L118.01 416.67L118.26 416.71L118.52 416.75L118.77 416.79L119.02 416.84L119.27 416.9L119.53 416.95L119.78 417.02L120.03 417.09L120.29 417.16L120.54 417.24L120.79 417.33L121.04 417.43L121.3 417.54L121.55 417.65L121.8 417.78L122.06 417.92L122.31 418.07L122.56 418.23L122.81 418.41L123.07 418.6L123.32 418.81L123.57 419.04L123.82 419.29L124.08 419.56L124.33 419.86L124.58 420.18L124.84 420.53L125.09 420.91L125.34 421.32L125.59 421.77L125.85 422.26L126.1 422.79L126.35 423.37L126.61 424L126.86 423.84L127.11 423.23L127.36 422.66L127.62 422.14L127.87 421.67L128.12 421.23L128.37 420.83L128.63 420.46L128.88 420.12L129.13 419.81L129.39 419.52L129.64 419.26L129.89 419.02L130.14 418.8L130.4 418.6L130.65 418.42L130.9 418.25L131.16 418.09L131.41 417.95L131.66 417.82L131.91 417.71L132.17 417.6L132.42 417.51L132.67 417.42L132.92 417.34L133.18 417.27L133.43 417.21L133.68 417.15L133.94 417.11L134.19 417.07L134.44 417.03L134.69 417L134.95 416.98L135.2 416.96L135.45 416.94L135.71 416.94L135.96 416.93L136.21 416.94L136.46 416.95L136.72 416.96L136.97 416.98L137.22 417L137.47 417.03L137.73 417.07L137.98 417.11L138.23 417.16L138.49 417.21L138.74 417.28L138.99 417.35L139.24 417.43L139.5 417.51L139.75 417.61L140 417.72L140.26 417.83L140.51 417.96L140.76 418.1L141.01 418.26L141.27 418.43L141.52 418.61L141.77 418.82L142.03 419.04L142.28 419.28L142.53 419.54L142.78 419.83L143.04 420.14L143.29 420.48L143.54 420.86L143.79 421.26L144.05 421.7L144.3 422.18L144.55 422.7L144.81 423.27L145.06 423.89L145.31 423.97L145.56 423.34L145.82 422.76L146.07 422.23L146.32 421.75L146.58 421.3L146.83 420.89L147.08 420.51L147.33 420.17L147.59 419.85L147.84 419.56L148.09 419.29L148.34 419.04L148.6 418.82L148.85 418.61L149.1 418.42L149.36 418.24L149.61 418.08L149.86 417.94L150.11 417.8L150.37 417.68L150.62 417.57L150.87 417.47L151.13 417.37L151.38 417.29L151.63 417.21L151.88 417.14L152.14 417.08L152.39 417.02L152.64 416.97L152.89 416.92L153.15 416.88L153.4 416.84L153.65 416.81L153.91 416.78L154.16 416.76L154.41 416.74L154.66 416.73L154.92 416.72L155.17 416.71L155.42 416.7L155.68 416.7L155.93 416.71L156.18 416.71L156.43 416.72L156.69 416.74L156.94 416.75L157.19 416.78L157.45 416.8L157.7 416.83L157.95 416.87L158.2 416.91L158.46 416.95L158.71 417L158.96 417.06L159.21 417.12L159.47 417.19L159.72 417.26L159.97 417.34L160.23 417.43L160.48 417.53L160.73 417.64L160.98 417.76L161.24 417.89L161.49 418.04L161.74 418.19L162 418.36L162.25 418.55L162.5 418.75L162.75 418.97L163.01 419.21L163.26 419.47L163.51 419.75L163.76 420.06L164.02 420.4L164.27 420.76L164.52 421.16L164.78 421.6L165.03 422.07L165.28 422.58L165.53 423.14L165.79 423.75L166.04 424.2L166.29 423.57L166.55 422.98L166.8 422.45L167.05 421.96L167.3 421.51L167.56 421.1L167.81 420.72L168.06 420.38L168.31 420.06L168.57 419.77L168.82 419.51L169.07 419.27L169.33 419.05L169.58 418.86L169.83 418.68L170.08 418.52L170.34 418.38L170.59 418.25L170.84 418.13L171.1 418.03L171.35 417.95L171.6 417.87L171.85 417.81L172.11 417.76L172.36 417.72L172.61 417.69L172.87 417.67L173.12 417.66L173.37 417.67L173.62 417.68L173.88 417.7L174.13 417.73L174.38 417.78L174.63 417.84L174.89 417.9L175.14 417.98L175.39 418.08L175.65 418.18L175.9 418.3L176.15 418.44L176.4 418.59L176.66 418.75L176.91 418.94L177.16 419.15L177.42 419.37L177.67 419.62L177.92 419.89L178.17 420.19L178.43 420.52L178.68 420.88L178.93 421.27L179.18 421.7L179.44 422.16L179.69 422.67L179.94 423.23L180.2 423.83L180.45 424.23L180.7 423.59L180.95 423.01L181.21 422.47L181.46 421.98L181.71 421.53L181.97 421.11L182.22 420.73L182.47 420.38L182.72 420.07L182.98 419.78L183.23 419.51L183.48 419.27L183.73 419.05L183.99 418.85L184.24 418.67L184.49 418.51L184.75 418.37L185 418.23L185.25 418.12L185.5 418.02L185.76 417.93L186.01 417.85L186.26 417.78L186.52 417.73L186.77 417.69L187.02 417.65L187.27 417.63L187.53 417.62L187.78 417.62L188.03 417.62L188.28 417.64L188.54 417.67L188.79 417.71L189.04 417.76L189.3 417.82L189.55 417.89L189.8 417.98L190.05 418.07L190.31 418.18L190.56 418.31L190.81 418.45L191.07 418.6L191.32 418.77L191.57 418.97L191.82 419.18L192.08 419.41L192.33 419.66L192.58 419.94L192.84 420.25L193.09 420.58L193.34 420.94L193.59 421.34L193.85 421.78L194.1 422.25L194.35 422.77L194.6 423.34L194.86 423.95L195.11 424.03L195.36 423.41L195.62 422.83L195.87 422.3L196.12 421.81L196.37 421.37L196.63 420.96L196.88 420.58L197.13 420.23L197.39 419.92L197.64 419.63L197.89 419.36L198.14 419.12L198.4 418.9L198.65 418.69L198.9 418.51L199.15 418.34L199.41 418.18L199.66 418.04L199.91 417.92L200.17 417.8L200.42 417.7L200.67 417.61L200.92 417.53L201.18 417.45L201.43 417.39L201.68 417.33L201.94 417.28L202.19 417.25L202.44 417.21L202.69 417.19L202.95 417.17L203.2 417.16L203.45 417.15L203.7 417.16L203.96 417.17L204.21 417.18L204.46 417.2L204.72 417.23L204.97 417.27L205.22 417.32L205.47 417.37L205.73 417.43L205.98 417.5L206.23 417.58L206.49 417.67L206.74 417.77L206.99 417.88L207.24 418L207.5 418.14L207.75 418.29L208 418.45L208.25 418.63L208.51 418.83L208.76 419.05L209.01 419.28L209.27 419.54L209.52 419.83L209.77 420.13L210.02 420.47L210.28 420.84L210.53 421.24L210.78 421.67L211.04 422.14L211.29 422.66L211.54 423.22L211.79 423.84L212.05 424.25L212.3 423.62L212.55 423.04L212.81 422.51L213.06 422.03L213.31 421.58L213.56 421.18L213.82 420.81L214.07 420.47L214.32 420.16L214.57 419.88L214.83 419.63L215.08 419.4L215.33 419.19L215.59 419.01L215.84 418.84L216.09 418.7L216.34 418.57L216.6 418.46L216.85 418.36L217.1 418.28L217.36 418.22L217.61 418.17L217.86 418.13L218.11 418.11L218.37 418.1L218.62 418.1L218.87 418.12L219.12 418.15L219.38 418.2L219.63 418.26L219.88 418.33L220.14 418.42L220.39 418.53L220.64 418.65L220.89 418.79L221.15 418.95L221.4 419.12L221.65 419.32L221.91 419.54L222.16 419.78L222.41 420.05L222.66 420.35L222.92 420.68L223.17 421.03L223.42 421.43L223.67 421.86L223.93 422.33L224.18 422.84L224.43 423.4L224.69 423.11L224.94 422.55L225.19 422.04L225.44 421.57L225.7 421.13L225.95 420.74L226.2 410L226.46 409.66L226.71 409.28L226.96 408.88L227.21 408.43L227.47 407.95L227.72 407.43L227.97 406.86L228.23 406.36L228.48 406.91L228.73 407.41L228.98 407.86L229.24 408.27L229.49 408.64L229.74 408.97L229.99 409.27L230.25 409.53L230.5 409.76L230.75 409.96L231.01 410.14L231.26 410.29L231.51 410.41L231.76 410.51L232.02 410.58L232.27 410.63L232.52 410.66L232.78 410.66L233.03 410.64L233.28 410.6L233.53 410.53L233.79 410.44L234.04 410.33L234.29 410.19L234.54 410.02L234.8 409.83L235.05 409.6L235.3 409.35L235.56 409.06L235.81 408.74L236.06 408.39L236.31 407.99L236.57 407.55L236.82 407.07L237.07 406.54L237.33 405.95L237.58 405.73L237.83 406.39L238.08 406.99L238.34 407.54L238.59 408.05L238.84 408.52L239.09 408.95L239.35 409.34L239.6 409.7L239.85 410.03L240.11 410.34L240.36 410.62L240.61 410.87L240.86 411.11L241.12 411.32L241.37 411.51L241.62 411.69L241.88 411.86L242.13 412L242.38 412.14L242.63 412.26L242.89 412.37L243.14 412.47L243.39 412.56L243.65 412.64L243.9 412.71L244.15 412.77L244.4 412.83L244.66 412.88L244.91 412.92L245.16 412.95L245.41 412.97L245.67 412.99L245.92 413.01L246.17 413.01L246.43 413.01L246.68 413.01L246.93 412.99L247.18 412.98L247.44 412.95L247.69 412.92L247.94 412.88L248.2 412.83L248.45 412.78L248.7 412.71L248.95 412.64L249.21 412.56L249.46 412.48L249.71 412.38L249.96 412.27L250.22 412.14L250.47 412.01L250.72 411.86L250.98 411.7L251.23 411.52L251.48 411.33L251.73 411.12L251.99 410.88L252.24 410.63L252.49 410.35L252.75 410.05L253 409.72L253.25 409.36L253.5 408.97L253.76 408.54L254.01 408.07L254.26 407.57L254.51 407.02L254.77 406.42L255.02 405.87L255.27 406.52L255.53 407.11L255.78 407.65L256.03 408.15L256.28 408.61L256.54 409.03L256.79 409.42L257.04 409.77L257.3 410.1L257.55 410.4L257.8 410.67L258.05 410.92L258.31 411.15L258.56 411.36L258.81 411.55L259.06 411.72L259.32 411.88L259.57 412.03L259.82 412.16L260.08 412.28L260.33 412.39L260.58 412.49L260.83 412.57L261.09 412.65L261.34 412.72L261.59 412.78L261.85 412.83L262.1 412.88L262.35 412.91L262.6 412.94L262.86 412.97L263.11 412.98L263.36 412.99L263.62 413L263.87 413L264.12 412.99L264.37 412.97L264.63 412.95L264.88 412.92L265.13 412.89L265.38 412.84L265.64 412.79L265.89 412.73L266.14 412.67L266.4 412.59L266.65 412.51L266.9 412.41L267.15 412.31L267.41 412.19L267.66 412.06L267.91 411.92L268.17 411.76L268.42 411.59L268.67 411.4L268.92 411.2L269.18 410.97L269.43 410.73L269.68 410.46L269.93 410.17L270.19 409.85L270.44 409.5L270.69 409.12L270.95 408.71L271.2 408.26L271.45 407.77L271.7 407.24L271.96 406.66L272.21 406.03L272.46 406.21L272.72 406.82L272.97 407.38L273.22 407.9L273.47 408.37L273.73 408.8L273.98 409.2L274.23 409.57L274.48 409.9L274.74 410.2L274.99 410.48L275.24 410.74L275.5 410.97L275.75 411.18L276 411.37L276.25 411.54L276.51 411.7L276.76 411.84L277.01 411.97L277.27 412.08L277.52 412.18L277.77 412.26L278.02 412.34L278.28 412.41L278.53 412.46L278.78 412.5L279.03 412.54L279.29 412.56L279.54 412.57L279.79 412.58L280.05 412.58L280.3 412.56L280.55 412.54L280.8 412.51L281.06 412.46L281.31 412.41L281.56 412.35L281.82 412.27L282.07 412.18L282.32 412.09L282.57 411.97L282.83 411.85L283.08 411.71L283.33 411.55L283.59 411.38L283.84 411.19L284.09 410.98L284.34 410.75L284.6 410.5L284.85 410.22L285.1 409.92L285.35 409.59L285.61 409.23L285.86 408.83L286.11 408.4L286.37 407.93L286.62 407.42L286.87 406.86L287.12 406.26L287.38 406.01L287.63 406.64L287.88 407.23L288.14 407.76L288.39 408.26L288.64 408.71L288.89 409.13L289.15 409.51L289.4 409.86L289.65 410.19L289.9 410.48L290.16 410.75L290.41 411L290.66 411.23L290.92 411.44L291.17 411.64L291.42 411.81L291.67 411.98L291.93 412.12L292.18 412.26L292.43 412.38L292.69 412.5L292.94 412.6L293.19 412.69L293.44 412.78L293.7 412.86L293.95 412.93L294.2 412.99L294.45 413.05L294.71 413.1L294.96 413.14L295.21 413.18L295.47 413.21L295.72 413.24L295.97 413.27L296.22 413.29L296.48 413.3L296.73 413.32L296.98 413.32L297.24 413.33L297.49 413.33L297.74 413.32L297.99 413.31L298.25 413.3L298.5 413.28L298.75 413.26L299.01 413.23L299.26 413.2L299.51 413.16L299.76 413.12L300.02 413.07L300.27 413.02L300.52 412.96L300.77 412.9L301.03 412.82L301.28 412.74L301.53 412.65L301.79 412.56L302.04 412.45L302.29 412.33L302.54 412.2L302.8 412.06L303.05 411.91L303.3 411.74L303.56 411.55L303.81 411.35L304.06 411.14L304.31 410.9L304.57 410.64L304.82 410.36L305.07 410.05L305.32 409.71L305.58 409.35L305.83 408.95L306.08 408.52L306.34 408.05L306.59 407.54L306.84 406.98L307.09 406.37L307.35 405.96L307.6 406.6L307.85 407.19L308.11 407.73L308.36 408.22L308.61 408.68L308.86 409.1L309.12 409.48L309.37 409.83L309.62 410.15L309.87 410.45L310.13 410.72L310.38 410.97L310.63 411.2L310.89 411.41L311.14 411.6L311.39 411.78L311.64 411.94L311.9 412.08L312.15 412.22L312.4 412.34L312.66 412.45L312.91 412.55L313.16 412.64L313.41 412.72L313.67 412.8L313.92 412.86L314.17 412.92L314.43 412.97L314.68 413.01L314.93 413.05L315.18 413.08L315.44 413.11L315.69 413.13L315.94 413.15L316.19 413.15L316.45 413.16L316.7 413.16L316.95 413.15L317.21 413.14L317.46 413.12L317.71 413.1L317.96 413.07L318.22 413.04L318.47 413L318.72 412.95L318.98 412.9L319.23 412.84L319.48 412.77L319.73 412.69L319.99 412.61L320.24 412.52L320.49 412.41L320.74 412.3L321 412.17L321.25 412.03L321.5 411.88L321.76 411.72L322.01 411.54L322.26 411.34L322.51 411.12L322.77 410.89L323.02 410.63L323.27 410.35L323.53 410.04L323.78 409.71L324.03 409.35L324.28 408.95L324.54 408.52L324.79 408.05L325.04 407.54L325.29 406.99L325.55 406.38L325.8 406.74L326.05 407.32L326.31 407.85L326.56 408.34L326.81 408.79L327.06 409.2L327.32 409.58L327.57 409.93L327.82 410.25L328.08 410.55L328.33 410.82L328.58 411.07L328.83 411.29L329.09 411.5L329.34 411.7L329.59 411.87L329.84 412.04L330.1 412.19L330.35 412.32L330.6 412.45L330.86 412.57L331.11 412.67L331.36 412.77L331.61 412.86L331.87 412.94L332.12 413.02L332.37 413.09L332.63 413.15L332.88 413.21L333.13 413.26L333.38 413.31L333.64 413.36L333.89 413.4L334.14 413.43L334.4 413.47L334.65 413.5L334.9 413.53L335.15 413.55L335.41 413.57L335.66 413.59L335.91 413.61L336.16 413.63L336.42 413.64L336.67 413.65L336.92 413.66L337.18 413.67L337.43 413.68L337.68 413.69L337.93 413.69L338.19 413.69L338.44 413.69L338.69 413.69L338.95 413.69L339.2 413.69L339.45 413.68L339.7 413.68L339.96 413.67L340.21 413.66L340.46 413.65L340.71 413.63L340.97 413.62L341.22 413.6L341.47 413.58L341.73 413.56L341.98 413.53L342.23 413.51L342.48 413.48L342.74 413.45L342.99 413.41L343.24 413.37L343.5 413.33L343.75 413.28L344 413.23L344.25 413.17L344.51 413.11L344.76 413.04L345.01 412.97L345.26 412.89L345.52 412.8L345.77 412.71L346.02 412.61L346.28 412.49L346.53 412.37L346.78 412.24L347.03 412.09L347.29 411.93L347.54 411.76L347.79 411.57L348.05 411.37L348.3 411.15L348.55 410.91L348.8 410.64L349.06 410.36L349.31 410.05L349.56 409.71L349.81 409.34L350.07 408.94L350.32 408.51L350.57 408.03L350.83 407.52L351.08 406.95L351.33 406.98L351.58 407.54L351.84 408.05L352.09 408.53L352.34 408.96L352.6 409.36L352.85 409.73L353.1 410.06L353.35 410.37L353.61 410.66L353.86 410.92L354.11 411.16L354.37 411.38L354.62 411.59L354.87 411.77L355.12 411.95L355.38 412.1L355.63 412.25L355.88 412.38L356.13 412.51L356.39 412.62L356.64 412.72L356.89 412.82L357.15 412.91L357.4 412.99L357.65 413.06L357.9 413.13L358.16 413.19L358.41 413.25L358.66 413.3L358.92 413.35L359.17 413.39L359.42 413.43L359.67 413.47L359.93 413.51L360.18 413.54L360.43 413.57L360.68 413.6L360.94 413.62L361.19 413.64L361.44 413.66L361.7 413.68L361.95 413.7L362.2 413.72L362.45 413.73L362.71 413.75L362.96 413.76L363.21 413.77L363.47 413.78L363.72 413.79L363.97 413.8L364.22 413.81L364.48 413.82L364.73 413.82L364.98 413.83L365.23 413.83L365.49 413.84L365.74 413.84L365.99 413.85L366.25 413.85L366.5 413.86L366.75 413.86L367 413.86L367.26 413.87L367.51 413.87L367.76 413.87L368.02 413.87L368.27 413.88L368.52 413.88L368.77 413.88L369.03 413.88L369.28 413.88L369.53 413.88L369.79 413.89L370.04 413.89L370.29 413.89L370.54 413.89L370.8 413.89L371.05 413.89L371.3 413.89L371.55 413.89L371.81 413.89L372.06 413.89L372.31 413.89L372.57 413.89L372.82 413.89L373.07 413.89L373.32 413.89L373.58 413.89L373.83 413.89L374.08 413.89L374.34 413.89L374.59 413.89L374.84 413.89L375.09 413.89L375.35 413.89L375.6 413.89L375.85 413.89L376.1 413.88L376.36 413.88L376.61 413.88L376.86 413.88L377.12 413.88L377.37 413.88L377.62 413.87L377.87 413.87L378.13 413.87L378.38 413.87L378.63 413.86L378.89 413.86L379.14 413.86L379.39 413.85L379.64 413.85L379.9 413.85L380.15 413.84L380.4 413.83L380.65 413.83L380.91 413.82L381.16 413.82L381.41 413.81L381.67 413.8L381.92 413.79L382.17 413.78L382.42 413.77L382.68 413.76L382.93 413.75L383.18 413.73L383.44 413.72L383.69 413.7L383.94 413.69L384.19 413.67L384.45 413.65L384.7 413.62L384.95 413.6L385.2 413.57L385.46 413.54L385.71 413.51L385.96 413.48L386.22 413.44L386.47 413.4L386.72 413.35L386.97 413.31L387.23 413.25L387.48 413.2L387.73 413.13L387.99 413.07L388.24 412.99L388.49 412.91L388.74 412.83L389 412.73L389.25 412.63L389.5 412.52L389.76 412.4L390.01 412.26L390.26 412.12L390.51 411.96L390.77 411.79L391.02 411.61L391.27 411.41L391.52 411.19L391.78 410.95L392.03 410.69L392.28 410.41L392.54 410.1L392.79 410L393.04 410.32L393.29 410.61L393.55 410.87L393.8 411.12L394.05 411.34L394.31 411.62L394.56 411.88L394.81 412.12L395.06 412.33L395.32 412.53L395.57 412.71L395.82 412.88L396.07 413.03L396.33 413.17L396.58 413.3L396.83 413.42L397.09 413.53L397.34 413.64L397.59 413.73L397.84 413.82L398.1 413.9L398.35 413.98L398.6 414.06L398.86 414.12L399.11 414.19L399.36 414.25L399.61 414.31L399.87 414.37L400.12 414.43L400.37 414.48L400.62 414.53L400.88 414.58L401.13 414.63L401.38 414.68L401.64 414.74L401.89 414.79L402.14 414.84L402.39 414.9L402.65 414.96L402.9 415.05" fill="none" stroke="#f0552a" stroke-width="1.1" stroke-linejoin="round"/>
<path d="M49 415.05L49.88 415.12L50.77 415.18L51.65 415.23L52.54 415.28L53.42 415.32L54.31 415.36L55.19 415.4L56.08 415.44L56.96 415.48L57.85 415.52L58.73 415.56L59.62 415.6L60.5 415.62L61.39 415.62L62.27 415.62L63.16 415.62L64.04 415.62L64.93 415.62L65.81 415.62L66.69 415.62L67.58 415.62L68.46 415.62L69.35 415.62L70.23 415.62L71.12 415.62L72 415.62L72.89 415.62L73.77 415.62L74.66 415.62L75.54 415.62L76.43 415.62L77.31 415.62L78.2 415.62L79.08 415.62L79.97 415.62L80.85 415.62L81.74 415.62L82.62 415.62L83.51 415.62L84.39 415.62L85.27 415.62L86.16 415.62L87.04 415.62L87.93 415.62L88.81 415.62L89.7 415.62L90.58 415.62L91.47 415.62L92.35 415.62L93.24 415.62L94.12 415.62L95.01 415.62L95.89 415.62L96.78 415.62L97.66 415.62L98.55 415.62L99.43 415.62L100.32 415.62L101.2 415.62L102.09 415.62L102.97 415.62L103.85 415.62L104.74 415.62L105.62 415.62L106.51 415.62L107.39 415.62L108.28 415.62L109.16 415.62L110.05 415.62L110.93 415.62L111.82 415.62L112.7 415.62L113.59 415.62L114.47 415.62L115.36 415.62L116.24 415.62L117.13 415.62L118.01 415.62L118.9 415.62L119.78 415.62L120.66 415.62L121.55 415.62L122.43 415.62L123.32 415.62L124.2 415.62L125.09 415.62L125.97 415.62L126.86 415.62L127.74 415.62L128.63 415.62L129.51 415.62L130.4 415.62L131.28 415.62L132.17 415.62L133.05 415.62L133.94 415.62L134.82 415.62L135.71 415.62L136.59 415.62L137.47 415.62L138.36 415.62L139.24 415.62L140.13 415.62L141.01 415.62L141.9 415.62L142.78 415.62L143.67 415.62L144.55 415.62L145.44 415.62L146.32 415.62L147.21 415.62L148.09 415.62L148.98 415.62L149.86 415.62L150.75 415.62L151.63 415.62L152.52 415.62L153.4 415.62L154.29 415.62L155.17 415.62L156.05 415.62L156.94 415.62L157.82 415.62L158.71 415.62L159.59 415.62L160.48 415.62L161.36 415.62L162.25 415.62L163.13 415.62L164.02 415.62L164.9 415.62L165.79 415.62L166.67 415.62L167.56 415.62L168.44 415.62L169.33 415.62L170.21 415.62L171.1 415.62L171.98 415.62L172.87 415.62L173.75 415.62L174.63 415.62L175.52 415.62L176.4 415.62L177.29 415.62L178.17 415.62L179.06 415.62L179.94 415.62L180.83 415.62L181.71 415.62L182.6 415.62L183.48 415.62L184.37 415.62L185.25 415.62L186.14 415.62L187.02 415.62L187.91 415.62L188.79 415.62L189.68 415.62L190.56 415.62L191.44 415.62L192.33 415.62L193.21 415.62L194.1 415.62L194.98 415.62L195.87 415.62L196.75 415.62L197.64 415.62L198.52 415.62L199.41 415.62L200.29 415.62L201.18 415.62L202.06 415.62L202.95 415.62L203.83 415.62L204.72 415.62L205.6 415.62L206.49 415.62L207.37 415.62L208.25 415.62L209.14 415.62L210.02 415.62L210.91 415.62L211.79 415.62L212.68 415.62L213.56 415.62L214.45 415.62L215.33 415.62L216.22 415.62L217.1 415.62L217.99 415.62L218.87 415.62L219.76 415.62L220.64 415.62L221.53 415.62L222.41 415.62L223.3 415.62L224.18 415.62L225.07 415.62L225.95 415.62L226.83 413.9L227.72 413.9L228.6 413.9L229.49 413.9L230.37 413.9L231.26 413.9L232.14 413.9L233.03 413.9L233.91 413.9L234.8 413.9L235.68 413.9L236.57 413.9L237.45 413.9L238.34 413.9L239.22 413.9L240.11 413.9L240.99 413.9L241.88 413.9L242.76 413.9L243.65 413.9L244.53 413.9L245.41 413.9L246.3 413.9L247.18 413.9L248.07 413.9L248.95 413.9L249.84 413.9L250.72 413.9L251.61 413.9L252.49 413.9L253.38 413.9L254.26 413.9L255.15 413.9L256.03 413.9L256.92 413.9L257.8 413.9L258.69 413.9L259.57 413.9L260.46 413.9L261.34 413.9L262.22 413.9L263.11 413.9L263.99 413.9L264.88 413.9L265.76 413.9L266.65 413.9L267.53 413.9L268.42 413.9L269.3 413.9L270.19 413.9L271.07 413.9L271.96 413.9L272.84 413.9L273.73 413.9L274.61 413.9L275.5 413.9L276.38 413.9L277.27 413.9L278.15 413.9L279.03 413.9L279.92 413.9L280.8 413.9L281.69 413.9L282.57 413.9L283.46 413.9L284.34 413.9L285.23 413.9L286.11 413.9L287 413.9L287.88 413.9L288.77 413.9L289.65 413.9L290.54 413.9L291.42 413.9L292.31 413.9L293.19 413.9L294.08 413.9L294.96 413.9L295.85 413.9L296.73 413.9L297.61 413.9L298.5 413.9L299.38 413.9L300.27 413.9L301.15 413.9L302.04 413.9L302.92 413.9L303.81 413.9L304.69 413.9L305.58 413.9L306.46 413.9L307.35 413.9L308.23 413.9L309.12 413.9L310 413.9L310.89 413.9L311.77 413.9L312.66 413.9L313.54 413.9L314.43 413.9L315.31 413.9L316.19 413.9L317.08 413.9L317.96 413.9L318.85 413.9L319.73 413.9L320.62 413.9L321.5 413.9L322.39 413.9L323.27 413.9L324.16 413.9L325.04 413.9L325.93 413.9L326.81 413.9L327.7 413.9L328.58 413.9L329.47 413.9L330.35 413.9L331.24 413.9L332.12 413.9L333 413.9L333.89 413.9L334.77 413.9L335.66 413.9L336.54 413.9L337.43 413.9L338.31 413.9L339.2 413.9L340.08 413.9L340.97 413.9L341.85 413.9L342.74 413.9L343.62 413.9L344.51 413.9L345.39 413.9L346.28 413.9L347.16 413.9L348.05 413.9L348.93 413.9L349.81 413.9L350.7 413.9L351.58 413.9L352.47 413.9L353.35 413.9L354.24 413.9L355.12 413.9L356.01 413.9L356.89 413.9L357.78 413.9L358.66 413.9L359.55 413.9L360.43 413.9L361.32 413.9L362.2 413.9L363.09 413.9L363.97 413.9L364.86 413.9L365.74 413.9L366.63 413.9L367.51 413.9L368.39 413.9L369.28 413.9L370.16 413.9L371.05 413.9L371.93 413.9L372.82 413.9L373.7 413.9L374.59 413.9L375.47 413.9L376.36 413.9L377.24 413.9L378.13 413.9L379.01 413.9L379.9 413.9L380.78 413.9L381.67 413.9L382.55 413.9L383.44 413.9L384.32 413.9L385.2 413.9L386.09 413.9L386.97 413.9L387.86 413.9L388.74 413.9L389.63 413.9L390.51 413.9L391.4 413.9L392.28 413.9L393.17 413.9L394.05 413.9L394.94 413.99L395.82 414.08L396.71 414.17L397.59 414.27L398.48 414.37L399.36 414.47L400.25 414.58L401.13 414.71L402.02 414.85L402.9 415.05" fill="none" stroke="#6aa84a" stroke-width="1.2" stroke-linejoin="round"/>
<rect x="226.3" y="350.4" width="3.6" height="129.3" fill="#b1ada7"/>
<path d="M226.5 472.45V364.82" stroke="#fdd023" stroke-width="0.9" stroke-opacity="0.9"/>
<rect x="49" y="350.4" width="353.9" height="129.3" fill="none" stroke="#111" stroke-width="1.0"/>
<path d="M119.78 479.7v-4.4M119.78 350.4v4.4M190.56 479.7v-4.4M190.56 350.4v4.4M261.34 479.7v-4.4M261.34 350.4v4.4M332.12 479.7v-4.4M332.12 350.4v4.4M84.39 479.7v-2.4M84.39 350.4v2.4M155.17 479.7v-2.4M155.17 350.4v2.4M225.95 479.7v-2.4M225.95 350.4v2.4M296.73 479.7v-2.4M296.73 350.4v2.4M367.51 479.7v-2.4M367.51 350.4v2.4M49 472.45h4.4M49 443.75h4.4M49 415.05h4.4M49 386.35h4.4M49 357.65h4.4M49 458.1h2.4M49 429.4h2.4M49 400.7h2.4M49 372h2.4M402.9 472.45h-4.4M402.9 443.75h-4.4M402.9 415.05h-4.4M402.9 386.35h-4.4M402.9 357.65h-4.4M402.9 458.1h-2.4M402.9 429.4h-2.4M402.9 400.7h-2.4M402.9 372h-2.4" stroke="#111" stroke-width="0.9" fill="none"/>
<text x="2.4" y="349.2" font-size="10" text-anchor="start" fill="#111" >c</text>
<text x="49" y="492.3" font-size="10" text-anchor="middle" fill="#111" >0</text>
<text x="119.78" y="492.3" font-size="10" text-anchor="middle" fill="#111" >10</text>
<text x="190.56" y="492.3" font-size="10" text-anchor="middle" fill="#111" >20</text>
<text x="261.34" y="492.3" font-size="10" text-anchor="middle" fill="#111" >30</text>
<text x="332.12" y="492.3" font-size="10" text-anchor="middle" fill="#111" >40</text>
<text x="44" y="361.25" font-size="10" text-anchor="end" fill="#111" >0.4</text>
<text x="44" y="389.95" font-size="10" text-anchor="end" fill="#111" >0.2</text>
<text x="44" y="418.65" font-size="10" text-anchor="end" fill="#111" >0</text>
<text x="44" y="447.35" font-size="10" text-anchor="end" fill="#111" >−0.2</text>
<text x="44" y="476.05" font-size="10" text-anchor="end" fill="#111" >−0.4</text>
<text x="225.7" y="507.3" font-size="11.65" text-anchor="middle" fill="#111" >Position (µm)</text>
<text transform="translate(77.3 384.5) rotate(-90)" font-size="12.1" text-anchor="middle" fill="#8a8af3" >Sink</text>
<text transform="translate(217 382.8) rotate(-90)" font-size="12.4" text-anchor="middle" fill="#aeaaa4" >Injector</text>
<text x="261.2" y="438.7" font-size="10.5" text-anchor="start" fill="#111" >injection current</text>
<path d="M291 430.2L307.3 357.8M304.2 361.3L307.3 357.8L308.3 362.4" stroke="#111" stroke-width="0.9" fill="none"/>
<g transform="translate(21 416.5) rotate(-90)" font-size="11.3" fill="#111"><text x="-32.3" y="0" font-weight="bold">-</text><path d="M-27.6 -7.6h7l-3.5 7.4z" fill="none" stroke="#111" stroke-width="1.1" stroke-linejoin="miter"/><text x="-19.8" y="0" font-weight="bold">φ</text><text x="-9.4" y="0">(rad/µm)</text></g>
</svg>
</body></html>
